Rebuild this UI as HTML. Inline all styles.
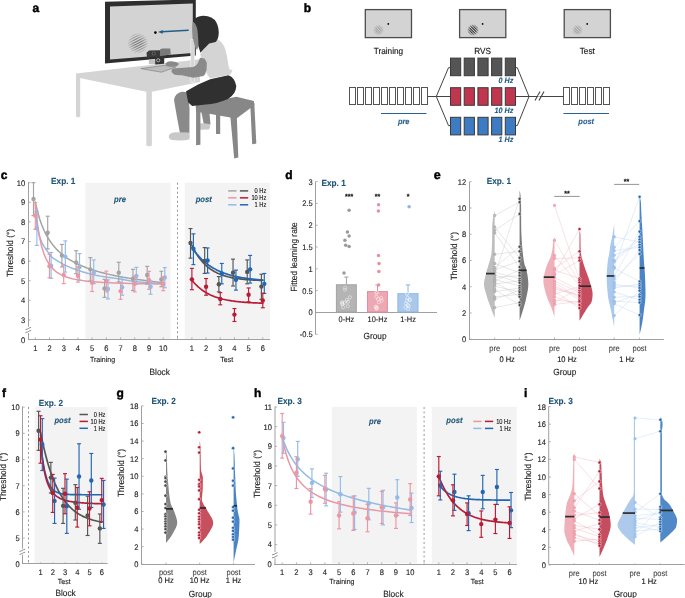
<!DOCTYPE html>
<html><head><meta charset="utf-8"><style>
html,body{margin:0;padding:0;background:#fff;}
body{width:685px;height:598px;overflow:hidden;position:relative;}
.gr{position:absolute;border-radius:50%;-webkit-mask-image:radial-gradient(circle closest-side, #000 45%, rgba(0,0,0,0.35) 85%, transparent 100%);mask-image:radial-gradient(circle closest-side, #000 45%, rgba(0,0,0,0.35) 85%, transparent 100%);}
svg{display:block;font-family:"Liberation Sans", sans-serif;will-change:transform;text-rendering:geometricPrecision;}
</style></head><body>
<svg width="685" height="598" viewBox="0 0 685 598">
<rect width="685" height="598" fill="#fff"/>
<text x="0" y="0" font-size="12" text-anchor="start" fill="#000" stroke="#000" stroke-width="0.45" font-weight="bold" transform="translate(32.5,12)">a</text>
<polygon points="76,73.5 200,59.2 200,82 151.9,91.8 146.3,91.8 76,77.3" fill="#d4d4d4" stroke="none" stroke-width="0" />
<path d="M76,75 L80.2,75 L80.2,116.6 Q78.1,118.2 76,116.6 Z" fill="#d4d4d4" stroke="none" stroke-width="0" />
<path d="M146.3,90 L151.9,90 L151.9,145.6 Q149.1,147.2 146.3,145.6 Z" fill="#d4d4d4" stroke="none" stroke-width="0" />
<polygon points="105,1.8 195.8,-0.6 195.8,55.6 105,63.6" fill="#2e2e2e" stroke="none" stroke-width="0" />
<polygon points="110,6.4 192.8,3.4 192.8,53.1 110,59.4" fill="#d3d3d3" stroke="none" stroke-width="0" />
<defs><clipPath id="clip_a1"><circle cx="137.8" cy="43.3" r="10.2"/></clipPath><radialGradient id="rg_a1"><stop offset="0.4" stop-color="white"/><stop offset="1" stop-color="#222"/></radialGradient><mask id="mask_a1"><circle cx="137.8" cy="43.3" r="10.2" fill="url(#rg_a1)"/></mask></defs>
<g opacity="0.6" clip-path="url(#clip_a1)" mask="url(#mask_a1)">
<line x1="117.02" y1="36.21" x2="144.28" y2="22.32" stroke="#444" stroke-width="1.08" />
<line x1="118.04" y1="38.22" x2="145.3" y2="24.33" stroke="#444" stroke-width="1.08" />
<line x1="119.06" y1="40.22" x2="146.33" y2="26.33" stroke="#444" stroke-width="1.08" />
<line x1="120.08" y1="42.23" x2="147.35" y2="28.33" stroke="#444" stroke-width="1.08" />
<line x1="121.1" y1="44.23" x2="148.37" y2="30.34" stroke="#444" stroke-width="1.08" />
<line x1="122.12" y1="46.24" x2="149.39" y2="32.34" stroke="#444" stroke-width="1.08" />
<line x1="123.15" y1="48.24" x2="150.41" y2="34.35" stroke="#444" stroke-width="1.08" />
<line x1="124.17" y1="50.25" x2="151.43" y2="36.35" stroke="#444" stroke-width="1.08" />
<line x1="125.19" y1="52.25" x2="152.45" y2="38.36" stroke="#444" stroke-width="1.08" />
<line x1="126.21" y1="54.26" x2="153.48" y2="40.36" stroke="#444" stroke-width="1.08" />
<line x1="127.23" y1="56.26" x2="154.5" y2="42.37" stroke="#444" stroke-width="1.08" />
<line x1="128.25" y1="58.27" x2="155.52" y2="44.37" stroke="#444" stroke-width="1.08" />
<line x1="129.27" y1="60.27" x2="156.54" y2="46.38" stroke="#444" stroke-width="1.08" />
<line x1="130.3" y1="62.27" x2="157.56" y2="48.38" stroke="#444" stroke-width="1.08" />
<line x1="131.32" y1="64.28" x2="158.58" y2="50.39" stroke="#444" stroke-width="1.08" />
</g>
<circle cx="155.4" cy="32.6" r="1.3" fill="#000" stroke="none" stroke-width="0" />
<line x1="188.7" y1="30.3" x2="161.5" y2="31.8" stroke="#1f5f8a" stroke-width="1.4" />
<polygon points="158,32 162.8,29.9 162.8,33.7" fill="#1f5f8a" stroke="none" stroke-width="0" />
<polygon points="148.8,59.6 155.5,59.6 155.5,64.2 148.8,64.2" fill="#c4c4c4" stroke="none" stroke-width="0" />
<polygon points="155.2,56.4 164.2,55.6 164.2,63.8 155.2,64.4" fill="#333" stroke="none" stroke-width="0" />
<circle cx="158.2" cy="60.3" r="1.6" fill="none" stroke="#ddd" stroke-width="0.7" />
<polygon points="146.5,52.8 149,50.4 160,50.2 160,56.4 147,57.4" fill="#3a3a3a" stroke="none" stroke-width="0" />
<circle cx="153.7" cy="53.4" r="2" fill="#666" stroke="none" stroke-width="0" />
<circle cx="153.7" cy="53.4" r="1" fill="#222" stroke="none" stroke-width="0" />
<polygon points="160,49.6 162,48.6 170.2,48.4 170.8,54.6 160,56" fill="#7a7a7a" stroke="none" stroke-width="0" />
<polygon points="140.9,68.6 164.2,65.4 175.9,67 161.3,72.2" fill="#bdbdbd" stroke="#777" stroke-width="0.6" />
<polygon points="201,110 209,108 210.5,124.5 204,125.5" fill="#8a8a8a" stroke="none" stroke-width="0" />
<path d="M196.5,126 Q197,123 203,123.2 L209.5,124 Q211,127 209,129.6 L199,129.8 Q196,129 196.5,126 Z" fill="#c8c8c8" stroke="none" stroke-width="0" />
<polygon points="195.7,105.2 236.3,96.7 253.9,101.1 254.3,105.3 236.5,118.4 230.2,117.4 202.2,112.6 196.1,112.3" fill="#878787" stroke="none" stroke-width="0" />
<polygon points="196.1,110 200.4,110 200.4,144.8 196.1,145.2" fill="#878787" stroke="none" stroke-width="0" />
<polygon points="216,113 220.2,113.5 220.2,134 216,134" fill="#878787" stroke="none" stroke-width="0" />
<polygon points="250.2,103 254.3,103 256.3,143.6 252.2,144.2" fill="#878787" stroke="none" stroke-width="0" />
<polygon points="230.3,116 236.8,116 238.3,157.4 234.2,158.4" fill="#878787" stroke="none" stroke-width="0" />
<path d="M174,100 Q175,93 182,91.8 L188,92.2 L189.5,108 L189.4,134 L180.2,134.6 Q177,118 174,100 Z" fill="#8a8a8a" stroke="none" stroke-width="0" />
<path d="M168.8,136 Q169.5,132.6 176,132.3 L188.8,132.6 Q190.6,136 189.3,139.4 Q182,141 172,140 Q168.6,139 168.8,136 Z" fill="#c8c8c8" stroke="none" stroke-width="0" />
<path d="M186.1,91.2 L198.1,84.6 L210.2,79.2 L228.2,75.2 Q234.5,77 236.3,86 Q236,94 228,99 Q216,104 206,104.6 L192.1,106 L188.1,102.3 Z" fill="#303030" stroke="none" stroke-width="0" />
<path d="M200.2,54.5 Q205,45 211.6,41 L218.4,39.7 Q223.5,43 225.5,50 Q227.5,58 228.6,66 L229.6,69.6 L232.6,70 L230.4,74.4 L210.2,78.4 Q206,74 206.2,70 L203,62 Z" fill="#d4d4d4" stroke="none" stroke-width="0" />
<rect x="190.8" y="39.2" width="3.8" height="43" fill="#d6d6d6" stroke="#f4f4f4" stroke-width="0.6" />
<path d="M192.6,22.5 Q197,19 198.5,24 L199.5,44 L197,50 L195,46.5 L193.3,40 L192.2,30 Z" fill="#8a8a8a" stroke="none" stroke-width="0" />
<path d="M192.8,21.2 Q196,16.2 203,15.8 Q212.5,15.6 216.4,22.5 Q219.3,28 218.6,35 Q218,40 215.6,42 L209.2,43.4 Q203.5,49 200.4,52.8 L198.6,46.8 Q198.2,38 197.6,31 Q196.6,24 192.8,21.2 Z" fill="#2f2f2f" stroke="none" stroke-width="0" />
<path d="M200.1,57.7 L204.3,58.5 Q207.2,62 206.8,64.4 L206.5,70.2 Q205.5,74.5 203.5,76.1 L193.4,77.8 L181.7,75.3 L175.9,74.9 Q172.3,74.4 171.4,71.1 Q171.6,69 173.4,68.6 L183.4,67.7 L193.4,66.9 Q196.8,65.5 197.6,63.5 Z" fill="#8a8a8a" stroke="none" stroke-width="0" />
<path d="M165.4,63.6 Q167.5,61 171,61.2 L176,62 L179,63.8 L177,66.2 L170,66.4 L166.4,65.8 Z" fill="#8a8a8a" stroke="none" stroke-width="0" />
<text x="0" y="0" font-size="12" text-anchor="start" fill="#000" stroke="#000" stroke-width="0.45" font-weight="bold" transform="translate(303.7,12)">b</text>
<rect x="365.3" y="9.6" width="46.2" height="28" fill="#d3d3d3" stroke="#4d4d4d" stroke-width="1.3" />
<circle cx="388.3" cy="23.9" r="0.9" fill="#000" stroke="none" stroke-width="0" />
<text x="0" y="0" font-size="8.86" text-anchor="middle" fill="#111" stroke="#111" stroke-width="0.12" transform="translate(388.4,53.79) scale(0.93,1)">Training</text>
<rect x="459.6" y="9.6" width="46.2" height="28" fill="#d3d3d3" stroke="#4d4d4d" stroke-width="1.3" />
<circle cx="482.6" cy="23.9" r="0.9" fill="#000" stroke="none" stroke-width="0" />
<text x="0" y="0" font-size="8.86" text-anchor="middle" fill="#111" stroke="#111" stroke-width="0.12" transform="translate(482.7,53.79) scale(0.93,1)">RVS</text>
<rect x="564.2" y="9.6" width="46.2" height="28" fill="#d3d3d3" stroke="#4d4d4d" stroke-width="1.3" />
<circle cx="587.2" cy="23.9" r="0.9" fill="#000" stroke="none" stroke-width="0" />
<text x="0" y="0" font-size="8.86" text-anchor="middle" fill="#111" stroke="#111" stroke-width="0.12" transform="translate(587.3,53.79) scale(0.93,1)">Test</text>
<rect x="349.5" y="87.5" width="6" height="17" fill="white" stroke="#555" stroke-width="1.0" />
<rect x="357.5" y="87.5" width="6" height="17" fill="white" stroke="#555" stroke-width="1.0" />
<rect x="365.5" y="87.5" width="6" height="17" fill="white" stroke="#555" stroke-width="1.0" />
<rect x="373.5" y="87.5" width="6" height="17" fill="white" stroke="#555" stroke-width="1.0" />
<rect x="381.5" y="87.5" width="6" height="17" fill="white" stroke="#555" stroke-width="1.0" />
<rect x="389.5" y="87.5" width="6" height="17" fill="white" stroke="#555" stroke-width="1.0" />
<rect x="397.5" y="87.5" width="6" height="17" fill="white" stroke="#555" stroke-width="1.0" />
<rect x="405.5" y="87.5" width="6" height="17" fill="white" stroke="#555" stroke-width="1.0" />
<rect x="413.5" y="87.5" width="6" height="17" fill="white" stroke="#555" stroke-width="1.0" />
<rect x="421.5" y="87.5" width="6" height="17" fill="white" stroke="#555" stroke-width="1.0" />
<line x1="381" y1="113.5" x2="426.5" y2="113.5" stroke="#2a6290" stroke-width="1.0" />
<text x="0" y="0" font-size="7.99" text-anchor="middle" fill="#2a6290" stroke="#2a6290" stroke-width="0.12" font-weight="bold" font-style="italic" transform="translate(403.7,124.38) scale(0.93,1)">pre</text>
<rect x="563.5" y="87.5" width="6" height="17" fill="white" stroke="#555" stroke-width="1.0" />
<rect x="571.5" y="87.5" width="6" height="17" fill="white" stroke="#555" stroke-width="1.0" />
<rect x="579.5" y="87.5" width="6" height="17" fill="white" stroke="#555" stroke-width="1.0" />
<rect x="587.5" y="87.5" width="6" height="17" fill="white" stroke="#555" stroke-width="1.0" />
<rect x="595.5" y="87.5" width="6" height="17" fill="white" stroke="#555" stroke-width="1.0" />
<rect x="603.5" y="87.5" width="6" height="17" fill="white" stroke="#555" stroke-width="1.0" />
<line x1="563.4" y1="113.5" x2="609" y2="113.5" stroke="#2a6290" stroke-width="1.0" />
<text x="0" y="0" font-size="7.99" text-anchor="middle" fill="#2a6290" stroke="#2a6290" stroke-width="0.12" font-weight="bold" font-style="italic" transform="translate(586.2,124.38) scale(0.93,1)">post</text>
<polyline points="428,96.5 436.3,96.5" fill="none" stroke="#444" stroke-width="1.0" />
<polyline points="450,67.7 448.5,67.7 436.3,96.5 448.5,125.6 450,125.6" fill="none" stroke="#444" stroke-width="1.0" stroke-linejoin="round"/>
<polyline points="436.3,96.5 450,96.5" fill="none" stroke="#444" stroke-width="1.0" />
<polyline points="515.6,67.7 517.3,67.7 529,96.5 517.3,125.6 515.6,125.6" fill="none" stroke="#444" stroke-width="1.0" stroke-linejoin="round"/>
<polyline points="515.6,96.5 563.5,96.5" fill="none" stroke="#444" stroke-width="1.0" />
<line x1="535" y1="100.5" x2="540" y2="91.5" stroke="#444" stroke-width="1.1" />
<line x1="539" y1="100.5" x2="544" y2="91.5" stroke="#444" stroke-width="1.1" />
<rect x="538.4" y="94.9" width="1.2" height="2.4" fill="white" stroke="none" stroke-width="0" />
<rect x="450.5" y="58.1" width="10.2" height="17.6" fill="#555555" stroke="#3a3a3a" stroke-width="1.0" />
<rect x="464.2" y="58.1" width="10.2" height="17.6" fill="#555555" stroke="#3a3a3a" stroke-width="1.0" />
<rect x="477.9" y="58.1" width="10.2" height="17.6" fill="#555555" stroke="#3a3a3a" stroke-width="1.0" />
<rect x="491.6" y="58.1" width="10.2" height="17.6" fill="#555555" stroke="#3a3a3a" stroke-width="1.0" />
<rect x="505.3" y="58.1" width="10.2" height="17.6" fill="#555555" stroke="#3a3a3a" stroke-width="1.0" />
<text x="0" y="0" font-size="7.78" text-anchor="end" fill="#1f5a86" stroke="#1f5a86" stroke-width="0.12" font-weight="bold" font-style="italic" transform="translate(513.4,83.2) scale(0.93,1)">0 Hz</text>
<rect x="450.5" y="87.7" width="10.2" height="17.6" fill="#c0364e" stroke="#3a3a3a" stroke-width="1.0" />
<rect x="464.2" y="87.7" width="10.2" height="17.6" fill="#c0364e" stroke="#3a3a3a" stroke-width="1.0" />
<rect x="477.9" y="87.7" width="10.2" height="17.6" fill="#c0364e" stroke="#3a3a3a" stroke-width="1.0" />
<rect x="491.6" y="87.7" width="10.2" height="17.6" fill="#c0364e" stroke="#3a3a3a" stroke-width="1.0" />
<rect x="505.3" y="87.7" width="10.2" height="17.6" fill="#c0364e" stroke="#3a3a3a" stroke-width="1.0" />
<text x="0" y="0" font-size="7.78" text-anchor="end" fill="#1f5a86" stroke="#1f5a86" stroke-width="0.12" font-weight="bold" font-style="italic" transform="translate(513.4,112.8) scale(0.93,1)">10 Hz</text>
<rect x="450.5" y="117.3" width="10.2" height="17.6" fill="#3d7cc2" stroke="#3a3a3a" stroke-width="1.0" />
<rect x="464.2" y="117.3" width="10.2" height="17.6" fill="#3d7cc2" stroke="#3a3a3a" stroke-width="1.0" />
<rect x="477.9" y="117.3" width="10.2" height="17.6" fill="#3d7cc2" stroke="#3a3a3a" stroke-width="1.0" />
<rect x="491.6" y="117.3" width="10.2" height="17.6" fill="#3d7cc2" stroke="#3a3a3a" stroke-width="1.0" />
<rect x="505.3" y="117.3" width="10.2" height="17.6" fill="#3d7cc2" stroke="#3a3a3a" stroke-width="1.0" />
<text x="0" y="0" font-size="7.78" text-anchor="end" fill="#1f5a86" stroke="#1f5a86" stroke-width="0.12" font-weight="bold" font-style="italic" transform="translate(513.4,142.4) scale(0.93,1)">1 Hz</text>
<rect x="85.3" y="182.7" width="85.3" height="156.2" fill="#f3f3f3" stroke="none" stroke-width="0" />
<rect x="184.7" y="182.7" width="85.3" height="156.2" fill="#f3f3f3" stroke="none" stroke-width="0" />
<line x1="177.5" y1="182.7" x2="177.5" y2="339" stroke="#8a8a8a" stroke-width="0.9" stroke-dasharray="2,2.5"/>
<line x1="28.5" y1="182.2" x2="28.5" y2="339.5" stroke="#a0a0a0" stroke-width="1" />
<line x1="28" y1="339.5" x2="270" y2="339.5" stroke="#a0a0a0" stroke-width="1" />
<line x1="28.5" y1="182.7" x2="30.7" y2="182.7" stroke="#a0a0a0" stroke-width="0.8" />
<text x="0" y="0" font-size="8.1" text-anchor="end" fill="#222222" stroke="#222222" stroke-width="0.12" transform="translate(25.2,185.62) scale(0.93,1)">10</text>
<line x1="28.5" y1="202.3" x2="30.7" y2="202.3" stroke="#a0a0a0" stroke-width="0.8" />
<text x="0" y="0" font-size="8.1" text-anchor="end" fill="#222222" stroke="#222222" stroke-width="0.12" transform="translate(25.2,205.22) scale(0.93,1)">9</text>
<line x1="28.5" y1="221.9" x2="30.7" y2="221.9" stroke="#a0a0a0" stroke-width="0.8" />
<text x="0" y="0" font-size="8.1" text-anchor="end" fill="#222222" stroke="#222222" stroke-width="0.12" transform="translate(25.2,224.82) scale(0.93,1)">8</text>
<line x1="28.5" y1="241.5" x2="30.7" y2="241.5" stroke="#a0a0a0" stroke-width="0.8" />
<text x="0" y="0" font-size="8.1" text-anchor="end" fill="#222222" stroke="#222222" stroke-width="0.12" transform="translate(25.2,244.42) scale(0.93,1)">7</text>
<line x1="28.5" y1="261.1" x2="30.7" y2="261.1" stroke="#a0a0a0" stroke-width="0.8" />
<text x="0" y="0" font-size="8.1" text-anchor="end" fill="#222222" stroke="#222222" stroke-width="0.12" transform="translate(25.2,264.02) scale(0.93,1)">6</text>
<line x1="28.5" y1="280.7" x2="30.7" y2="280.7" stroke="#a0a0a0" stroke-width="0.8" />
<text x="0" y="0" font-size="8.1" text-anchor="end" fill="#222222" stroke="#222222" stroke-width="0.12" transform="translate(25.2,283.62) scale(0.93,1)">5</text>
<line x1="28.5" y1="300.3" x2="30.7" y2="300.3" stroke="#a0a0a0" stroke-width="0.8" />
<text x="0" y="0" font-size="8.1" text-anchor="end" fill="#222222" stroke="#222222" stroke-width="0.12" transform="translate(25.2,303.22) scale(0.93,1)">4</text>
<line x1="28.5" y1="319.9" x2="30.7" y2="319.9" stroke="#a0a0a0" stroke-width="0.8" />
<text x="0" y="0" font-size="8.1" text-anchor="end" fill="#222222" stroke="#222222" stroke-width="0.12" transform="translate(25.2,322.82) scale(0.93,1)">3</text>
<text x="0" y="0" font-size="8.1" text-anchor="end" fill="#222222" stroke="#222222" stroke-width="0.12" transform="translate(25.2,343.12) scale(0.93,1)">0</text>
<rect x="27.5" y="326.8" width="2" height="6.2" fill="white" stroke="none" stroke-width="0" />
<path d="M25.5,329.6 Q28,329 28.7,328.4 T31.1,327.4" fill="none" stroke="#666" stroke-width="0.75" />
<path d="M25.5,332.6 Q28,332 28.7,331.4 T31.1,330.4" fill="none" stroke="#666" stroke-width="0.75" />
<line x1="35.3" y1="339.5" x2="35.3" y2="337.4" stroke="#a0a0a0" stroke-width="0.8" />
<text x="0" y="0" font-size="8.1" text-anchor="middle" fill="#222222" stroke="#222222" stroke-width="0.12" transform="translate(35.3,350.52) scale(0.93,1)">1</text>
<line x1="49.51" y1="339.5" x2="49.51" y2="337.4" stroke="#a0a0a0" stroke-width="0.8" />
<text x="0" y="0" font-size="8.1" text-anchor="middle" fill="#222222" stroke="#222222" stroke-width="0.12" transform="translate(49.51,350.52) scale(0.93,1)">2</text>
<line x1="63.72" y1="339.5" x2="63.72" y2="337.4" stroke="#a0a0a0" stroke-width="0.8" />
<text x="0" y="0" font-size="8.1" text-anchor="middle" fill="#222222" stroke="#222222" stroke-width="0.12" transform="translate(63.72,350.52) scale(0.93,1)">3</text>
<line x1="77.93" y1="339.5" x2="77.93" y2="337.4" stroke="#a0a0a0" stroke-width="0.8" />
<text x="0" y="0" font-size="8.1" text-anchor="middle" fill="#222222" stroke="#222222" stroke-width="0.12" transform="translate(77.93,350.52) scale(0.93,1)">4</text>
<line x1="92.14" y1="339.5" x2="92.14" y2="337.4" stroke="#a0a0a0" stroke-width="0.8" />
<text x="0" y="0" font-size="8.1" text-anchor="middle" fill="#222222" stroke="#222222" stroke-width="0.12" transform="translate(92.14,350.52) scale(0.93,1)">5</text>
<line x1="106.35" y1="339.5" x2="106.35" y2="337.4" stroke="#a0a0a0" stroke-width="0.8" />
<text x="0" y="0" font-size="8.1" text-anchor="middle" fill="#222222" stroke="#222222" stroke-width="0.12" transform="translate(106.35,350.52) scale(0.93,1)">6</text>
<line x1="120.56" y1="339.5" x2="120.56" y2="337.4" stroke="#a0a0a0" stroke-width="0.8" />
<text x="0" y="0" font-size="8.1" text-anchor="middle" fill="#222222" stroke="#222222" stroke-width="0.12" transform="translate(120.56,350.52) scale(0.93,1)">7</text>
<line x1="134.77" y1="339.5" x2="134.77" y2="337.4" stroke="#a0a0a0" stroke-width="0.8" />
<text x="0" y="0" font-size="8.1" text-anchor="middle" fill="#222222" stroke="#222222" stroke-width="0.12" transform="translate(134.77,350.52) scale(0.93,1)">8</text>
<line x1="148.98" y1="339.5" x2="148.98" y2="337.4" stroke="#a0a0a0" stroke-width="0.8" />
<text x="0" y="0" font-size="8.1" text-anchor="middle" fill="#222222" stroke="#222222" stroke-width="0.12" transform="translate(148.98,350.52) scale(0.93,1)">9</text>
<line x1="163.19" y1="339.5" x2="163.19" y2="337.4" stroke="#a0a0a0" stroke-width="0.8" />
<text x="0" y="0" font-size="8.1" text-anchor="middle" fill="#222222" stroke="#222222" stroke-width="0.12" transform="translate(163.19,350.52) scale(0.93,1)">10</text>
<line x1="177.5" y1="339.5" x2="177.5" y2="337.4" stroke="#a0a0a0" stroke-width="0.8" />
<line x1="191.9" y1="339.5" x2="191.9" y2="337.4" stroke="#a0a0a0" stroke-width="0.8" />
<text x="0" y="0" font-size="8.1" text-anchor="middle" fill="#222222" stroke="#222222" stroke-width="0.12" transform="translate(191.9,350.52) scale(0.93,1)">1</text>
<line x1="206.08" y1="339.5" x2="206.08" y2="337.4" stroke="#a0a0a0" stroke-width="0.8" />
<text x="0" y="0" font-size="8.1" text-anchor="middle" fill="#222222" stroke="#222222" stroke-width="0.12" transform="translate(206.08,350.52) scale(0.93,1)">2</text>
<line x1="220.26" y1="339.5" x2="220.26" y2="337.4" stroke="#a0a0a0" stroke-width="0.8" />
<text x="0" y="0" font-size="8.1" text-anchor="middle" fill="#222222" stroke="#222222" stroke-width="0.12" transform="translate(220.26,350.52) scale(0.93,1)">3</text>
<line x1="234.44" y1="339.5" x2="234.44" y2="337.4" stroke="#a0a0a0" stroke-width="0.8" />
<text x="0" y="0" font-size="8.1" text-anchor="middle" fill="#222222" stroke="#222222" stroke-width="0.12" transform="translate(234.44,350.52) scale(0.93,1)">4</text>
<line x1="248.62" y1="339.5" x2="248.62" y2="337.4" stroke="#a0a0a0" stroke-width="0.8" />
<text x="0" y="0" font-size="8.1" text-anchor="middle" fill="#222222" stroke="#222222" stroke-width="0.12" transform="translate(248.62,350.52) scale(0.93,1)">5</text>
<line x1="262.8" y1="339.5" x2="262.8" y2="337.4" stroke="#a0a0a0" stroke-width="0.8" />
<text x="0" y="0" font-size="8.1" text-anchor="middle" fill="#222222" stroke="#222222" stroke-width="0.12" transform="translate(262.8,350.52) scale(0.93,1)">6</text>
<text x="0" y="0" font-size="7.56" text-anchor="middle" fill="#222" stroke="#222" stroke-width="0.12" transform="translate(102.5,362.42) scale(0.93,1)">Training</text>
<text x="0" y="0" font-size="7.56" text-anchor="middle" fill="#222" stroke="#222" stroke-width="0.12" transform="translate(226.7,362.42) scale(0.93,1)">Test</text>
<text x="0" y="0" font-size="8.96" text-anchor="middle" fill="#222" stroke="#222" stroke-width="0.12" transform="translate(159.7,375.13) scale(0.93,1)">Block</text>
<text x="0" y="0" font-size="8.96" text-anchor="middle" fill="#222" stroke="#222" stroke-width="0.12" transform="translate(9.3,253) rotate(-90) translate(0,3.23) scale(0.93,1)">Threshold (°)</text>
<text x="0" y="0" font-size="12" text-anchor="start" fill="#000" stroke="#000" stroke-width="0.45" font-weight="bold" transform="translate(0.8,179.4)">c</text>
<text x="0" y="0" font-size="8.86" text-anchor="middle" fill="#1d5577" stroke="#1d5577" stroke-width="0.12" font-weight="bold" transform="translate(63.2,184.19) scale(0.93,1)">Exp. 1</text>
<text x="0" y="0" font-size="8.21" text-anchor="middle" fill="#1d5577" stroke="#1d5577" stroke-width="0.12" font-weight="bold" font-style="italic" transform="translate(120,201.95) scale(0.93,1)">pre</text>
<text x="0" y="0" font-size="8.21" text-anchor="middle" fill="#1d5577" stroke="#1d5577" stroke-width="0.12" font-weight="bold" font-style="italic" transform="translate(203.7,201.65) scale(0.93,1)">post</text>
<line x1="228.2" y1="190.9" x2="236.5" y2="190.9" stroke="#a3a3a3" stroke-width="1.5" />
<line x1="239.9" y1="190.9" x2="248.2" y2="190.9" stroke="#555555" stroke-width="1.5" />
<text x="0" y="0" font-size="7.13" text-anchor="end" fill="#111" stroke="#111" stroke-width="0.12" transform="translate(266.3,193.47) scale(0.8,1)">0 Hz</text>
<line x1="228.2" y1="197.85" x2="236.5" y2="197.85" stroke="#ec96a4" stroke-width="1.5" />
<line x1="239.9" y1="197.85" x2="248.2" y2="197.85" stroke="#b71c35" stroke-width="1.5" />
<text x="0" y="0" font-size="7.13" text-anchor="end" fill="#111" stroke="#111" stroke-width="0.12" transform="translate(266.3,200.42) scale(0.8,1)">10 Hz</text>
<line x1="228.2" y1="204.8" x2="236.5" y2="204.8" stroke="#92bbe7" stroke-width="1.5" />
<line x1="239.9" y1="204.8" x2="248.2" y2="204.8" stroke="#2366b2" stroke-width="1.5" />
<text x="0" y="0" font-size="7.13" text-anchor="end" fill="#111" stroke="#111" stroke-width="0.12" transform="translate(266.3,207.37) scale(0.8,1)">1 Hz</text>
<polyline points="35.3,202.07 37.47,211.43 39.64,218.92 41.8,225.07 43.97,230.22 46.14,234.62 48.31,238.42 50.47,241.74 52.64,244.67 54.81,247.29 56.98,249.64 59.14,251.76 61.31,253.68 63.48,255.44 65.65,257.06 67.81,258.54 69.98,259.92 72.15,261.2 74.32,262.39 76.48,263.5 78.65,264.54 80.82,265.51 82.99,266.43 85.16,267.3 87.32,268.12 89.49,268.89 91.66,269.62 93.83,270.32 95.99,270.98 98.16,271.62 100.33,272.22 102.5,272.79 104.66,273.34 106.83,273.87 109,274.38 111.17,274.86 113.33,275.33 115.5,275.77 117.67,276.2 119.84,276.62 122.01,277.02 124.17,277.4 126.34,277.77 128.51,278.13 130.68,278.48 132.84,278.82 135.01,279.14 137.18,279.46 139.35,279.76 141.51,280.06 143.68,280.35 145.85,280.62 148.02,280.89 150.18,281.16 152.35,281.41 154.52,281.66 156.69,281.9 158.85,282.14 161.02,282.37 163.19,282.59" fill="none" stroke="#a3a3a3" stroke-width="1.5" stroke-linecap="round" stroke-linejoin="round"/>
<polyline points="35.3,212.1 37.47,228.66 39.64,236.89 41.8,242.36 43.97,246.33 46.14,249.49 48.31,252.61 50.47,255.89 52.64,257.78 54.81,259.17 56.98,260.58 59.14,261.93 61.31,263.19 63.48,264.34 65.65,265.42 67.81,266.42 69.98,267.36 72.15,268.23 74.32,269.04 76.48,269.81 78.65,270.55 80.82,271.26 82.99,271.92 85.16,272.55 87.32,273.17 89.49,273.76 91.66,274.33 93.83,274.85 95.99,275.33 98.16,275.74 100.33,276.13 102.5,276.49 104.66,276.82 106.83,277.14 109,277.45 111.17,277.76 113.33,278.07 115.5,278.38 117.67,278.7 119.84,279.05 122.01,279.42 124.17,279.81 126.34,280.2 128.51,280.57 130.68,280.92 132.84,281.22 135.01,281.49 137.18,281.73 139.35,281.96 141.51,282.17 143.68,282.37 145.85,282.54 148.02,282.69 150.18,282.83 152.35,282.96 154.52,283.09 156.69,283.2 158.85,283.3 161.02,283.38 163.19,283.44" fill="none" stroke="#92bbe7" stroke-width="1.5" stroke-linecap="round" stroke-linejoin="round"/>
<polyline points="35.3,203.96 37.47,224.08 39.64,237.54 41.8,246.98 43.97,253.85 46.14,259.01 48.31,262.98 50.47,266.1 52.64,268.6 54.81,270.63 56.98,272.3 59.14,273.69 61.31,274.86 63.48,275.86 65.65,276.71 67.81,277.45 69.98,278.09 72.15,278.65 74.32,279.14 76.48,279.57 78.65,279.96 80.82,280.31 82.99,280.62 85.16,280.9 87.32,281.15 89.49,281.37 91.66,281.58 93.83,281.77 95.99,281.94 98.16,282.1 100.33,282.25 102.5,282.38 104.66,282.5 106.83,282.62 109,282.72 111.17,282.82 113.33,282.91 115.5,283 117.67,283.08 119.84,283.15 122.01,283.22 124.17,283.29 126.34,283.35 128.51,283.4 130.68,283.46 132.84,283.51 135.01,283.56 137.18,283.6 139.35,283.64 141.51,283.68 143.68,283.72 145.85,283.76 148.02,283.79 150.18,283.83 152.35,283.86 154.52,283.89 156.69,283.92 158.85,283.94 161.02,283.97 163.19,283.99" fill="none" stroke="#ec96a4" stroke-width="1.5" stroke-linecap="round" stroke-linejoin="round"/>
<line x1="33.5" y1="182.7" x2="33.5" y2="215.63" stroke="#a3a3a3" stroke-width="1.15" />
<line x1="31.5" y1="182.7" x2="35.5" y2="182.7" stroke="#a3a3a3" stroke-width="1.15" />
<line x1="31.5" y1="215.63" x2="35.5" y2="215.63" stroke="#a3a3a3" stroke-width="1.15" />
<circle cx="33.5" cy="198.97" r="2.2" fill="#a3a3a3" stroke="none" stroke-width="0" />
<line x1="47.71" y1="216.22" x2="47.71" y2="248.95" stroke="#a3a3a3" stroke-width="1.15" />
<line x1="45.71" y1="216.22" x2="49.71" y2="216.22" stroke="#a3a3a3" stroke-width="1.15" />
<line x1="45.71" y1="248.95" x2="49.71" y2="248.95" stroke="#a3a3a3" stroke-width="1.15" />
<circle cx="47.71" cy="232.68" r="2.2" fill="#a3a3a3" stroke="none" stroke-width="0" />
<line x1="61.92" y1="244.44" x2="61.92" y2="266.98" stroke="#a3a3a3" stroke-width="1.15" />
<line x1="59.92" y1="244.44" x2="63.92" y2="244.44" stroke="#a3a3a3" stroke-width="1.15" />
<line x1="59.92" y1="266.98" x2="63.92" y2="266.98" stroke="#a3a3a3" stroke-width="1.15" />
<circle cx="61.92" cy="255.61" r="2.2" fill="#a3a3a3" stroke="none" stroke-width="0" />
<line x1="76.13" y1="250.71" x2="76.13" y2="273.64" stroke="#a3a3a3" stroke-width="1.15" />
<line x1="74.13" y1="250.71" x2="78.13" y2="250.71" stroke="#a3a3a3" stroke-width="1.15" />
<line x1="74.13" y1="273.64" x2="78.13" y2="273.64" stroke="#a3a3a3" stroke-width="1.15" />
<circle cx="76.13" cy="262.47" r="2.2" fill="#a3a3a3" stroke="none" stroke-width="0" />
<line x1="90.34" y1="257.57" x2="90.34" y2="281.29" stroke="#a3a3a3" stroke-width="1.15" />
<line x1="88.34" y1="257.57" x2="92.34" y2="257.57" stroke="#a3a3a3" stroke-width="1.15" />
<line x1="88.34" y1="281.29" x2="92.34" y2="281.29" stroke="#a3a3a3" stroke-width="1.15" />
<circle cx="90.34" cy="269.33" r="2.2" fill="#a3a3a3" stroke="none" stroke-width="0" />
<line x1="104.55" y1="279.33" x2="104.55" y2="297.36" stroke="#a3a3a3" stroke-width="1.15" />
<line x1="102.55" y1="279.33" x2="106.55" y2="279.33" stroke="#a3a3a3" stroke-width="1.15" />
<line x1="102.55" y1="297.36" x2="106.55" y2="297.36" stroke="#a3a3a3" stroke-width="1.15" />
<circle cx="104.55" cy="288.54" r="2.2" fill="#a3a3a3" stroke="none" stroke-width="0" />
<line x1="118.76" y1="262.28" x2="118.76" y2="281.88" stroke="#a3a3a3" stroke-width="1.15" />
<line x1="116.76" y1="262.28" x2="120.76" y2="262.28" stroke="#a3a3a3" stroke-width="1.15" />
<line x1="116.76" y1="281.88" x2="120.76" y2="281.88" stroke="#a3a3a3" stroke-width="1.15" />
<circle cx="118.76" cy="272.66" r="2.2" fill="#a3a3a3" stroke="none" stroke-width="0" />
<line x1="132.97" y1="269.33" x2="132.97" y2="290.5" stroke="#a3a3a3" stroke-width="1.15" />
<line x1="130.97" y1="269.33" x2="134.97" y2="269.33" stroke="#a3a3a3" stroke-width="1.15" />
<line x1="130.97" y1="290.5" x2="134.97" y2="290.5" stroke="#a3a3a3" stroke-width="1.15" />
<circle cx="132.97" cy="278.74" r="2.2" fill="#a3a3a3" stroke="none" stroke-width="0" />
<line x1="147.18" y1="266.39" x2="147.18" y2="284.03" stroke="#a3a3a3" stroke-width="1.15" />
<line x1="145.18" y1="266.39" x2="149.18" y2="266.39" stroke="#a3a3a3" stroke-width="1.15" />
<line x1="145.18" y1="284.03" x2="149.18" y2="284.03" stroke="#a3a3a3" stroke-width="1.15" />
<circle cx="147.18" cy="275.02" r="2.2" fill="#a3a3a3" stroke="none" stroke-width="0" />
<line x1="161.39" y1="271.29" x2="161.39" y2="286.78" stroke="#a3a3a3" stroke-width="1.15" />
<line x1="159.39" y1="271.29" x2="163.39" y2="271.29" stroke="#a3a3a3" stroke-width="1.15" />
<line x1="159.39" y1="286.78" x2="163.39" y2="286.78" stroke="#a3a3a3" stroke-width="1.15" />
<circle cx="161.39" cy="279.33" r="2.2" fill="#a3a3a3" stroke="none" stroke-width="0" />
<line x1="36.9" y1="211.32" x2="36.9" y2="245.42" stroke="#92bbe7" stroke-width="1.15" />
<line x1="34.9" y1="211.32" x2="38.9" y2="211.32" stroke="#92bbe7" stroke-width="1.15" />
<line x1="34.9" y1="245.42" x2="38.9" y2="245.42" stroke="#92bbe7" stroke-width="1.15" />
<circle cx="36.9" cy="228.17" r="2.2" fill="#92bbe7" stroke="none" stroke-width="0" />
<line x1="51.11" y1="252.48" x2="51.11" y2="278.35" stroke="#92bbe7" stroke-width="1.15" />
<line x1="49.11" y1="252.48" x2="53.11" y2="252.48" stroke="#92bbe7" stroke-width="1.15" />
<line x1="49.11" y1="278.35" x2="53.11" y2="278.35" stroke="#92bbe7" stroke-width="1.15" />
<circle cx="51.11" cy="265.8" r="2.2" fill="#92bbe7" stroke="none" stroke-width="0" />
<line x1="65.32" y1="240.91" x2="65.32" y2="272.08" stroke="#92bbe7" stroke-width="1.15" />
<line x1="63.32" y1="240.91" x2="67.32" y2="240.91" stroke="#92bbe7" stroke-width="1.15" />
<line x1="63.32" y1="272.08" x2="67.32" y2="272.08" stroke="#92bbe7" stroke-width="1.15" />
<circle cx="65.32" cy="256.59" r="2.2" fill="#92bbe7" stroke="none" stroke-width="0" />
<line x1="79.53" y1="253.65" x2="79.53" y2="280.31" stroke="#92bbe7" stroke-width="1.15" />
<line x1="77.53" y1="253.65" x2="81.53" y2="253.65" stroke="#92bbe7" stroke-width="1.15" />
<line x1="77.53" y1="280.31" x2="81.53" y2="280.31" stroke="#92bbe7" stroke-width="1.15" />
<circle cx="79.53" cy="266.98" r="2.2" fill="#92bbe7" stroke="none" stroke-width="0" />
<line x1="93.74" y1="259.92" x2="93.74" y2="283.64" stroke="#92bbe7" stroke-width="1.15" />
<line x1="91.74" y1="259.92" x2="95.74" y2="259.92" stroke="#92bbe7" stroke-width="1.15" />
<line x1="91.74" y1="283.64" x2="95.74" y2="283.64" stroke="#92bbe7" stroke-width="1.15" />
<circle cx="93.74" cy="272.66" r="2.2" fill="#92bbe7" stroke="none" stroke-width="0" />
<line x1="107.95" y1="279.92" x2="107.95" y2="298.93" stroke="#92bbe7" stroke-width="1.15" />
<line x1="105.95" y1="279.92" x2="109.95" y2="279.92" stroke="#92bbe7" stroke-width="1.15" />
<line x1="105.95" y1="298.93" x2="109.95" y2="298.93" stroke="#92bbe7" stroke-width="1.15" />
<circle cx="107.95" cy="288.93" r="2.2" fill="#92bbe7" stroke="none" stroke-width="0" />
<line x1="122.16" y1="277.56" x2="122.16" y2="295.2" stroke="#92bbe7" stroke-width="1.15" />
<line x1="120.16" y1="277.56" x2="124.16" y2="277.56" stroke="#92bbe7" stroke-width="1.15" />
<line x1="120.16" y1="295.2" x2="124.16" y2="295.2" stroke="#92bbe7" stroke-width="1.15" />
<circle cx="122.16" cy="287.17" r="2.2" fill="#92bbe7" stroke="none" stroke-width="0" />
<line x1="136.37" y1="267.37" x2="136.37" y2="284.23" stroke="#92bbe7" stroke-width="1.15" />
<line x1="134.37" y1="267.37" x2="138.37" y2="267.37" stroke="#92bbe7" stroke-width="1.15" />
<line x1="134.37" y1="284.23" x2="138.37" y2="284.23" stroke="#92bbe7" stroke-width="1.15" />
<circle cx="136.37" cy="276" r="2.2" fill="#92bbe7" stroke="none" stroke-width="0" />
<line x1="150.58" y1="281.09" x2="150.58" y2="294.22" stroke="#92bbe7" stroke-width="1.15" />
<line x1="148.58" y1="281.09" x2="152.58" y2="281.09" stroke="#92bbe7" stroke-width="1.15" />
<line x1="148.58" y1="294.22" x2="152.58" y2="294.22" stroke="#92bbe7" stroke-width="1.15" />
<circle cx="150.58" cy="286.78" r="2.2" fill="#92bbe7" stroke="none" stroke-width="0" />
<line x1="164.79" y1="267.57" x2="164.79" y2="287.76" stroke="#92bbe7" stroke-width="1.15" />
<line x1="162.79" y1="267.57" x2="166.79" y2="267.57" stroke="#92bbe7" stroke-width="1.15" />
<line x1="162.79" y1="287.76" x2="166.79" y2="287.76" stroke="#92bbe7" stroke-width="1.15" />
<circle cx="164.79" cy="277.56" r="2.2" fill="#92bbe7" stroke="none" stroke-width="0" />
<line x1="35.3" y1="202.69" x2="35.3" y2="229.35" stroke="#ec96a4" stroke-width="1.15" />
<line x1="33.3" y1="202.69" x2="37.3" y2="202.69" stroke="#ec96a4" stroke-width="1.15" />
<line x1="33.3" y1="229.35" x2="37.3" y2="229.35" stroke="#ec96a4" stroke-width="1.15" />
<circle cx="35.3" cy="215.82" r="2.2" fill="#ec96a4" stroke="none" stroke-width="0" />
<line x1="49.51" y1="254.44" x2="49.51" y2="277.76" stroke="#ec96a4" stroke-width="1.15" />
<line x1="47.51" y1="254.44" x2="51.51" y2="254.44" stroke="#ec96a4" stroke-width="1.15" />
<line x1="47.51" y1="277.76" x2="51.51" y2="277.76" stroke="#ec96a4" stroke-width="1.15" />
<circle cx="49.51" cy="266.2" r="2.2" fill="#ec96a4" stroke="none" stroke-width="0" />
<line x1="63.72" y1="265.22" x2="63.72" y2="283.64" stroke="#ec96a4" stroke-width="1.15" />
<line x1="61.72" y1="265.22" x2="65.72" y2="265.22" stroke="#ec96a4" stroke-width="1.15" />
<line x1="61.72" y1="283.64" x2="65.72" y2="283.64" stroke="#ec96a4" stroke-width="1.15" />
<circle cx="63.72" cy="275.02" r="2.2" fill="#ec96a4" stroke="none" stroke-width="0" />
<line x1="77.93" y1="266.98" x2="77.93" y2="282.07" stroke="#ec96a4" stroke-width="1.15" />
<line x1="75.93" y1="266.98" x2="79.93" y2="266.98" stroke="#ec96a4" stroke-width="1.15" />
<line x1="75.93" y1="282.07" x2="79.93" y2="282.07" stroke="#ec96a4" stroke-width="1.15" />
<circle cx="77.93" cy="275.8" r="2.2" fill="#ec96a4" stroke="none" stroke-width="0" />
<line x1="92.14" y1="274.23" x2="92.14" y2="291.48" stroke="#ec96a4" stroke-width="1.15" />
<line x1="90.14" y1="274.23" x2="94.14" y2="274.23" stroke="#ec96a4" stroke-width="1.15" />
<line x1="90.14" y1="291.48" x2="94.14" y2="291.48" stroke="#ec96a4" stroke-width="1.15" />
<circle cx="92.14" cy="282.66" r="2.2" fill="#ec96a4" stroke="none" stroke-width="0" />
<line x1="106.35" y1="271.1" x2="106.35" y2="291.87" stroke="#ec96a4" stroke-width="1.15" />
<line x1="104.35" y1="271.1" x2="108.35" y2="271.1" stroke="#ec96a4" stroke-width="1.15" />
<line x1="104.35" y1="291.87" x2="108.35" y2="291.87" stroke="#ec96a4" stroke-width="1.15" />
<circle cx="106.35" cy="281.09" r="2.2" fill="#ec96a4" stroke="none" stroke-width="0" />
<line x1="120.56" y1="282.66" x2="120.56" y2="299.32" stroke="#ec96a4" stroke-width="1.15" />
<line x1="118.56" y1="282.66" x2="122.56" y2="282.66" stroke="#ec96a4" stroke-width="1.15" />
<line x1="118.56" y1="299.32" x2="122.56" y2="299.32" stroke="#ec96a4" stroke-width="1.15" />
<circle cx="120.56" cy="291.09" r="2.2" fill="#ec96a4" stroke="none" stroke-width="0" />
<line x1="134.77" y1="276" x2="134.77" y2="291.87" stroke="#ec96a4" stroke-width="1.15" />
<line x1="132.77" y1="276" x2="136.77" y2="276" stroke="#ec96a4" stroke-width="1.15" />
<line x1="132.77" y1="291.87" x2="136.77" y2="291.87" stroke="#ec96a4" stroke-width="1.15" />
<circle cx="134.77" cy="283.84" r="2.2" fill="#ec96a4" stroke="none" stroke-width="0" />
<line x1="148.98" y1="271.29" x2="148.98" y2="289.32" stroke="#ec96a4" stroke-width="1.15" />
<line x1="146.98" y1="271.29" x2="150.98" y2="271.29" stroke="#ec96a4" stroke-width="1.15" />
<line x1="146.98" y1="289.32" x2="150.98" y2="289.32" stroke="#ec96a4" stroke-width="1.15" />
<circle cx="148.98" cy="280.11" r="2.2" fill="#ec96a4" stroke="none" stroke-width="0" />
<line x1="163.19" y1="276.58" x2="163.19" y2="290.7" stroke="#ec96a4" stroke-width="1.15" />
<line x1="161.19" y1="276.58" x2="165.19" y2="276.58" stroke="#ec96a4" stroke-width="1.15" />
<line x1="161.19" y1="290.7" x2="165.19" y2="290.7" stroke="#ec96a4" stroke-width="1.15" />
<circle cx="163.19" cy="283.84" r="2.2" fill="#ec96a4" stroke="none" stroke-width="0" />
<polyline points="191.9,245.31 193.1,247.75 194.3,250.03 195.51,252.15 196.71,254.12 197.91,255.96 199.11,257.68 200.31,259.27 201.51,260.76 202.72,262.15 203.92,263.44 205.12,264.64 206.32,265.76 207.52,266.8 208.72,267.77 209.93,268.68 211.13,269.52 212.33,270.31 213.53,271.04 214.73,271.72 215.93,272.36 217.14,272.95 218.34,273.5 219.54,274.01 220.74,274.49 221.94,274.94 223.14,275.35 224.35,275.74 225.55,276.1 226.75,276.43 227.95,276.75 229.15,277.04 230.35,277.31 231.56,277.56 232.76,277.8 233.96,278.01 235.16,278.22 236.36,278.41 237.56,278.59 238.77,278.75 239.97,278.9 241.17,279.05 242.37,279.18 243.57,279.3 244.77,279.42 245.98,279.53 247.18,279.63 248.38,279.72 249.58,279.81 250.78,279.89 251.98,279.97 253.19,280.04 254.39,280.1 255.59,280.16 256.79,280.22 257.99,280.27 259.19,280.32 260.4,280.37 261.6,280.41 262.8,280.45" fill="none" stroke="#555555" stroke-width="1.7" stroke-linecap="round" stroke-linejoin="round"/>
<polyline points="191.9,247.57 193.1,249.29 194.3,250.92 195.51,252.47 196.71,253.94 197.91,255.33 199.11,256.66 200.31,257.92 201.51,259.11 202.72,260.25 203.92,261.33 205.12,262.35 206.32,263.32 207.52,264.24 208.72,265.12 209.93,265.95 211.13,266.74 212.33,267.49 213.53,268.21 214.73,268.88 215.93,269.53 217.14,270.14 218.34,270.72 219.54,271.27 220.74,271.79 221.94,272.29 223.14,272.76 224.35,273.21 225.55,273.63 226.75,274.03 227.95,274.42 229.15,274.78 230.35,275.13 231.56,275.46 232.76,275.77 233.96,276.06 235.16,276.34 236.36,276.61 237.56,276.87 238.77,277.11 239.97,277.33 241.17,277.55 242.37,277.76 243.57,277.95 244.77,278.14 245.98,278.32 247.18,278.48 248.38,278.64 249.58,278.79 250.78,278.94 251.98,279.07 253.19,279.2 254.39,279.33 255.59,279.44 256.79,279.55 257.99,279.66 259.19,279.76 260.4,279.85 261.6,279.94 262.8,280.03" fill="none" stroke="#2366b2" stroke-width="1.7" stroke-linecap="round" stroke-linejoin="round"/>
<polyline points="191.9,280.13 193.1,281.59 194.3,282.96 195.51,284.24 196.71,285.45 197.91,286.58 199.11,287.64 200.31,288.63 201.51,289.57 202.72,290.44 203.92,291.26 205.12,292.03 206.32,292.76 207.52,293.44 208.72,294.07 209.93,294.67 211.13,295.23 212.33,295.75 213.53,296.24 214.73,296.71 215.93,297.14 217.14,297.54 218.34,297.93 219.54,298.28 220.74,298.62 221.94,298.93 223.14,299.23 224.35,299.5 225.55,299.76 226.75,300.01 227.95,300.24 229.15,300.45 230.35,300.65 231.56,300.84 232.76,301.02 233.96,301.18 235.16,301.34 236.36,301.48 237.56,301.62 238.77,301.75 239.97,301.87 241.17,301.98 242.37,302.09 243.57,302.19 244.77,302.28 245.98,302.37 247.18,302.45 248.38,302.53 249.58,302.6 250.78,302.67 251.98,302.73 253.19,302.79 254.39,302.85 255.59,302.9 256.79,302.95 257.99,302.99 259.19,303.04 260.4,303.08 261.6,303.12 262.8,303.15" fill="none" stroke="#b71c35" stroke-width="1.7" stroke-linecap="round" stroke-linejoin="round"/>
<line x1="190.5" y1="228.56" x2="190.5" y2="258.16" stroke="#555555" stroke-width="1.15" />
<line x1="188.5" y1="228.56" x2="192.5" y2="228.56" stroke="#555555" stroke-width="1.15" />
<line x1="188.5" y1="258.16" x2="192.5" y2="258.16" stroke="#555555" stroke-width="1.15" />
<circle cx="190.5" cy="243.07" r="2.2" fill="#555555" stroke="none" stroke-width="0" />
<line x1="204.68" y1="247.58" x2="204.68" y2="273.45" stroke="#555555" stroke-width="1.15" />
<line x1="202.68" y1="247.58" x2="206.68" y2="247.58" stroke="#555555" stroke-width="1.15" />
<line x1="202.68" y1="273.45" x2="206.68" y2="273.45" stroke="#555555" stroke-width="1.15" />
<circle cx="204.68" cy="260.9" r="2.2" fill="#555555" stroke="none" stroke-width="0" />
<line x1="218.86" y1="276.58" x2="218.86" y2="291.87" stroke="#555555" stroke-width="1.15" />
<line x1="216.86" y1="276.58" x2="220.86" y2="276.58" stroke="#555555" stroke-width="1.15" />
<line x1="216.86" y1="291.87" x2="220.86" y2="291.87" stroke="#555555" stroke-width="1.15" />
<circle cx="218.86" cy="284.23" r="2.2" fill="#555555" stroke="none" stroke-width="0" />
<line x1="233.04" y1="259.14" x2="233.04" y2="285.99" stroke="#555555" stroke-width="1.15" />
<line x1="231.04" y1="259.14" x2="235.04" y2="259.14" stroke="#555555" stroke-width="1.15" />
<line x1="231.04" y1="285.99" x2="235.04" y2="285.99" stroke="#555555" stroke-width="1.15" />
<circle cx="233.04" cy="272.66" r="2.2" fill="#555555" stroke="none" stroke-width="0" />
<line x1="247.22" y1="259.92" x2="247.22" y2="283.84" stroke="#555555" stroke-width="1.15" />
<line x1="245.22" y1="259.92" x2="249.22" y2="259.92" stroke="#555555" stroke-width="1.15" />
<line x1="245.22" y1="283.84" x2="249.22" y2="283.84" stroke="#555555" stroke-width="1.15" />
<circle cx="247.22" cy="271.88" r="2.2" fill="#555555" stroke="none" stroke-width="0" />
<line x1="261.4" y1="274.23" x2="261.4" y2="299.32" stroke="#555555" stroke-width="1.15" />
<line x1="259.4" y1="274.23" x2="263.4" y2="274.23" stroke="#555555" stroke-width="1.15" />
<line x1="259.4" y1="299.32" x2="263.4" y2="299.32" stroke="#555555" stroke-width="1.15" />
<circle cx="261.4" cy="286.58" r="2.2" fill="#555555" stroke="none" stroke-width="0" />
<line x1="193.4" y1="233.86" x2="193.4" y2="264.63" stroke="#2366b2" stroke-width="1.15" />
<line x1="191.4" y1="233.86" x2="195.4" y2="233.86" stroke="#2366b2" stroke-width="1.15" />
<line x1="191.4" y1="264.63" x2="195.4" y2="264.63" stroke="#2366b2" stroke-width="1.15" />
<circle cx="193.4" cy="248.75" r="2.2" fill="#2366b2" stroke="none" stroke-width="0" />
<line x1="207.58" y1="247.97" x2="207.58" y2="273.06" stroke="#2366b2" stroke-width="1.15" />
<line x1="205.58" y1="247.97" x2="209.58" y2="247.97" stroke="#2366b2" stroke-width="1.15" />
<line x1="205.58" y1="273.06" x2="209.58" y2="273.06" stroke="#2366b2" stroke-width="1.15" />
<circle cx="207.58" cy="260.51" r="2.2" fill="#2366b2" stroke="none" stroke-width="0" />
<line x1="221.76" y1="263.45" x2="221.76" y2="283.84" stroke="#2366b2" stroke-width="1.15" />
<line x1="219.76" y1="263.45" x2="223.76" y2="263.45" stroke="#2366b2" stroke-width="1.15" />
<line x1="219.76" y1="283.84" x2="223.76" y2="283.84" stroke="#2366b2" stroke-width="1.15" />
<circle cx="221.76" cy="273.45" r="2.2" fill="#2366b2" stroke="none" stroke-width="0" />
<line x1="235.94" y1="270.12" x2="235.94" y2="290.11" stroke="#2366b2" stroke-width="1.15" />
<line x1="233.94" y1="270.12" x2="237.94" y2="270.12" stroke="#2366b2" stroke-width="1.15" />
<line x1="233.94" y1="290.11" x2="237.94" y2="290.11" stroke="#2366b2" stroke-width="1.15" />
<circle cx="235.94" cy="279.72" r="2.2" fill="#2366b2" stroke="none" stroke-width="0" />
<line x1="250.12" y1="255.42" x2="250.12" y2="283.05" stroke="#2366b2" stroke-width="1.15" />
<line x1="248.12" y1="255.42" x2="252.12" y2="255.42" stroke="#2366b2" stroke-width="1.15" />
<line x1="248.12" y1="283.05" x2="252.12" y2="283.05" stroke="#2366b2" stroke-width="1.15" />
<circle cx="250.12" cy="269.33" r="2.2" fill="#2366b2" stroke="none" stroke-width="0" />
<line x1="264.3" y1="273.45" x2="264.3" y2="293.44" stroke="#2366b2" stroke-width="1.15" />
<line x1="262.3" y1="273.45" x2="266.3" y2="273.45" stroke="#2366b2" stroke-width="1.15" />
<line x1="262.3" y1="293.44" x2="266.3" y2="293.44" stroke="#2366b2" stroke-width="1.15" />
<circle cx="264.3" cy="283.84" r="2.2" fill="#2366b2" stroke="none" stroke-width="0" />
<line x1="191.9" y1="268.35" x2="191.9" y2="289.72" stroke="#b71c35" stroke-width="1.15" />
<line x1="189.9" y1="268.35" x2="193.9" y2="268.35" stroke="#b71c35" stroke-width="1.15" />
<line x1="189.9" y1="289.72" x2="193.9" y2="289.72" stroke="#b71c35" stroke-width="1.15" />
<circle cx="191.9" cy="279.33" r="2.2" fill="#b71c35" stroke="none" stroke-width="0" />
<line x1="206.08" y1="278.54" x2="206.08" y2="295.2" stroke="#b71c35" stroke-width="1.15" />
<line x1="204.08" y1="278.54" x2="208.08" y2="278.54" stroke="#b71c35" stroke-width="1.15" />
<line x1="204.08" y1="295.2" x2="208.08" y2="295.2" stroke="#b71c35" stroke-width="1.15" />
<circle cx="206.08" cy="286.78" r="2.2" fill="#b71c35" stroke="none" stroke-width="0" />
<line x1="220.26" y1="292.66" x2="220.26" y2="304.81" stroke="#b71c35" stroke-width="1.15" />
<line x1="218.26" y1="292.66" x2="222.26" y2="292.66" stroke="#b71c35" stroke-width="1.15" />
<line x1="218.26" y1="304.81" x2="222.26" y2="304.81" stroke="#b71c35" stroke-width="1.15" />
<circle cx="220.26" cy="298.93" r="2.2" fill="#b71c35" stroke="none" stroke-width="0" />
<line x1="234.44" y1="308.53" x2="234.44" y2="321.47" stroke="#b71c35" stroke-width="1.15" />
<line x1="232.44" y1="308.53" x2="236.44" y2="308.53" stroke="#b71c35" stroke-width="1.15" />
<line x1="232.44" y1="321.47" x2="236.44" y2="321.47" stroke="#b71c35" stroke-width="1.15" />
<circle cx="234.44" cy="314.61" r="2.2" fill="#b71c35" stroke="none" stroke-width="0" />
<line x1="248.62" y1="287.95" x2="248.62" y2="301.87" stroke="#b71c35" stroke-width="1.15" />
<line x1="246.62" y1="287.95" x2="250.62" y2="287.95" stroke="#b71c35" stroke-width="1.15" />
<line x1="246.62" y1="301.87" x2="250.62" y2="301.87" stroke="#b71c35" stroke-width="1.15" />
<circle cx="248.62" cy="294.81" r="2.2" fill="#b71c35" stroke="none" stroke-width="0" />
<line x1="262.8" y1="293.24" x2="262.8" y2="307.75" stroke="#b71c35" stroke-width="1.15" />
<line x1="260.8" y1="293.24" x2="264.8" y2="293.24" stroke="#b71c35" stroke-width="1.15" />
<line x1="260.8" y1="307.75" x2="264.8" y2="307.75" stroke="#b71c35" stroke-width="1.15" />
<circle cx="262.8" cy="300.5" r="2.2" fill="#b71c35" stroke="none" stroke-width="0" />
<text x="0" y="0" font-size="12" text-anchor="start" fill="#000" stroke="#000" stroke-width="0.45" font-weight="bold" transform="translate(285.3,179.3)">d</text>
<line x1="315.5" y1="181.6" x2="315.5" y2="334.4" stroke="#a0a0a0" stroke-width="1" />
<line x1="315.5" y1="181.6" x2="317.7" y2="181.6" stroke="#a0a0a0" stroke-width="0.8" />
<text x="0" y="0" font-size="8.1" text-anchor="end" fill="#222222" stroke="#222222" stroke-width="0.12" transform="translate(312.8,184.52) scale(0.93,1)">3</text>
<line x1="315.5" y1="203.4" x2="317.7" y2="203.4" stroke="#a0a0a0" stroke-width="0.8" />
<text x="0" y="0" font-size="8.1" text-anchor="end" fill="#222222" stroke="#222222" stroke-width="0.12" transform="translate(312.8,206.32) scale(0.93,1)">2.5</text>
<line x1="315.5" y1="225.2" x2="317.7" y2="225.2" stroke="#a0a0a0" stroke-width="0.8" />
<text x="0" y="0" font-size="8.1" text-anchor="end" fill="#222222" stroke="#222222" stroke-width="0.12" transform="translate(312.8,228.12) scale(0.93,1)">2</text>
<line x1="315.5" y1="247" x2="317.7" y2="247" stroke="#a0a0a0" stroke-width="0.8" />
<text x="0" y="0" font-size="8.1" text-anchor="end" fill="#222222" stroke="#222222" stroke-width="0.12" transform="translate(312.8,249.92) scale(0.93,1)">1.5</text>
<line x1="315.5" y1="268.8" x2="317.7" y2="268.8" stroke="#a0a0a0" stroke-width="0.8" />
<text x="0" y="0" font-size="8.1" text-anchor="end" fill="#222222" stroke="#222222" stroke-width="0.12" transform="translate(312.8,271.72) scale(0.93,1)">1</text>
<line x1="315.5" y1="290.6" x2="317.7" y2="290.6" stroke="#a0a0a0" stroke-width="0.8" />
<text x="0" y="0" font-size="8.1" text-anchor="end" fill="#222222" stroke="#222222" stroke-width="0.12" transform="translate(312.8,293.52) scale(0.93,1)">0.5</text>
<line x1="315.5" y1="312.4" x2="317.7" y2="312.4" stroke="#a0a0a0" stroke-width="0.8" />
<text x="0" y="0" font-size="8.1" text-anchor="end" fill="#222222" stroke="#222222" stroke-width="0.12" transform="translate(312.8,315.32) scale(0.93,1)">0</text>
<line x1="315.5" y1="334.2" x2="317.7" y2="334.2" stroke="#a0a0a0" stroke-width="0.8" />
<text x="0" y="0" font-size="8.1" text-anchor="end" fill="#222222" stroke="#222222" stroke-width="0.12" transform="translate(312.8,337.12) scale(0.93,1)">-0.5</text>
<line x1="315.5" y1="312.5" x2="437" y2="312.5" stroke="#a0a0a0" stroke-width="1" />
<text x="0" y="0" font-size="8.86" text-anchor="middle" fill="#1d5577" stroke="#1d5577" stroke-width="0.12" font-weight="bold" transform="translate(333.6,185.79) scale(0.93,1)">Exp. 1</text>
<text x="0" y="0" font-size="8.96" text-anchor="middle" fill="#222" stroke="#222" stroke-width="0.12" transform="translate(294.2,257) rotate(-90) translate(0,3.23) scale(0.93,1)">Fitted learning rate</text>
<line x1="346.4" y1="277.08" x2="346.4" y2="284.28" stroke="#a2a2a2" stroke-width="1.0" />
<line x1="344.2" y1="277.08" x2="348.6" y2="277.08" stroke="#a2a2a2" stroke-width="1.0" />
<rect x="336.4" y="284.78" width="19.9" height="27.12" fill="#b4b4b4" stroke="#a2a2a2" stroke-width="1.0" />
<text x="0" y="0" font-size="7.99" text-anchor="middle" fill="#222222" stroke="#222222" stroke-width="0.12" transform="translate(346.4,321.78) scale(0.93,1)">0-Hz</text>
<line x1="377.5" y1="284.93" x2="377.5" y2="291.04" stroke="#e58d9c" stroke-width="1.0" />
<line x1="375.3" y1="284.93" x2="379.7" y2="284.93" stroke="#e58d9c" stroke-width="1.0" />
<rect x="367.5" y="291.54" width="19.9" height="20.36" fill="#eca8b3" stroke="#e58d9c" stroke-width="1.0" />
<text x="0" y="0" font-size="7.99" text-anchor="middle" fill="#222222" stroke="#222222" stroke-width="0.12" transform="translate(377.5,321.78) scale(0.93,1)">10-Hz</text>
<line x1="408" y1="284.93" x2="408" y2="293.22" stroke="#8cb6e3" stroke-width="1.0" />
<line x1="405.8" y1="284.93" x2="410.2" y2="284.93" stroke="#8cb6e3" stroke-width="1.0" />
<rect x="397.9" y="293.72" width="20.1" height="18.18" fill="#aac9ea" stroke="#8cb6e3" stroke-width="1.0" />
<text x="0" y="0" font-size="7.99" text-anchor="middle" fill="#222222" stroke="#222222" stroke-width="0.12" transform="translate(408,321.78) scale(0.93,1)">1-Hz</text>
<text x="0" y="0" font-size="8.96" text-anchor="middle" fill="#222" stroke="#222" stroke-width="0.12" transform="translate(375,339.23) scale(0.93,1)">Group</text>
<circle cx="346.86" cy="300.03" r="1.6" fill="none" stroke="white" stroke-width="0.6" opacity="0.75"/>
<circle cx="344.52" cy="302.87" r="1.6" fill="none" stroke="white" stroke-width="0.6" opacity="0.75"/>
<circle cx="349.94" cy="297.32" r="1.6" fill="none" stroke="white" stroke-width="0.6" opacity="0.75"/>
<circle cx="343.03" cy="307.24" r="1.6" fill="none" stroke="white" stroke-width="0.6" opacity="0.75"/>
<circle cx="342.36" cy="303.88" r="1.6" fill="none" stroke="white" stroke-width="0.6" opacity="0.75"/>
<circle cx="342.17" cy="303.65" r="1.6" fill="none" stroke="white" stroke-width="0.6" opacity="0.75"/>
<circle cx="347.74" cy="306.21" r="1.6" fill="none" stroke="white" stroke-width="0.6" opacity="0.75"/>
<circle cx="347.99" cy="301.72" r="1.6" fill="none" stroke="white" stroke-width="0.6" opacity="0.75"/>
<circle cx="342.12" cy="302.18" r="1.6" fill="none" stroke="white" stroke-width="0.6" opacity="0.75"/>
<circle cx="344.96" cy="289.79" r="1.6" fill="none" stroke="white" stroke-width="0.6" opacity="0.6"/>
<circle cx="345.1" cy="287.79" r="1.6" fill="none" stroke="white" stroke-width="0.6" opacity="0.6"/>
<circle cx="376.96" cy="307.96" r="1.6" fill="none" stroke="white" stroke-width="0.6" opacity="0.75"/>
<circle cx="377.9" cy="298.99" r="1.6" fill="none" stroke="white" stroke-width="0.6" opacity="0.75"/>
<circle cx="375.76" cy="307.03" r="1.6" fill="none" stroke="white" stroke-width="0.6" opacity="0.75"/>
<circle cx="376.49" cy="296.75" r="1.6" fill="none" stroke="white" stroke-width="0.6" opacity="0.75"/>
<circle cx="381.78" cy="300.55" r="1.6" fill="none" stroke="white" stroke-width="0.6" opacity="0.75"/>
<circle cx="381.13" cy="298.05" r="1.6" fill="none" stroke="white" stroke-width="0.6" opacity="0.75"/>
<circle cx="376.4" cy="308.89" r="1.6" fill="none" stroke="white" stroke-width="0.6" opacity="0.75"/>
<circle cx="378.88" cy="302.19" r="1.6" fill="none" stroke="white" stroke-width="0.6" opacity="0.75"/>
<circle cx="376.25" cy="306.98" r="1.6" fill="none" stroke="white" stroke-width="0.6" opacity="0.75"/>
<circle cx="376.94" cy="292.58" r="1.6" fill="none" stroke="white" stroke-width="0.6" opacity="0.6"/>
<circle cx="376.12" cy="292.65" r="1.6" fill="none" stroke="white" stroke-width="0.6" opacity="0.6"/>
<circle cx="407.62" cy="297.84" r="1.6" fill="none" stroke="white" stroke-width="0.6" opacity="0.75"/>
<circle cx="408.78" cy="306.14" r="1.6" fill="none" stroke="white" stroke-width="0.6" opacity="0.75"/>
<circle cx="406" cy="303.68" r="1.6" fill="none" stroke="white" stroke-width="0.6" opacity="0.75"/>
<circle cx="405.35" cy="307.32" r="1.6" fill="none" stroke="white" stroke-width="0.6" opacity="0.75"/>
<circle cx="408.13" cy="308.96" r="1.6" fill="none" stroke="white" stroke-width="0.6" opacity="0.75"/>
<circle cx="407.85" cy="305.01" r="1.6" fill="none" stroke="white" stroke-width="0.6" opacity="0.75"/>
<circle cx="409.87" cy="299.48" r="1.6" fill="none" stroke="white" stroke-width="0.6" opacity="0.75"/>
<circle cx="409.72" cy="300.3" r="1.6" fill="none" stroke="white" stroke-width="0.6" opacity="0.75"/>
<circle cx="406.86" cy="300.61" r="1.6" fill="none" stroke="white" stroke-width="0.6" opacity="0.75"/>
<circle cx="407.04" cy="293.78" r="1.6" fill="none" stroke="white" stroke-width="0.6" opacity="0.6"/>
<circle cx="406.95" cy="293.56" r="1.6" fill="none" stroke="white" stroke-width="0.6" opacity="0.6"/>
<circle cx="344" cy="272.9" r="1.75" fill="#9a9a9a" stroke="none" stroke-width="0" />
<circle cx="349.1" cy="210.2" r="1.75" fill="#9a9a9a" stroke="none" stroke-width="0" />
<circle cx="347.4" cy="231.9" r="1.75" fill="#9a9a9a" stroke="none" stroke-width="0" />
<circle cx="349.1" cy="236.1" r="1.75" fill="#9a9a9a" stroke="none" stroke-width="0" />
<circle cx="344.9" cy="240.3" r="1.75" fill="#9a9a9a" stroke="none" stroke-width="0" />
<circle cx="345.7" cy="245.3" r="1.75" fill="#9a9a9a" stroke="none" stroke-width="0" />
<circle cx="349.1" cy="246.4" r="1.75" fill="#9a9a9a" stroke="none" stroke-width="0" />
<circle cx="378.6" cy="204.7" r="1.75" fill="#e8909e" stroke="none" stroke-width="0" />
<circle cx="378.4" cy="211" r="1.75" fill="#e8909e" stroke="none" stroke-width="0" />
<circle cx="378.5" cy="255.5" r="1.75" fill="#e8909e" stroke="none" stroke-width="0" />
<circle cx="379" cy="263.4" r="1.75" fill="#e8909e" stroke="none" stroke-width="0" />
<circle cx="378.9" cy="271.4" r="1.75" fill="#e8909e" stroke="none" stroke-width="0" />
<circle cx="378.6" cy="285.1" r="1.75" fill="#e8909e" stroke="none" stroke-width="0" />
<circle cx="409.1" cy="206.8" r="1.75" fill="#8ab6e6" stroke="none" stroke-width="0" />
<text x="0" y="0" font-size="7.56" text-anchor="middle" fill="#111" stroke="#111" stroke-width="0.12" font-weight="bold" transform="translate(349.2,199.32) scale(0.93,1)">***</text>
<text x="0" y="0" font-size="7.56" text-anchor="middle" fill="#111" stroke="#111" stroke-width="0.12" font-weight="bold" transform="translate(377.6,199.32) scale(0.93,1)">**</text>
<text x="0" y="0" font-size="7.56" text-anchor="middle" fill="#111" stroke="#111" stroke-width="0.12" font-weight="bold" transform="translate(408.2,199.32) scale(0.93,1)">*</text>
<text x="0" y="0" font-size="12.5" text-anchor="start" fill="#000" stroke="#000" stroke-width="0.45" font-weight="bold" transform="translate(433.8,178.9)">e</text>
<line x1="469.5" y1="181.7" x2="469.5" y2="339.5" stroke="#a0a0a0" stroke-width="1" />
<line x1="469" y1="339.5" x2="663.8" y2="339.5" stroke="#a0a0a0" stroke-width="1" />
<line x1="469.5" y1="181.76" x2="471.7" y2="181.76" stroke="#a0a0a0" stroke-width="0.8" />
<text x="0" y="0" font-size="8.1" text-anchor="end" fill="#222222" stroke="#222222" stroke-width="0.12" transform="translate(466.2,184.68) scale(0.93,1)">12</text>
<line x1="469.5" y1="208" x2="471.7" y2="208" stroke="#a0a0a0" stroke-width="0.8" />
<text x="0" y="0" font-size="8.1" text-anchor="end" fill="#222222" stroke="#222222" stroke-width="0.12" transform="translate(466.2,210.92) scale(0.93,1)">10</text>
<line x1="469.5" y1="234.24" x2="471.7" y2="234.24" stroke="#a0a0a0" stroke-width="0.8" />
<text x="0" y="0" font-size="8.1" text-anchor="end" fill="#222222" stroke="#222222" stroke-width="0.12" transform="translate(466.2,237.16) scale(0.93,1)">8</text>
<line x1="469.5" y1="260.48" x2="471.7" y2="260.48" stroke="#a0a0a0" stroke-width="0.8" />
<text x="0" y="0" font-size="8.1" text-anchor="end" fill="#222222" stroke="#222222" stroke-width="0.12" transform="translate(466.2,263.4) scale(0.93,1)">6</text>
<line x1="469.5" y1="286.72" x2="471.7" y2="286.72" stroke="#a0a0a0" stroke-width="0.8" />
<text x="0" y="0" font-size="8.1" text-anchor="end" fill="#222222" stroke="#222222" stroke-width="0.12" transform="translate(466.2,289.64) scale(0.93,1)">4</text>
<line x1="469.5" y1="312.96" x2="471.7" y2="312.96" stroke="#a0a0a0" stroke-width="0.8" />
<text x="0" y="0" font-size="8.1" text-anchor="end" fill="#222222" stroke="#222222" stroke-width="0.12" transform="translate(466.2,315.88) scale(0.93,1)">2</text>
<line x1="469.5" y1="339.2" x2="471.7" y2="339.2" stroke="#a0a0a0" stroke-width="0.8" />
<text x="0" y="0" font-size="8.1" text-anchor="end" fill="#222222" stroke="#222222" stroke-width="0.12" transform="translate(466.2,342.12) scale(0.93,1)">0</text>
<text x="0" y="0" font-size="8.86" text-anchor="middle" fill="#1d5577" stroke="#1d5577" stroke-width="0.12" font-weight="bold" transform="translate(498.9,184.39) scale(0.93,1)">Exp. 1</text>
<text x="0" y="0" font-size="8.96" text-anchor="middle" fill="#222" stroke="#222" stroke-width="0.12" transform="translate(453.3,256.2) rotate(-90) translate(0,3.23) scale(0.93,1)">Threshold (°)</text>
<polygon points="494.7,318.21 494.7,318.21 494.18,316.85 493.66,315.5 493.15,314.14 492.64,312.79 492.14,311.43 491.64,310.08 491.15,308.72 490.65,307.37 490.14,306.01 489.64,304.66 489.14,303.3 488.64,301.95 488.17,300.59 487.71,299.24 487.28,297.88 486.87,296.53 486.49,295.17 486.09,293.81 485.67,292.46 485.26,291.1 484.88,289.75 484.54,288.39 484.27,287.04 484.08,285.68 484,284.33 484.04,282.97 484.18,281.62 484.4,280.26 484.69,278.91 485.01,277.55 485.36,276.2 485.7,274.84 486.03,273.49 486.36,272.13 486.72,270.78 487.12,269.42 487.53,268.07 487.95,266.71 488.38,265.36 488.81,264 489.23,262.65 489.63,261.29 490,259.94 490.35,258.58 490.72,257.22 491.07,255.87 491.33,254.51 491.47,253.16 491.58,251.8 491.69,250.45 491.77,249.09 491.85,247.74 491.92,246.38 491.98,245.03 492.02,243.67 492.06,242.32 492.1,240.96 492.12,239.61 492.14,238.25 492.16,236.9 492.17,235.54 492.18,234.19 492.19,232.83 492.2,231.48 492.22,230.12 492.23,228.77 492.25,227.41 492.28,226.06 492.31,224.7 492.39,223.35 492.52,221.99 492.68,220.64 492.87,219.28 493.08,217.92 493.31,216.57 493.58,215.21 493.92,213.86 494.29,212.5 494.7,211.15 494.7,211.15" fill="#bebebe" stroke="none" stroke-width="0" />
<polygon points="519.6,320.44 519.6,320.44 520.17,318.79 520.73,317.14 521.28,315.5 521.81,313.85 522.33,312.2 522.83,310.55 523.33,308.91 523.83,307.26 524.33,305.61 524.8,303.96 525.24,302.32 525.65,300.67 526.01,299.02 526.35,297.37 526.71,295.73 527.06,294.08 527.39,292.43 527.7,290.78 527.95,289.14 528.15,287.49 528.27,285.84 528.3,284.19 528.26,282.55 528.17,280.9 528.02,279.25 527.83,277.6 527.6,275.96 527.33,274.31 527.03,272.66 526.69,271.01 526.33,269.37 525.89,267.72 525.08,266.07 524.54,264.42 524.18,262.78 523.88,261.13 523.61,259.48 523.37,257.83 523.16,256.19 522.98,254.54 522.8,252.89 522.63,251.24 522.46,249.6 522.31,247.95 522.16,246.3 522.02,244.65 521.9,243.01 521.79,241.36 521.68,239.71 521.59,238.06 521.51,236.42 521.43,234.77 521.35,233.12 521.29,231.47 521.24,229.83 521.21,228.18 521.19,226.53 521.18,224.88 521.17,223.24 521.16,221.59 521.16,219.94 521.15,218.3 521.15,216.65 521.14,215 521.14,213.35 521.13,211.71 521.12,210.06 521.1,208.41 521.08,206.76 521.05,205.12 521,203.47 520.93,201.82 520.85,200.17 520.76,198.53 520.65,196.88 520.51,195.23 520.26,193.58 519.95,191.94 519.6,190.29 519.6,190.29" fill="#7a7a7a" stroke="none" stroke-width="0" />
<line x1="494.7" y1="215.48" x2="519.6" y2="202.1" stroke="#c4c4c4" stroke-width="0.45" opacity="0.9"/>
<line x1="494.7" y1="227.02" x2="519.6" y2="257.86" stroke="#c4c4c4" stroke-width="0.45" opacity="0.9"/>
<line x1="494.7" y1="230.3" x2="519.6" y2="213.9" stroke="#c4c4c4" stroke-width="0.45" opacity="0.9"/>
<line x1="494.7" y1="232.93" x2="519.6" y2="267.04" stroke="#c4c4c4" stroke-width="0.45" opacity="0.9"/>
<line x1="494.7" y1="254.31" x2="519.6" y2="251.3" stroke="#c4c4c4" stroke-width="0.45" opacity="0.9"/>
<line x1="494.7" y1="263.5" x2="519.6" y2="272.94" stroke="#c4c4c4" stroke-width="0.45" opacity="0.9"/>
<line x1="494.7" y1="267.7" x2="519.6" y2="246.7" stroke="#c4c4c4" stroke-width="0.45" opacity="0.9"/>
<line x1="494.7" y1="269.66" x2="519.6" y2="261.14" stroke="#c4c4c4" stroke-width="0.45" opacity="0.9"/>
<line x1="494.7" y1="272.29" x2="519.6" y2="278.85" stroke="#c4c4c4" stroke-width="0.45" opacity="0.9"/>
<line x1="494.7" y1="274.91" x2="519.6" y2="282.78" stroke="#c4c4c4" stroke-width="0.45" opacity="0.9"/>
<line x1="494.7" y1="275.31" x2="519.6" y2="198.82" stroke="#c4c4c4" stroke-width="0.45" opacity="0.9"/>
<line x1="494.7" y1="277.54" x2="519.6" y2="275.57" stroke="#c4c4c4" stroke-width="0.45" opacity="0.9"/>
<line x1="494.7" y1="279.5" x2="519.6" y2="285.93" stroke="#c4c4c4" stroke-width="0.45" opacity="0.9"/>
<line x1="494.7" y1="280.82" x2="519.6" y2="270.19" stroke="#c4c4c4" stroke-width="0.45" opacity="0.9"/>
<line x1="494.7" y1="282.13" x2="519.6" y2="296.69" stroke="#c4c4c4" stroke-width="0.45" opacity="0.9"/>
<line x1="494.7" y1="284.1" x2="519.6" y2="280.82" stroke="#c4c4c4" stroke-width="0.45" opacity="0.9"/>
<line x1="494.7" y1="286.2" x2="519.6" y2="291.97" stroke="#c4c4c4" stroke-width="0.45" opacity="0.9"/>
<line x1="494.7" y1="289.34" x2="519.6" y2="305.09" stroke="#c4c4c4" stroke-width="0.45" opacity="0.9"/>
<line x1="494.7" y1="291.57" x2="519.6" y2="288.03" stroke="#c4c4c4" stroke-width="0.45" opacity="0.9"/>
<line x1="494.7" y1="296.95" x2="519.6" y2="294.2" stroke="#c4c4c4" stroke-width="0.45" opacity="0.9"/>
<line x1="494.7" y1="299.18" x2="519.6" y2="290.26" stroke="#c4c4c4" stroke-width="0.45" opacity="0.9"/>
<line x1="494.7" y1="307.58" x2="519.6" y2="302.6" stroke="#c4c4c4" stroke-width="0.45" opacity="0.9"/>
<circle cx="494.7" cy="215.48" r="1.25" fill="#bebebe" stroke="#a0a0a0" stroke-width="0.55" />
<circle cx="494.7" cy="227.02" r="1.25" fill="#bebebe" stroke="#a0a0a0" stroke-width="0.55" />
<circle cx="494.7" cy="230.3" r="1.25" fill="#bebebe" stroke="#a0a0a0" stroke-width="0.55" />
<circle cx="494.7" cy="232.93" r="1.25" fill="#bebebe" stroke="#a0a0a0" stroke-width="0.55" />
<circle cx="494.7" cy="254.31" r="1.25" fill="#bebebe" stroke="#a0a0a0" stroke-width="0.55" />
<circle cx="494.7" cy="263.5" r="1.25" fill="#bebebe" stroke="#a0a0a0" stroke-width="0.55" />
<circle cx="494.7" cy="267.7" r="1.25" fill="#bebebe" stroke="#a0a0a0" stroke-width="0.55" />
<circle cx="494.7" cy="269.66" r="1.25" fill="#bebebe" stroke="#a0a0a0" stroke-width="0.55" />
<circle cx="494.7" cy="275.31" r="1.25" fill="#bebebe" stroke="#a0a0a0" stroke-width="0.55" />
<circle cx="494.7" cy="277.54" r="1.25" fill="#bebebe" stroke="#a0a0a0" stroke-width="0.55" />
<circle cx="494.7" cy="279.5" r="1.25" fill="#bebebe" stroke="#a0a0a0" stroke-width="0.55" />
<circle cx="494.7" cy="280.82" r="1.25" fill="#bebebe" stroke="#a0a0a0" stroke-width="0.55" />
<circle cx="494.7" cy="282.13" r="1.25" fill="#bebebe" stroke="#a0a0a0" stroke-width="0.55" />
<circle cx="494.7" cy="284.1" r="1.25" fill="#bebebe" stroke="#a0a0a0" stroke-width="0.55" />
<circle cx="494.7" cy="286.2" r="1.25" fill="#bebebe" stroke="#a0a0a0" stroke-width="0.55" />
<circle cx="494.7" cy="289.34" r="1.25" fill="#bebebe" stroke="#a0a0a0" stroke-width="0.55" />
<circle cx="494.7" cy="291.57" r="1.25" fill="#bebebe" stroke="#a0a0a0" stroke-width="0.55" />
<circle cx="494.7" cy="296.95" r="1.25" fill="#bebebe" stroke="#a0a0a0" stroke-width="0.55" />
<circle cx="494.7" cy="299.18" r="1.25" fill="#bebebe" stroke="#a0a0a0" stroke-width="0.55" />
<circle cx="494.7" cy="307.58" r="1.25" fill="#bebebe" stroke="#a0a0a0" stroke-width="0.55" />
<circle cx="494.7" cy="274.91" r="1.25" fill="#bebebe" stroke="#a0a0a0" stroke-width="0.55" />
<circle cx="494.7" cy="272.29" r="1.25" fill="#bebebe" stroke="#a0a0a0" stroke-width="0.55" />
<circle cx="519.6" cy="198.82" r="1.55" fill="#4a4a4a" stroke="#ffffff" stroke-width="0.45" />
<circle cx="519.6" cy="202.1" r="1.55" fill="#4a4a4a" stroke="#ffffff" stroke-width="0.45" />
<circle cx="519.6" cy="213.9" r="1.55" fill="#4a4a4a" stroke="#ffffff" stroke-width="0.45" />
<circle cx="519.6" cy="246.7" r="1.55" fill="#4a4a4a" stroke="#ffffff" stroke-width="0.45" />
<circle cx="519.6" cy="251.3" r="1.55" fill="#4a4a4a" stroke="#ffffff" stroke-width="0.45" />
<circle cx="519.6" cy="261.14" r="1.55" fill="#4a4a4a" stroke="#ffffff" stroke-width="0.45" />
<circle cx="519.6" cy="270.19" r="1.55" fill="#4a4a4a" stroke="#ffffff" stroke-width="0.45" />
<circle cx="519.6" cy="272.94" r="1.55" fill="#4a4a4a" stroke="#ffffff" stroke-width="0.45" />
<circle cx="519.6" cy="275.57" r="1.55" fill="#4a4a4a" stroke="#ffffff" stroke-width="0.45" />
<circle cx="519.6" cy="278.85" r="1.55" fill="#4a4a4a" stroke="#ffffff" stroke-width="0.45" />
<circle cx="519.6" cy="280.82" r="1.55" fill="#4a4a4a" stroke="#ffffff" stroke-width="0.45" />
<circle cx="519.6" cy="285.93" r="1.55" fill="#4a4a4a" stroke="#ffffff" stroke-width="0.45" />
<circle cx="519.6" cy="288.03" r="1.55" fill="#4a4a4a" stroke="#ffffff" stroke-width="0.45" />
<circle cx="519.6" cy="290.26" r="1.55" fill="#4a4a4a" stroke="#ffffff" stroke-width="0.45" />
<circle cx="519.6" cy="294.2" r="1.55" fill="#4a4a4a" stroke="#ffffff" stroke-width="0.45" />
<circle cx="519.6" cy="296.69" r="1.55" fill="#4a4a4a" stroke="#ffffff" stroke-width="0.45" />
<circle cx="519.6" cy="302.6" r="1.55" fill="#4a4a4a" stroke="#ffffff" stroke-width="0.45" />
<circle cx="519.6" cy="305.09" r="1.55" fill="#4a4a4a" stroke="#ffffff" stroke-width="0.45" />
<circle cx="519.6" cy="267.04" r="1.55" fill="#4a4a4a" stroke="#ffffff" stroke-width="0.45" />
<circle cx="519.6" cy="282.78" r="1.55" fill="#4a4a4a" stroke="#ffffff" stroke-width="0.45" />
<circle cx="519.6" cy="291.97" r="1.55" fill="#4a4a4a" stroke="#ffffff" stroke-width="0.45" />
<circle cx="519.6" cy="257.86" r="1.55" fill="#4a4a4a" stroke="#ffffff" stroke-width="0.45" />
<line x1="486" y1="273.6" x2="494.7" y2="273.6" stroke="#2b2b2b" stroke-width="1.7" />
<line x1="519.6" y1="270.32" x2="526.54" y2="270.32" stroke="#2b2b2b" stroke-width="1.7" />
<line x1="494.7" y1="339.2" x2="494.7" y2="337.6" stroke="#a0a0a0" stroke-width="0.8" />
<line x1="519.6" y1="339.2" x2="519.6" y2="337.6" stroke="#a0a0a0" stroke-width="0.8" />
<text x="0" y="0" font-size="8.1" text-anchor="middle" fill="#444" stroke="#444" stroke-width="0.12" transform="translate(494.7,351.12) scale(0.93,1)">pre</text>
<text x="0" y="0" font-size="8.1" text-anchor="middle" fill="#444" stroke="#444" stroke-width="0.12" transform="translate(519.6,351.12) scale(0.93,1)">post</text>
<text x="0" y="0" font-size="8.1" text-anchor="middle" fill="#111" stroke="#111" stroke-width="0.12" transform="translate(507.15,362.22) scale(0.93,1)">0 Hz</text>
<polygon points="554.5,316.9 554.5,316.9 554.18,315.88 553.85,314.87 553.52,313.86 553.19,312.84 552.85,311.83 552.5,310.82 552.15,309.8 551.79,308.79 551.42,307.78 551.04,306.77 550.64,305.75 550.22,304.74 549.78,303.73 549.34,302.71 548.89,301.7 548.45,300.69 548.01,299.67 547.59,298.66 547.19,297.65 546.82,296.63 546.48,295.62 546.18,294.61 545.9,293.6 545.62,292.58 545.34,291.57 545.06,290.56 544.78,289.54 544.52,288.53 544.27,287.52 544.05,286.5 543.85,285.49 543.68,284.48 543.55,283.46 543.45,282.45 543.41,281.44 543.41,280.43 543.46,279.41 543.55,278.4 543.69,277.39 543.86,276.37 544.07,275.36 544.3,274.35 544.55,273.33 544.82,272.32 545.09,271.31 545.38,270.3 545.66,269.28 545.94,268.27 546.22,267.26 546.55,266.24 546.92,265.23 547.33,264.22 547.77,263.2 548.23,262.19 548.7,261.18 549.17,260.16 549.63,259.15 550.07,258.14 550.48,257.13 550.86,256.11 551.19,255.1 551.46,254.09 551.7,253.07 551.92,252.06 552.12,251.05 552.29,250.03 552.45,249.02 552.58,248.01 552.69,246.99 552.78,245.98 552.86,244.97 552.94,243.96 553.03,242.94 553.14,241.93 553.28,240.92 553.49,239.9 553.78,238.89 554.13,237.88 554.5,236.86 554.5,236.86" fill="#efb0b9" stroke="none" stroke-width="0" />
<polygon points="579.5,320.83 579.5,320.83 580.17,319.69 580.84,318.54 581.52,317.39 582.21,316.25 582.9,315.1 583.6,313.96 584.31,312.81 585.02,311.66 585.73,310.52 586.45,309.37 587.17,308.23 587.93,307.08 588.8,305.93 589.73,304.79 590.59,303.64 591.3,302.5 591.75,301.35 591.98,300.21 592.18,299.06 592.35,297.91 592.48,296.77 592.56,295.62 592.6,294.48 592.57,293.33 592.47,292.18 592.3,291.04 592.08,289.89 591.81,288.75 591.51,287.6 591.18,286.45 590.83,285.31 590.47,284.16 590.11,283.02 589.77,281.87 589.44,280.72 589.09,279.58 588.72,278.43 588.32,277.29 587.91,276.14 587.48,275 587.05,273.85 586.61,272.7 586.17,271.56 585.75,270.41 585.33,269.27 584.94,268.12 584.56,266.97 584.19,265.83 583.82,264.68 583.46,263.54 583.11,262.39 582.77,261.24 582.45,260.1 582.14,258.95 581.84,257.81 581.54,256.66 581.29,255.51 581.11,254.37 580.98,253.22 580.88,252.08 580.78,250.93 580.71,249.78 580.65,248.64 580.6,247.49 580.58,246.35 580.55,245.2 580.54,244.06 580.53,242.91 580.52,241.76 580.51,240.62 580.5,239.47 580.49,238.33 580.47,237.18 580.45,236.03 580.42,234.89 580.36,233.74 580.15,232.6 579.84,231.45 579.5,230.3 579.5,230.3" fill="#c64d5f" stroke="none" stroke-width="0" />
<line x1="554.5" y1="205.38" x2="579.5" y2="280.16" stroke="#f0b8c1" stroke-width="0.45" opacity="0.9"/>
<line x1="554.5" y1="240.14" x2="579.5" y2="282.52" stroke="#f0b8c1" stroke-width="0.45" opacity="0.9"/>
<line x1="554.5" y1="255.49" x2="579.5" y2="285.41" stroke="#f0b8c1" stroke-width="0.45" opacity="0.9"/>
<line x1="554.5" y1="258.51" x2="579.5" y2="257.86" stroke="#f0b8c1" stroke-width="0.45" opacity="0.9"/>
<line x1="554.5" y1="268.35" x2="579.5" y2="251.3" stroke="#f0b8c1" stroke-width="0.45" opacity="0.9"/>
<line x1="554.5" y1="270.19" x2="579.5" y2="278.59" stroke="#f0b8c1" stroke-width="0.45" opacity="0.9"/>
<line x1="554.5" y1="273.6" x2="579.5" y2="228.99" stroke="#f0b8c1" stroke-width="0.45" opacity="0.9"/>
<line x1="554.5" y1="274.91" x2="579.5" y2="260.48" stroke="#f0b8c1" stroke-width="0.45" opacity="0.9"/>
<line x1="554.5" y1="277.54" x2="579.5" y2="290.52" stroke="#f0b8c1" stroke-width="0.45" opacity="0.9"/>
<line x1="554.5" y1="280.95" x2="579.5" y2="292.62" stroke="#f0b8c1" stroke-width="0.45" opacity="0.9"/>
<line x1="554.5" y1="282.78" x2="579.5" y2="297.87" stroke="#f0b8c1" stroke-width="0.45" opacity="0.9"/>
<line x1="554.5" y1="285.01" x2="579.5" y2="299.84" stroke="#f0b8c1" stroke-width="0.45" opacity="0.9"/>
<line x1="554.5" y1="287.38" x2="579.5" y2="295.9" stroke="#f0b8c1" stroke-width="0.45" opacity="0.9"/>
<line x1="554.5" y1="289.34" x2="579.5" y2="294.59" stroke="#f0b8c1" stroke-width="0.45" opacity="0.9"/>
<line x1="554.5" y1="291.44" x2="579.5" y2="308.11" stroke="#f0b8c1" stroke-width="0.45" opacity="0.9"/>
<line x1="554.5" y1="293.94" x2="579.5" y2="286.72" stroke="#f0b8c1" stroke-width="0.45" opacity="0.9"/>
<line x1="554.5" y1="296.82" x2="579.5" y2="305.09" stroke="#f0b8c1" stroke-width="0.45" opacity="0.9"/>
<line x1="554.5" y1="300.1" x2="579.5" y2="302.2" stroke="#f0b8c1" stroke-width="0.45" opacity="0.9"/>
<line x1="554.5" y1="302.46" x2="579.5" y2="288.03" stroke="#f0b8c1" stroke-width="0.45" opacity="0.9"/>
<line x1="554.5" y1="304.56" x2="579.5" y2="301.15" stroke="#f0b8c1" stroke-width="0.45" opacity="0.9"/>
<circle cx="554.5" cy="205.38" r="1.25" fill="#efb0b9" stroke="#e8909e" stroke-width="0.55" />
<circle cx="554.5" cy="240.14" r="1.25" fill="#efb0b9" stroke="#e8909e" stroke-width="0.55" />
<circle cx="554.5" cy="255.49" r="1.25" fill="#efb0b9" stroke="#e8909e" stroke-width="0.55" />
<circle cx="554.5" cy="258.51" r="1.25" fill="#efb0b9" stroke="#e8909e" stroke-width="0.55" />
<circle cx="554.5" cy="268.35" r="1.25" fill="#efb0b9" stroke="#e8909e" stroke-width="0.55" />
<circle cx="554.5" cy="270.19" r="1.25" fill="#efb0b9" stroke="#e8909e" stroke-width="0.55" />
<circle cx="554.5" cy="274.91" r="1.25" fill="#efb0b9" stroke="#e8909e" stroke-width="0.55" />
<circle cx="554.5" cy="277.54" r="1.25" fill="#efb0b9" stroke="#e8909e" stroke-width="0.55" />
<circle cx="554.5" cy="280.95" r="1.25" fill="#efb0b9" stroke="#e8909e" stroke-width="0.55" />
<circle cx="554.5" cy="282.78" r="1.25" fill="#efb0b9" stroke="#e8909e" stroke-width="0.55" />
<circle cx="554.5" cy="285.01" r="1.25" fill="#efb0b9" stroke="#e8909e" stroke-width="0.55" />
<circle cx="554.5" cy="287.38" r="1.25" fill="#efb0b9" stroke="#e8909e" stroke-width="0.55" />
<circle cx="554.5" cy="291.44" r="1.25" fill="#efb0b9" stroke="#e8909e" stroke-width="0.55" />
<circle cx="554.5" cy="293.94" r="1.25" fill="#efb0b9" stroke="#e8909e" stroke-width="0.55" />
<circle cx="554.5" cy="296.82" r="1.25" fill="#efb0b9" stroke="#e8909e" stroke-width="0.55" />
<circle cx="554.5" cy="300.1" r="1.25" fill="#efb0b9" stroke="#e8909e" stroke-width="0.55" />
<circle cx="554.5" cy="302.46" r="1.25" fill="#efb0b9" stroke="#e8909e" stroke-width="0.55" />
<circle cx="554.5" cy="304.56" r="1.25" fill="#efb0b9" stroke="#e8909e" stroke-width="0.55" />
<circle cx="554.5" cy="273.6" r="1.25" fill="#efb0b9" stroke="#e8909e" stroke-width="0.55" />
<circle cx="554.5" cy="289.34" r="1.25" fill="#efb0b9" stroke="#e8909e" stroke-width="0.55" />
<circle cx="579.5" cy="228.99" r="1.55" fill="#b71c35" stroke="#ffffff" stroke-width="0.45" />
<circle cx="579.5" cy="251.3" r="1.55" fill="#b71c35" stroke="#ffffff" stroke-width="0.45" />
<circle cx="579.5" cy="257.86" r="1.55" fill="#b71c35" stroke="#ffffff" stroke-width="0.45" />
<circle cx="579.5" cy="260.48" r="1.55" fill="#b71c35" stroke="#ffffff" stroke-width="0.45" />
<circle cx="579.5" cy="278.59" r="1.55" fill="#b71c35" stroke="#ffffff" stroke-width="0.45" />
<circle cx="579.5" cy="280.16" r="1.55" fill="#b71c35" stroke="#ffffff" stroke-width="0.45" />
<circle cx="579.5" cy="282.52" r="1.55" fill="#b71c35" stroke="#ffffff" stroke-width="0.45" />
<circle cx="579.5" cy="286.72" r="1.55" fill="#b71c35" stroke="#ffffff" stroke-width="0.45" />
<circle cx="579.5" cy="290.52" r="1.55" fill="#b71c35" stroke="#ffffff" stroke-width="0.45" />
<circle cx="579.5" cy="292.62" r="1.55" fill="#b71c35" stroke="#ffffff" stroke-width="0.45" />
<circle cx="579.5" cy="294.59" r="1.55" fill="#b71c35" stroke="#ffffff" stroke-width="0.45" />
<circle cx="579.5" cy="297.87" r="1.55" fill="#b71c35" stroke="#ffffff" stroke-width="0.45" />
<circle cx="579.5" cy="299.84" r="1.55" fill="#b71c35" stroke="#ffffff" stroke-width="0.45" />
<circle cx="579.5" cy="302.2" r="1.55" fill="#b71c35" stroke="#ffffff" stroke-width="0.45" />
<circle cx="579.5" cy="305.09" r="1.55" fill="#b71c35" stroke="#ffffff" stroke-width="0.45" />
<circle cx="579.5" cy="308.11" r="1.55" fill="#b71c35" stroke="#ffffff" stroke-width="0.45" />
<circle cx="579.5" cy="295.9" r="1.55" fill="#b71c35" stroke="#ffffff" stroke-width="0.45" />
<circle cx="579.5" cy="288.03" r="1.55" fill="#b71c35" stroke="#ffffff" stroke-width="0.45" />
<circle cx="579.5" cy="285.41" r="1.55" fill="#b71c35" stroke="#ffffff" stroke-width="0.45" />
<circle cx="579.5" cy="301.15" r="1.55" fill="#b71c35" stroke="#ffffff" stroke-width="0.45" />
<line x1="543.73" y1="277.14" x2="554.5" y2="277.14" stroke="#2b2b2b" stroke-width="1.7" />
<line x1="579.5" y1="286.2" x2="591.1" y2="286.2" stroke="#2b2b2b" stroke-width="1.7" />
<line x1="554.5" y1="339.2" x2="554.5" y2="337.6" stroke="#a0a0a0" stroke-width="0.8" />
<line x1="579.5" y1="339.2" x2="579.5" y2="337.6" stroke="#a0a0a0" stroke-width="0.8" />
<text x="0" y="0" font-size="8.1" text-anchor="middle" fill="#444" stroke="#444" stroke-width="0.12" transform="translate(554.5,351.12) scale(0.93,1)">pre</text>
<text x="0" y="0" font-size="8.1" text-anchor="middle" fill="#444" stroke="#444" stroke-width="0.12" transform="translate(579.5,351.12) scale(0.93,1)">post</text>
<text x="0" y="0" font-size="8.1" text-anchor="middle" fill="#111" stroke="#111" stroke-width="0.12" transform="translate(567,362.22) scale(0.93,1)">10 Hz</text>
<polygon points="614.2,327.39 614.2,327.39 613.96,326.08 613.72,324.77 613.48,323.46 613.23,322.14 612.99,320.83 612.74,319.52 612.49,318.21 612.24,316.9 611.99,315.58 611.74,314.27 611.48,312.96 611.23,311.65 610.96,310.34 610.68,309.02 610.38,307.71 610.07,306.4 609.76,305.09 609.45,303.78 609.15,302.46 608.86,301.15 608.59,299.84 608.34,298.53 608.12,297.22 607.93,295.9 607.79,294.59 607.66,293.28 607.53,291.97 607.41,290.66 607.29,289.34 607.18,288.03 607.07,286.72 606.98,285.41 606.89,284.1 606.82,282.78 606.77,281.47 606.73,280.16 606.7,278.85 606.7,277.54 606.72,276.22 606.75,274.91 606.79,273.6 606.86,272.29 606.93,270.98 607.02,269.66 607.12,268.35 607.23,267.04 607.34,265.73 607.47,264.42 607.6,263.1 607.73,261.79 607.88,260.48 608.1,259.17 608.38,257.86 608.68,256.54 608.96,255.23 609.2,253.92 609.39,252.61 609.56,251.3 609.71,249.98 609.86,248.67 610.02,247.36 610.2,246.05 610.4,244.74 610.65,243.42 610.96,242.11 611.29,240.8 611.62,239.49 611.93,238.18 612.2,236.86 612.42,235.55 612.63,234.24 612.82,232.93 613.01,231.62 613.2,230.3 613.4,228.99 613.6,227.68 613.8,226.37 614,225.06 614.2,223.74 614.2,223.74" fill="#abc9ec" stroke="none" stroke-width="0" />
<polygon points="639.6,334.48 639.6,334.48 640.06,332.73 640.5,330.99 640.91,329.25 641.3,327.51 641.67,325.77 642,324.02 642.3,322.28 642.58,320.54 642.85,318.8 643.09,317.06 643.33,315.31 643.55,313.57 643.76,311.83 643.98,310.09 644.21,308.34 644.45,306.6 644.68,304.86 644.9,303.12 645.1,301.38 645.27,299.63 645.4,297.89 645.48,296.15 645.5,294.41 645.49,292.67 645.47,290.92 645.44,289.18 645.4,287.44 645.36,285.7 645.3,283.95 645.25,282.21 645.19,280.47 645.13,278.73 645.06,276.99 644.98,275.24 644.87,273.5 644.75,271.76 644.62,270.02 644.48,268.28 644.34,266.53 644.2,264.79 644.07,263.05 643.95,261.31 643.85,259.56 643.75,257.82 643.65,256.08 643.55,254.34 643.46,252.6 643.37,250.85 643.29,249.11 643.2,247.37 643.12,245.63 643.04,243.89 642.96,242.14 642.89,240.4 642.81,238.66 642.73,236.92 642.65,235.18 642.56,233.43 642.46,231.69 642.36,229.95 642.25,228.21 642.14,226.46 642.03,224.72 641.92,222.98 641.81,221.24 641.7,219.5 641.59,217.75 641.48,216.01 641.38,214.27 641.31,212.53 641.25,210.79 641.19,209.04 641.13,207.3 641.06,205.56 640.97,203.82 640.85,202.07 640.63,200.33 640.16,198.59 639.6,196.85 639.6,196.85" fill="#4a84c6" stroke="none" stroke-width="0" />
<line x1="614.2" y1="236.86" x2="639.6" y2="242.11" stroke="#bcd4f0" stroke-width="0.45" opacity="0.9"/>
<line x1="614.2" y1="247.36" x2="639.6" y2="221.12" stroke="#bcd4f0" stroke-width="0.45" opacity="0.9"/>
<line x1="614.2" y1="250.64" x2="639.6" y2="247.36" stroke="#bcd4f0" stroke-width="0.45" opacity="0.9"/>
<line x1="614.2" y1="255.23" x2="639.6" y2="244.74" stroke="#bcd4f0" stroke-width="0.45" opacity="0.9"/>
<line x1="614.2" y1="260.48" x2="639.6" y2="236.86" stroke="#bcd4f0" stroke-width="0.45" opacity="0.9"/>
<line x1="614.2" y1="261.79" x2="639.6" y2="239.49" stroke="#bcd4f0" stroke-width="0.45" opacity="0.9"/>
<line x1="614.2" y1="267.04" x2="639.6" y2="196.85" stroke="#bcd4f0" stroke-width="0.45" opacity="0.9"/>
<line x1="614.2" y1="268.35" x2="639.6" y2="281.47" stroke="#bcd4f0" stroke-width="0.45" opacity="0.9"/>
<line x1="614.2" y1="276.22" x2="639.6" y2="231.62" stroke="#bcd4f0" stroke-width="0.45" opacity="0.9"/>
<line x1="614.2" y1="278.85" x2="639.6" y2="253.92" stroke="#bcd4f0" stroke-width="0.45" opacity="0.9"/>
<line x1="614.2" y1="282.13" x2="639.6" y2="249.98" stroke="#bcd4f0" stroke-width="0.45" opacity="0.9"/>
<line x1="614.2" y1="284.1" x2="639.6" y2="288.03" stroke="#bcd4f0" stroke-width="0.45" opacity="0.9"/>
<line x1="614.2" y1="286.06" x2="639.6" y2="286.06" stroke="#bcd4f0" stroke-width="0.45" opacity="0.9"/>
<line x1="614.2" y1="288.03" x2="639.6" y2="284.1" stroke="#bcd4f0" stroke-width="0.45" opacity="0.9"/>
<line x1="614.2" y1="291.97" x2="639.6" y2="299.84" stroke="#bcd4f0" stroke-width="0.45" opacity="0.9"/>
<line x1="614.2" y1="297.22" x2="639.6" y2="296.56" stroke="#bcd4f0" stroke-width="0.45" opacity="0.9"/>
<line x1="614.2" y1="301.15" x2="639.6" y2="302.46" stroke="#bcd4f0" stroke-width="0.45" opacity="0.9"/>
<line x1="614.2" y1="302.46" x2="639.6" y2="294.59" stroke="#bcd4f0" stroke-width="0.45" opacity="0.9"/>
<line x1="614.2" y1="303.78" x2="639.6" y2="314.93" stroke="#bcd4f0" stroke-width="0.45" opacity="0.9"/>
<line x1="614.2" y1="315.58" x2="639.6" y2="290.66" stroke="#bcd4f0" stroke-width="0.45" opacity="0.9"/>
<circle cx="614.2" cy="236.86" r="1.25" fill="#abc9ec" stroke="#8ab6e6" stroke-width="0.55" />
<circle cx="614.2" cy="247.36" r="1.25" fill="#abc9ec" stroke="#8ab6e6" stroke-width="0.55" />
<circle cx="614.2" cy="250.64" r="1.25" fill="#abc9ec" stroke="#8ab6e6" stroke-width="0.55" />
<circle cx="614.2" cy="255.23" r="1.25" fill="#abc9ec" stroke="#8ab6e6" stroke-width="0.55" />
<circle cx="614.2" cy="260.48" r="1.25" fill="#abc9ec" stroke="#8ab6e6" stroke-width="0.55" />
<circle cx="614.2" cy="261.79" r="1.25" fill="#abc9ec" stroke="#8ab6e6" stroke-width="0.55" />
<circle cx="614.2" cy="267.04" r="1.25" fill="#abc9ec" stroke="#8ab6e6" stroke-width="0.55" />
<circle cx="614.2" cy="268.35" r="1.25" fill="#abc9ec" stroke="#8ab6e6" stroke-width="0.55" />
<circle cx="614.2" cy="276.22" r="1.25" fill="#abc9ec" stroke="#8ab6e6" stroke-width="0.55" />
<circle cx="614.2" cy="278.85" r="1.25" fill="#abc9ec" stroke="#8ab6e6" stroke-width="0.55" />
<circle cx="614.2" cy="282.13" r="1.25" fill="#abc9ec" stroke="#8ab6e6" stroke-width="0.55" />
<circle cx="614.2" cy="284.1" r="1.25" fill="#abc9ec" stroke="#8ab6e6" stroke-width="0.55" />
<circle cx="614.2" cy="286.06" r="1.25" fill="#abc9ec" stroke="#8ab6e6" stroke-width="0.55" />
<circle cx="614.2" cy="288.03" r="1.25" fill="#abc9ec" stroke="#8ab6e6" stroke-width="0.55" />
<circle cx="614.2" cy="291.97" r="1.25" fill="#abc9ec" stroke="#8ab6e6" stroke-width="0.55" />
<circle cx="614.2" cy="297.22" r="1.25" fill="#abc9ec" stroke="#8ab6e6" stroke-width="0.55" />
<circle cx="614.2" cy="301.15" r="1.25" fill="#abc9ec" stroke="#8ab6e6" stroke-width="0.55" />
<circle cx="614.2" cy="302.46" r="1.25" fill="#abc9ec" stroke="#8ab6e6" stroke-width="0.55" />
<circle cx="614.2" cy="303.78" r="1.25" fill="#abc9ec" stroke="#8ab6e6" stroke-width="0.55" />
<circle cx="614.2" cy="315.58" r="1.25" fill="#abc9ec" stroke="#8ab6e6" stroke-width="0.55" />
<circle cx="639.6" cy="196.85" r="1.55" fill="#2366b2" stroke="#ffffff" stroke-width="0.45" />
<circle cx="639.6" cy="221.12" r="1.55" fill="#2366b2" stroke="#ffffff" stroke-width="0.45" />
<circle cx="639.6" cy="231.62" r="1.55" fill="#2366b2" stroke="#ffffff" stroke-width="0.45" />
<circle cx="639.6" cy="236.86" r="1.55" fill="#2366b2" stroke="#ffffff" stroke-width="0.45" />
<circle cx="639.6" cy="239.49" r="1.55" fill="#2366b2" stroke="#ffffff" stroke-width="0.45" />
<circle cx="639.6" cy="242.11" r="1.55" fill="#2366b2" stroke="#ffffff" stroke-width="0.45" />
<circle cx="639.6" cy="244.74" r="1.55" fill="#2366b2" stroke="#ffffff" stroke-width="0.45" />
<circle cx="639.6" cy="247.36" r="1.55" fill="#2366b2" stroke="#ffffff" stroke-width="0.45" />
<circle cx="639.6" cy="249.98" r="1.55" fill="#2366b2" stroke="#ffffff" stroke-width="0.45" />
<circle cx="639.6" cy="253.92" r="1.55" fill="#2366b2" stroke="#ffffff" stroke-width="0.45" />
<circle cx="639.6" cy="281.47" r="1.55" fill="#2366b2" stroke="#ffffff" stroke-width="0.45" />
<circle cx="639.6" cy="284.1" r="1.55" fill="#2366b2" stroke="#ffffff" stroke-width="0.45" />
<circle cx="639.6" cy="286.06" r="1.55" fill="#2366b2" stroke="#ffffff" stroke-width="0.45" />
<circle cx="639.6" cy="288.03" r="1.55" fill="#2366b2" stroke="#ffffff" stroke-width="0.45" />
<circle cx="639.6" cy="290.66" r="1.55" fill="#2366b2" stroke="#ffffff" stroke-width="0.45" />
<circle cx="639.6" cy="294.59" r="1.55" fill="#2366b2" stroke="#ffffff" stroke-width="0.45" />
<circle cx="639.6" cy="296.56" r="1.55" fill="#2366b2" stroke="#ffffff" stroke-width="0.45" />
<circle cx="639.6" cy="299.84" r="1.55" fill="#2366b2" stroke="#ffffff" stroke-width="0.45" />
<circle cx="639.6" cy="302.46" r="1.55" fill="#2366b2" stroke="#ffffff" stroke-width="0.45" />
<circle cx="639.6" cy="314.93" r="1.55" fill="#2366b2" stroke="#ffffff" stroke-width="0.45" />
<line x1="606.72" y1="275.96" x2="614.2" y2="275.96" stroke="#2b2b2b" stroke-width="1.7" />
<line x1="639.6" y1="267.96" x2="644.45" y2="267.96" stroke="#2b2b2b" stroke-width="1.7" />
<line x1="614.2" y1="339.2" x2="614.2" y2="337.6" stroke="#a0a0a0" stroke-width="0.8" />
<line x1="639.6" y1="339.2" x2="639.6" y2="337.6" stroke="#a0a0a0" stroke-width="0.8" />
<text x="0" y="0" font-size="8.1" text-anchor="middle" fill="#444" stroke="#444" stroke-width="0.12" transform="translate(614.2,351.12) scale(0.93,1)">pre</text>
<text x="0" y="0" font-size="8.1" text-anchor="middle" fill="#444" stroke="#444" stroke-width="0.12" transform="translate(639.6,351.12) scale(0.93,1)">post</text>
<text x="0" y="0" font-size="8.1" text-anchor="middle" fill="#111" stroke="#111" stroke-width="0.12" transform="translate(626.9,362.22) scale(0.93,1)">1 Hz</text>
<text x="0" y="0" font-size="8.96" text-anchor="middle" fill="#222" stroke="#222" stroke-width="0.12" transform="translate(564.8,374.83) scale(0.93,1)">Group</text>
<line x1="554.3" y1="196.4" x2="579.7" y2="196.4" stroke="#888" stroke-width="0.9" />
<text x="0" y="0" font-size="7.56" text-anchor="middle" fill="#111" stroke="#111" stroke-width="0.12" font-weight="bold" transform="translate(567,195.52) scale(0.93,1)">**</text>
<line x1="614.1" y1="184.4" x2="639.2" y2="184.4" stroke="#888" stroke-width="0.9" />
<text x="0" y="0" font-size="7.56" text-anchor="middle" fill="#111" stroke="#111" stroke-width="0.12" font-weight="bold" transform="translate(626.6,183.82) scale(0.93,1)">**</text>
<text x="0" y="0" font-size="12" text-anchor="start" fill="#000" stroke="#000" stroke-width="0.45" font-weight="bold" transform="translate(2,396.8)">f</text>
<rect x="34.6" y="406.9" width="73" height="156.6" fill="#f3f3f3" stroke="none" stroke-width="0" />
<line x1="28.5" y1="407" x2="28.5" y2="564" stroke="#8a8a8a" stroke-width="0.9" stroke-dasharray="2,2.5"/>
<line x1="22.5" y1="406.6" x2="22.5" y2="563.5" stroke="#a0a0a0" stroke-width="1" />
<line x1="22" y1="563.5" x2="107.6" y2="563.5" stroke="#a0a0a0" stroke-width="1" />
<line x1="22.5" y1="407.1" x2="24.7" y2="407.1" stroke="#a0a0a0" stroke-width="0.8" />
<text x="0" y="0" font-size="8.1" text-anchor="end" fill="#222222" stroke="#222222" stroke-width="0.12" transform="translate(19.6,410.02) scale(0.93,1)">10</text>
<line x1="22.5" y1="433.3" x2="24.7" y2="433.3" stroke="#a0a0a0" stroke-width="0.8" />
<text x="0" y="0" font-size="8.1" text-anchor="end" fill="#222222" stroke="#222222" stroke-width="0.12" transform="translate(19.6,436.22) scale(0.93,1)">9</text>
<line x1="22.5" y1="459.5" x2="24.7" y2="459.5" stroke="#a0a0a0" stroke-width="0.8" />
<text x="0" y="0" font-size="8.1" text-anchor="end" fill="#222222" stroke="#222222" stroke-width="0.12" transform="translate(19.6,462.42) scale(0.93,1)">8</text>
<line x1="22.5" y1="485.7" x2="24.7" y2="485.7" stroke="#a0a0a0" stroke-width="0.8" />
<text x="0" y="0" font-size="8.1" text-anchor="end" fill="#222222" stroke="#222222" stroke-width="0.12" transform="translate(19.6,488.62) scale(0.93,1)">7</text>
<line x1="22.5" y1="511.9" x2="24.7" y2="511.9" stroke="#a0a0a0" stroke-width="0.8" />
<text x="0" y="0" font-size="8.1" text-anchor="end" fill="#222222" stroke="#222222" stroke-width="0.12" transform="translate(19.6,514.82) scale(0.93,1)">6</text>
<line x1="22.5" y1="538.1" x2="24.7" y2="538.1" stroke="#a0a0a0" stroke-width="0.8" />
<text x="0" y="0" font-size="8.1" text-anchor="end" fill="#222222" stroke="#222222" stroke-width="0.12" transform="translate(19.6,541.02) scale(0.93,1)">5</text>
<text x="0" y="0" font-size="8.1" text-anchor="end" fill="#222222" stroke="#222222" stroke-width="0.12" transform="translate(19.6,566.92) scale(0.93,1)">0</text>
<rect x="21.5" y="548.6" width="2" height="6.2" fill="white" stroke="none" stroke-width="0" />
<path d="M19.5,551.4 Q22,550.8 22.7,550.2 T25.1,549.2" fill="none" stroke="#666" stroke-width="0.75" />
<path d="M19.5,554.4 Q22,553.8 22.7,553.2 T25.1,552.2" fill="none" stroke="#666" stroke-width="0.75" />
<line x1="40.5" y1="564" x2="40.5" y2="562.4" stroke="#a0a0a0" stroke-width="0.8" />
<text x="0" y="0" font-size="8.1" text-anchor="middle" fill="#222222" stroke="#222222" stroke-width="0.12" transform="translate(40.5,575.12) scale(0.93,1)">1</text>
<line x1="52.75" y1="564" x2="52.75" y2="562.4" stroke="#a0a0a0" stroke-width="0.8" />
<text x="0" y="0" font-size="8.1" text-anchor="middle" fill="#222222" stroke="#222222" stroke-width="0.12" transform="translate(52.75,575.12) scale(0.93,1)">2</text>
<line x1="65" y1="564" x2="65" y2="562.4" stroke="#a0a0a0" stroke-width="0.8" />
<text x="0" y="0" font-size="8.1" text-anchor="middle" fill="#222222" stroke="#222222" stroke-width="0.12" transform="translate(65,575.12) scale(0.93,1)">3</text>
<line x1="77.25" y1="564" x2="77.25" y2="562.4" stroke="#a0a0a0" stroke-width="0.8" />
<text x="0" y="0" font-size="8.1" text-anchor="middle" fill="#222222" stroke="#222222" stroke-width="0.12" transform="translate(77.25,575.12) scale(0.93,1)">4</text>
<line x1="89.5" y1="564" x2="89.5" y2="562.4" stroke="#a0a0a0" stroke-width="0.8" />
<text x="0" y="0" font-size="8.1" text-anchor="middle" fill="#222222" stroke="#222222" stroke-width="0.12" transform="translate(89.5,575.12) scale(0.93,1)">5</text>
<line x1="101.75" y1="564" x2="101.75" y2="562.4" stroke="#a0a0a0" stroke-width="0.8" />
<text x="0" y="0" font-size="8.1" text-anchor="middle" fill="#222222" stroke="#222222" stroke-width="0.12" transform="translate(101.75,575.12) scale(0.93,1)">6</text>
<line x1="28.5" y1="564" x2="28.5" y2="562.4" stroke="#a0a0a0" stroke-width="0.8" />
<text x="0" y="0" font-size="7.56" text-anchor="middle" fill="#222" stroke="#222" stroke-width="0.12" transform="translate(64.2,583.92) scale(0.93,1)">Test</text>
<text x="0" y="0" font-size="8.96" text-anchor="middle" fill="#222" stroke="#222" stroke-width="0.12" transform="translate(65.6,595.83) scale(0.93,1)">Block</text>
<text x="0" y="0" font-size="8.96" text-anchor="middle" fill="#222" stroke="#222" stroke-width="0.12" transform="translate(3,476.8) rotate(-90) translate(0,3.23) scale(0.93,1)">Threshold (°)</text>
<text x="0" y="0" font-size="8.86" text-anchor="middle" fill="#1d5577" stroke="#1d5577" stroke-width="0.12" font-weight="bold" transform="translate(50.9,405.69) scale(0.93,1)">Exp. 2</text>
<text x="0" y="0" font-size="8.21" text-anchor="middle" fill="#1d5577" stroke="#1d5577" stroke-width="0.12" font-weight="bold" font-style="italic" transform="translate(62.5,422.95) scale(0.93,1)">post</text>
<line x1="79.5" y1="414.5" x2="87.9" y2="414.5" stroke="#555555" stroke-width="1.5" />
<text x="0" y="0" font-size="7.13" text-anchor="end" fill="#111" stroke="#111" stroke-width="0.12" transform="translate(105.4,417.07) scale(0.8,1)">0 Hz</text>
<line x1="79.5" y1="421.4" x2="87.9" y2="421.4" stroke="#b71c35" stroke-width="1.5" />
<text x="0" y="0" font-size="7.13" text-anchor="end" fill="#111" stroke="#111" stroke-width="0.12" transform="translate(105.4,423.97) scale(0.8,1)">10 Hz</text>
<line x1="79.5" y1="428.3" x2="87.9" y2="428.3" stroke="#2366b2" stroke-width="1.5" />
<text x="0" y="0" font-size="7.13" text-anchor="end" fill="#111" stroke="#111" stroke-width="0.12" transform="translate(105.4,430.87) scale(0.8,1)">1 Hz</text>
<polyline points="40.5,431.97 41.54,437.19 42.58,442.12 43.61,446.77 44.65,451.16 45.69,455.3 46.73,459.22 47.77,462.91 48.81,466.4 49.84,469.69 50.88,472.79 51.92,475.73 52.96,478.49 54,481.11 55.03,483.58 56.07,485.9 57.11,488.1 58.15,490.18 59.19,492.14 60.22,493.99 61.26,495.73 62.3,497.38 63.34,498.94 64.38,500.4 65.42,501.79 66.45,503.1 67.49,504.34 68.53,505.5 69.57,506.6 70.61,507.64 71.64,508.62 72.68,509.55 73.72,510.42 74.76,511.25 75.8,512.03 76.83,512.76 77.87,513.46 78.91,514.11 79.95,514.73 80.99,515.32 82.03,515.87 83.06,516.39 84.1,516.88 85.14,517.34 86.18,517.78 87.22,518.19 88.25,518.58 89.29,518.95 90.33,519.3 91.37,519.63 92.41,519.94 93.44,520.23 94.48,520.51 95.52,520.77 96.56,521.01 97.6,521.24 98.64,521.46 99.67,521.67 100.71,521.87 101.75,522.05" fill="none" stroke="#555555" stroke-width="1.7" stroke-linecap="round" stroke-linejoin="round"/>
<polyline points="40.5,443.71 41.54,452.58 42.58,459.9 43.61,465.96 44.65,470.96 45.69,475.09 46.73,478.51 47.77,481.33 48.81,483.66 49.84,485.59 50.88,487.18 51.92,488.5 52.96,489.58 54,490.48 55.03,491.22 56.07,491.84 57.11,492.34 58.15,492.76 59.19,493.11 60.22,493.39 61.26,493.63 62.3,493.82 63.34,493.99 64.38,494.12 65.42,494.23 66.45,494.32 67.49,494.4 68.53,494.46 69.57,494.51 70.61,494.55 71.64,494.59 72.68,494.62 73.72,494.64 74.76,494.66 75.8,494.68 76.83,494.69 77.87,494.7 78.91,494.71 79.95,494.72 80.99,494.72 82.03,494.73 83.06,494.73 84.1,494.74 85.14,494.74 86.18,494.74 87.22,494.74 88.25,494.75 89.29,494.75 90.33,494.75 91.37,494.75 92.41,494.75 93.44,494.75 94.48,494.75 95.52,494.75 96.56,494.75 97.6,494.75 98.64,494.75 99.67,494.75 100.71,494.75 101.75,494.75" fill="none" stroke="#2366b2" stroke-width="1.7" stroke-linecap="round" stroke-linejoin="round"/>
<polyline points="40.5,438.56 41.54,450.59 42.58,459.75 43.61,466.87 44.65,472.5 45.69,477.01 46.73,480.69 47.77,483.7 48.81,486.21 49.84,488.32 50.88,490.1 51.92,491.62 52.96,492.92 54,494.05 55.03,495.03 56.07,495.88 57.11,496.63 58.15,497.3 59.19,497.88 60.22,498.41 61.26,498.87 62.3,499.29 63.34,499.67 64.38,500.01 65.42,500.32 66.45,500.6 67.49,500.85 68.53,501.08 69.57,501.3 70.61,501.49 71.64,501.67 72.68,501.83 73.72,501.98 74.76,502.12 75.8,502.25 76.83,502.37 77.87,502.48 78.91,502.59 79.95,502.68 80.99,502.77 82.03,502.86 83.06,502.94 84.1,503.01 85.14,503.08 86.18,503.14 87.22,503.2 88.25,503.26 89.29,503.31 90.33,503.37 91.37,503.41 92.41,503.46 93.44,503.5 94.48,503.54 95.52,503.58 96.56,503.62 97.6,503.65 98.64,503.68 99.67,503.71 100.71,503.74 101.75,503.77" fill="none" stroke="#b71c35" stroke-width="1.7" stroke-linecap="round" stroke-linejoin="round"/>
<line x1="38.6" y1="411.29" x2="38.6" y2="450.33" stroke="#555555" stroke-width="1.15" />
<line x1="36.6" y1="411.29" x2="40.6" y2="411.29" stroke="#555555" stroke-width="1.15" />
<line x1="36.6" y1="450.33" x2="40.6" y2="450.33" stroke="#555555" stroke-width="1.15" />
<circle cx="38.6" cy="430.68" r="2.2" fill="#555555" stroke="none" stroke-width="0" />
<line x1="50.85" y1="462.38" x2="50.85" y2="493.04" stroke="#555555" stroke-width="1.15" />
<line x1="48.85" y1="462.38" x2="52.85" y2="462.38" stroke="#555555" stroke-width="1.15" />
<line x1="48.85" y1="493.04" x2="52.85" y2="493.04" stroke="#555555" stroke-width="1.15" />
<circle cx="50.85" cy="477.58" r="2.2" fill="#555555" stroke="none" stroke-width="0" />
<line x1="63.1" y1="488.32" x2="63.1" y2="523.43" stroke="#555555" stroke-width="1.15" />
<line x1="61.1" y1="488.32" x2="65.1" y2="488.32" stroke="#555555" stroke-width="1.15" />
<line x1="61.1" y1="523.43" x2="65.1" y2="523.43" stroke="#555555" stroke-width="1.15" />
<circle cx="63.1" cy="505.87" r="2.2" fill="#555555" stroke="none" stroke-width="0" />
<line x1="75.35" y1="484.65" x2="75.35" y2="520.02" stroke="#555555" stroke-width="1.15" />
<line x1="73.35" y1="484.65" x2="77.35" y2="484.65" stroke="#555555" stroke-width="1.15" />
<line x1="73.35" y1="520.02" x2="77.35" y2="520.02" stroke="#555555" stroke-width="1.15" />
<circle cx="75.35" cy="502.73" r="2.2" fill="#555555" stroke="none" stroke-width="0" />
<line x1="87.6" y1="496.18" x2="87.6" y2="535.48" stroke="#555555" stroke-width="1.15" />
<line x1="85.6" y1="496.18" x2="89.6" y2="496.18" stroke="#555555" stroke-width="1.15" />
<line x1="85.6" y1="535.48" x2="89.6" y2="535.48" stroke="#555555" stroke-width="1.15" />
<circle cx="87.6" cy="515.57" r="2.2" fill="#555555" stroke="none" stroke-width="0" />
<line x1="99.85" y1="514" x2="99.85" y2="543.34" stroke="#555555" stroke-width="1.15" />
<line x1="97.85" y1="514" x2="101.85" y2="514" stroke="#555555" stroke-width="1.15" />
<line x1="97.85" y1="543.34" x2="101.85" y2="543.34" stroke="#555555" stroke-width="1.15" />
<circle cx="99.85" cy="528.41" r="2.2" fill="#555555" stroke="none" stroke-width="0" />
<line x1="42.3" y1="418.63" x2="42.3" y2="470.5" stroke="#2366b2" stroke-width="1.15" />
<line x1="40.3" y1="418.63" x2="44.3" y2="418.63" stroke="#2366b2" stroke-width="1.15" />
<line x1="40.3" y1="470.5" x2="44.3" y2="470.5" stroke="#2366b2" stroke-width="1.15" />
<circle cx="42.3" cy="444.57" r="2.2" fill="#2366b2" stroke="none" stroke-width="0" />
<line x1="54.55" y1="478.1" x2="54.55" y2="523.43" stroke="#2366b2" stroke-width="1.15" />
<line x1="52.55" y1="478.1" x2="56.55" y2="478.1" stroke="#2366b2" stroke-width="1.15" />
<line x1="52.55" y1="523.43" x2="56.55" y2="523.43" stroke="#2366b2" stroke-width="1.15" />
<circle cx="54.55" cy="500.9" r="2.2" fill="#2366b2" stroke="none" stroke-width="0" />
<line x1="66.8" y1="479.15" x2="66.8" y2="533.38" stroke="#2366b2" stroke-width="1.15" />
<line x1="64.8" y1="479.15" x2="68.8" y2="479.15" stroke="#2366b2" stroke-width="1.15" />
<line x1="64.8" y1="533.38" x2="68.8" y2="533.38" stroke="#2366b2" stroke-width="1.15" />
<circle cx="66.8" cy="506.14" r="2.2" fill="#2366b2" stroke="none" stroke-width="0" />
<line x1="79.05" y1="443.78" x2="79.05" y2="509.28" stroke="#2366b2" stroke-width="1.15" />
<line x1="77.05" y1="443.78" x2="81.05" y2="443.78" stroke="#2366b2" stroke-width="1.15" />
<line x1="77.05" y1="509.28" x2="81.05" y2="509.28" stroke="#2366b2" stroke-width="1.15" />
<circle cx="79.05" cy="476.53" r="2.2" fill="#2366b2" stroke="none" stroke-width="0" />
<line x1="91.3" y1="453.47" x2="91.3" y2="507.45" stroke="#2366b2" stroke-width="1.15" />
<line x1="89.3" y1="453.47" x2="93.3" y2="453.47" stroke="#2366b2" stroke-width="1.15" />
<line x1="89.3" y1="507.45" x2="93.3" y2="507.45" stroke="#2366b2" stroke-width="1.15" />
<circle cx="91.3" cy="480.46" r="2.2" fill="#2366b2" stroke="none" stroke-width="0" />
<line x1="103.55" y1="480.46" x2="103.55" y2="528.41" stroke="#2366b2" stroke-width="1.15" />
<line x1="101.55" y1="480.46" x2="105.55" y2="480.46" stroke="#2366b2" stroke-width="1.15" />
<line x1="101.55" y1="528.41" x2="105.55" y2="528.41" stroke="#2366b2" stroke-width="1.15" />
<circle cx="103.55" cy="504.56" r="2.2" fill="#2366b2" stroke="none" stroke-width="0" />
<line x1="40.5" y1="415.75" x2="40.5" y2="463.17" stroke="#b71c35" stroke-width="1.15" />
<line x1="38.5" y1="415.75" x2="42.5" y2="415.75" stroke="#b71c35" stroke-width="1.15" />
<line x1="38.5" y1="463.17" x2="42.5" y2="463.17" stroke="#b71c35" stroke-width="1.15" />
<circle cx="40.5" cy="439.59" r="2.2" fill="#b71c35" stroke="none" stroke-width="0" />
<line x1="52.75" y1="474.43" x2="52.75" y2="512.42" stroke="#b71c35" stroke-width="1.15" />
<line x1="50.75" y1="474.43" x2="54.75" y2="474.43" stroke="#b71c35" stroke-width="1.15" />
<line x1="50.75" y1="512.42" x2="54.75" y2="512.42" stroke="#b71c35" stroke-width="1.15" />
<circle cx="52.75" cy="493.04" r="2.2" fill="#b71c35" stroke="none" stroke-width="0" />
<line x1="65" y1="473.65" x2="65" y2="513.73" stroke="#b71c35" stroke-width="1.15" />
<line x1="63" y1="473.65" x2="67" y2="473.65" stroke="#b71c35" stroke-width="1.15" />
<line x1="63" y1="513.73" x2="67" y2="513.73" stroke="#b71c35" stroke-width="1.15" />
<circle cx="65" cy="493.82" r="2.2" fill="#b71c35" stroke="none" stroke-width="0" />
<line x1="77.25" y1="487.53" x2="77.25" y2="527.1" stroke="#b71c35" stroke-width="1.15" />
<line x1="75.25" y1="487.53" x2="79.25" y2="487.53" stroke="#b71c35" stroke-width="1.15" />
<line x1="75.25" y1="527.1" x2="79.25" y2="527.1" stroke="#b71c35" stroke-width="1.15" />
<circle cx="77.25" cy="507.71" r="2.2" fill="#b71c35" stroke="none" stroke-width="0" />
<line x1="89.5" y1="491.73" x2="89.5" y2="525.79" stroke="#b71c35" stroke-width="1.15" />
<line x1="87.5" y1="491.73" x2="91.5" y2="491.73" stroke="#b71c35" stroke-width="1.15" />
<line x1="87.5" y1="525.79" x2="91.5" y2="525.79" stroke="#b71c35" stroke-width="1.15" />
<circle cx="89.5" cy="508.49" r="2.2" fill="#b71c35" stroke="none" stroke-width="0" />
<line x1="101.75" y1="478.36" x2="101.75" y2="521.86" stroke="#b71c35" stroke-width="1.15" />
<line x1="99.75" y1="478.36" x2="103.75" y2="478.36" stroke="#b71c35" stroke-width="1.15" />
<line x1="99.75" y1="521.86" x2="103.75" y2="521.86" stroke="#b71c35" stroke-width="1.15" />
<circle cx="101.75" cy="500.11" r="2.2" fill="#b71c35" stroke="none" stroke-width="0" />
<text x="0" y="0" font-size="12" text-anchor="start" fill="#000" stroke="#000" stroke-width="0.45" font-weight="bold" transform="translate(116.5,397.3)">g</text>
<line x1="141.5" y1="405.9" x2="141.5" y2="564.5" stroke="#a0a0a0" stroke-width="1" />
<line x1="141" y1="564.5" x2="255" y2="564.5" stroke="#a0a0a0" stroke-width="1" />
<line x1="141.5" y1="564.3" x2="143.7" y2="564.3" stroke="#a0a0a0" stroke-width="0.8" />
<text x="0" y="0" font-size="8.1" text-anchor="end" fill="#222222" stroke="#222222" stroke-width="0.12" transform="translate(138.5,567.22) scale(0.93,1)">0</text>
<line x1="141.5" y1="546.7" x2="143.7" y2="546.7" stroke="#a0a0a0" stroke-width="0.8" />
<text x="0" y="0" font-size="8.1" text-anchor="end" fill="#222222" stroke="#222222" stroke-width="0.12" transform="translate(138.5,549.62) scale(0.93,1)">2</text>
<line x1="141.5" y1="529.1" x2="143.7" y2="529.1" stroke="#a0a0a0" stroke-width="0.8" />
<text x="0" y="0" font-size="8.1" text-anchor="end" fill="#222222" stroke="#222222" stroke-width="0.12" transform="translate(138.5,532.02) scale(0.93,1)">4</text>
<line x1="141.5" y1="511.5" x2="143.7" y2="511.5" stroke="#a0a0a0" stroke-width="0.8" />
<text x="0" y="0" font-size="8.1" text-anchor="end" fill="#222222" stroke="#222222" stroke-width="0.12" transform="translate(138.5,514.42) scale(0.93,1)">6</text>
<line x1="141.5" y1="493.9" x2="143.7" y2="493.9" stroke="#a0a0a0" stroke-width="0.8" />
<text x="0" y="0" font-size="8.1" text-anchor="end" fill="#222222" stroke="#222222" stroke-width="0.12" transform="translate(138.5,496.82) scale(0.93,1)">8</text>
<line x1="141.5" y1="476.3" x2="143.7" y2="476.3" stroke="#a0a0a0" stroke-width="0.8" />
<text x="0" y="0" font-size="8.1" text-anchor="end" fill="#222222" stroke="#222222" stroke-width="0.12" transform="translate(138.5,479.22) scale(0.93,1)">10</text>
<line x1="141.5" y1="458.7" x2="143.7" y2="458.7" stroke="#a0a0a0" stroke-width="0.8" />
<text x="0" y="0" font-size="8.1" text-anchor="end" fill="#222222" stroke="#222222" stroke-width="0.12" transform="translate(138.5,461.62) scale(0.93,1)">12</text>
<line x1="141.5" y1="441.1" x2="143.7" y2="441.1" stroke="#a0a0a0" stroke-width="0.8" />
<text x="0" y="0" font-size="8.1" text-anchor="end" fill="#222222" stroke="#222222" stroke-width="0.12" transform="translate(138.5,444.02) scale(0.93,1)">14</text>
<line x1="141.5" y1="423.5" x2="143.7" y2="423.5" stroke="#a0a0a0" stroke-width="0.8" />
<text x="0" y="0" font-size="8.1" text-anchor="end" fill="#222222" stroke="#222222" stroke-width="0.12" transform="translate(138.5,426.42) scale(0.93,1)">16</text>
<line x1="141.5" y1="405.9" x2="143.7" y2="405.9" stroke="#a0a0a0" stroke-width="0.8" />
<text x="0" y="0" font-size="8.1" text-anchor="end" fill="#222222" stroke="#222222" stroke-width="0.12" transform="translate(138.5,408.82) scale(0.93,1)">18</text>
<text x="0" y="0" font-size="8.86" text-anchor="middle" fill="#1d5577" stroke="#1d5577" stroke-width="0.12" font-weight="bold" transform="translate(163.6,403.99) scale(0.93,1)">Exp. 2</text>
<text x="0" y="0" font-size="8.96" text-anchor="middle" fill="#222" stroke="#222" stroke-width="0.12" transform="translate(121.2,473) rotate(-90) translate(0,3.23) scale(0.93,1)">Threshold (°)</text>
<polygon points="166,542.92 166,542.92 166.99,541.76 167.94,540.61 168.86,539.45 169.73,538.3 170.56,537.14 171.34,535.99 172.06,534.83 172.73,533.67 173.34,532.52 173.96,531.36 174.59,530.21 175.21,529.05 175.78,527.9 176.3,526.74 176.72,525.59 177.02,524.43 177.18,523.28 177.18,522.12 177.07,520.97 176.86,519.81 176.58,518.66 176.25,517.5 175.88,516.35 175.49,515.19 175.1,514.04 174.72,512.88 174.31,511.73 173.82,510.57 173.28,509.42 172.71,508.26 172.14,507.11 171.6,505.95 171.12,504.8 170.73,503.64 170.46,502.49 170.24,501.33 170.03,500.18 169.85,499.02 169.67,497.87 169.51,496.71 169.36,495.56 169.23,494.4 169.1,493.25 168.98,492.09 168.86,490.93 168.75,489.78 168.64,488.62 168.54,487.47 168.43,486.31 168.33,485.16 168.22,484 168.12,482.85 168.02,481.69 167.93,480.54 167.83,479.38 167.74,478.23 167.66,477.07 167.57,475.92 167.5,474.76 167.42,473.61 167.36,472.45 167.3,471.3 167.24,470.14 167.19,468.99 167.15,467.83 167.11,466.68 167.09,465.52 167.06,464.37 167.04,463.21 167.02,462.06 166.99,460.9 166.96,459.75 166.92,458.59 166.87,457.44 166.81,456.28 166.71,455.13 166.51,453.97 166.26,452.82 166,451.66 166,451.66" fill="#858585" stroke="none" stroke-width="0" />
<circle cx="165.5" cy="451.66" r="1.6" fill="#4a4a4a" stroke="#ffffff" stroke-width="0.45" />
<circle cx="165.5" cy="460.46" r="1.6" fill="#4a4a4a" stroke="#ffffff" stroke-width="0.45" />
<circle cx="165.5" cy="476.74" r="1.6" fill="#4a4a4a" stroke="#ffffff" stroke-width="0.45" />
<circle cx="165.5" cy="478.06" r="1.6" fill="#4a4a4a" stroke="#ffffff" stroke-width="0.45" />
<circle cx="165.5" cy="481.58" r="1.6" fill="#4a4a4a" stroke="#ffffff" stroke-width="0.45" />
<circle cx="165.5" cy="485.54" r="1.6" fill="#4a4a4a" stroke="#ffffff" stroke-width="0.45" />
<circle cx="165.5" cy="495.66" r="1.6" fill="#4a4a4a" stroke="#ffffff" stroke-width="0.45" />
<circle cx="165.5" cy="504.02" r="1.6" fill="#4a4a4a" stroke="#ffffff" stroke-width="0.45" />
<circle cx="165.5" cy="507.98" r="1.6" fill="#4a4a4a" stroke="#ffffff" stroke-width="0.45" />
<circle cx="165.5" cy="514.14" r="1.6" fill="#4a4a4a" stroke="#ffffff" stroke-width="0.45" />
<circle cx="165.5" cy="516.34" r="1.6" fill="#4a4a4a" stroke="#ffffff" stroke-width="0.45" />
<circle cx="165.5" cy="518.98" r="1.6" fill="#4a4a4a" stroke="#ffffff" stroke-width="0.45" />
<circle cx="165.5" cy="521.62" r="1.6" fill="#4a4a4a" stroke="#ffffff" stroke-width="0.45" />
<circle cx="165.5" cy="523.82" r="1.6" fill="#4a4a4a" stroke="#ffffff" stroke-width="0.45" />
<circle cx="165.5" cy="526.46" r="1.6" fill="#4a4a4a" stroke="#ffffff" stroke-width="0.45" />
<circle cx="165.5" cy="529.1" r="1.6" fill="#4a4a4a" stroke="#ffffff" stroke-width="0.45" />
<circle cx="165.5" cy="532.62" r="1.6" fill="#4a4a4a" stroke="#ffffff" stroke-width="0.45" />
<line x1="166" y1="508.86" x2="173.01" y2="508.86" stroke="#2b2b2b" stroke-width="1.7" />
<line x1="166" y1="564.3" x2="166" y2="562.7" stroke="#a0a0a0" stroke-width="0.8" />
<text x="0" y="0" font-size="8.1" text-anchor="middle" fill="#444" stroke="#444" stroke-width="0.12" transform="translate(166,575.42) scale(0.93,1)">post</text>
<text x="0" y="0" font-size="8.1" text-anchor="middle" fill="#111" stroke="#111" stroke-width="0.12" transform="translate(166,583.42) scale(0.93,1)">0 Hz</text>
<polygon points="199.7,544.06 199.7,544.06 201.03,542.75 202.3,541.43 203.52,540.12 204.67,538.8 205.75,537.49 206.75,536.17 207.66,534.86 208.47,533.54 209.26,532.23 210.06,530.92 210.85,529.6 211.58,528.29 212.22,526.97 212.73,525.66 213.07,524.34 213.2,523.03 213.1,521.71 212.78,520.4 212.29,519.09 211.66,517.77 210.92,516.46 210.12,515.14 209.29,513.83 208.46,512.51 207.67,511.2 206.97,509.88 206.27,508.57 205.46,507.26 204.6,505.94 203.75,504.63 203,503.31 202.39,502 202.01,500.68 201.9,499.37 201.95,498.05 202.04,496.74 202.17,495.43 202.31,494.11 202.46,492.8 202.58,491.48 202.67,490.17 202.72,488.85 202.75,487.54 202.79,486.23 202.82,484.91 202.84,483.6 202.87,482.28 202.88,480.97 202.89,479.65 202.9,478.34 202.82,477.02 202.56,475.71 202.17,474.4 201.74,473.08 201.35,471.77 201.07,470.45 200.97,469.14 200.92,467.82 200.88,466.51 200.84,465.19 200.82,463.88 200.79,462.57 200.77,461.25 200.76,459.94 200.74,458.62 200.73,457.31 200.71,455.99 200.69,454.68 200.67,453.36 200.65,452.05 200.62,450.74 200.58,449.42 200.53,448.11 200.48,446.79 200.38,445.48 200.23,444.16 200.07,442.85 199.88,441.53 199.7,440.22 199.7,440.22" fill="#c7505f" stroke="none" stroke-width="0" />
<circle cx="199.2" cy="432.3" r="1.6" fill="#b71c35" stroke="#ffffff" stroke-width="0.45" />
<circle cx="199.2" cy="447.26" r="1.6" fill="#b71c35" stroke="#ffffff" stroke-width="0.45" />
<circle cx="199.2" cy="452.54" r="1.6" fill="#b71c35" stroke="#ffffff" stroke-width="0.45" />
<circle cx="199.2" cy="479.82" r="1.6" fill="#b71c35" stroke="#ffffff" stroke-width="0.45" />
<circle cx="199.2" cy="484.22" r="1.6" fill="#b71c35" stroke="#ffffff" stroke-width="0.45" />
<circle cx="199.2" cy="486.42" r="1.6" fill="#b71c35" stroke="#ffffff" stroke-width="0.45" />
<circle cx="199.2" cy="490.38" r="1.6" fill="#b71c35" stroke="#ffffff" stroke-width="0.45" />
<circle cx="199.2" cy="499.18" r="1.6" fill="#b71c35" stroke="#ffffff" stroke-width="0.45" />
<circle cx="199.2" cy="509.74" r="1.6" fill="#b71c35" stroke="#ffffff" stroke-width="0.45" />
<circle cx="199.2" cy="513.26" r="1.6" fill="#b71c35" stroke="#ffffff" stroke-width="0.45" />
<circle cx="199.2" cy="516.78" r="1.6" fill="#b71c35" stroke="#ffffff" stroke-width="0.45" />
<circle cx="199.2" cy="519.42" r="1.6" fill="#b71c35" stroke="#ffffff" stroke-width="0.45" />
<circle cx="199.2" cy="522.06" r="1.6" fill="#b71c35" stroke="#ffffff" stroke-width="0.45" />
<circle cx="199.2" cy="524.26" r="1.6" fill="#b71c35" stroke="#ffffff" stroke-width="0.45" />
<circle cx="199.2" cy="527.78" r="1.6" fill="#b71c35" stroke="#ffffff" stroke-width="0.45" />
<circle cx="199.2" cy="532.62" r="1.6" fill="#b71c35" stroke="#ffffff" stroke-width="0.45" />
<circle cx="199.2" cy="535.26" r="1.6" fill="#b71c35" stroke="#ffffff" stroke-width="0.45" />
<circle cx="199.2" cy="537.9" r="1.6" fill="#b71c35" stroke="#ffffff" stroke-width="0.45" />
<line x1="199.7" y1="507.98" x2="205.92" y2="507.98" stroke="#2b2b2b" stroke-width="1.7" />
<line x1="199.7" y1="564.3" x2="199.7" y2="562.7" stroke="#a0a0a0" stroke-width="0.8" />
<text x="0" y="0" font-size="8.1" text-anchor="middle" fill="#444" stroke="#444" stroke-width="0.12" transform="translate(199.7,575.42) scale(0.93,1)">post</text>
<text x="0" y="0" font-size="8.1" text-anchor="middle" fill="#111" stroke="#111" stroke-width="0.12" transform="translate(199.7,583.42) scale(0.93,1)">10 Hz</text>
<polygon points="233.6,562.54 233.6,562.54 233.9,561.06 234.2,559.58 234.5,558.1 234.8,556.61 235.1,555.13 235.4,553.65 235.7,552.17 236.01,550.69 236.31,549.21 236.65,547.72 237,546.24 237.35,544.76 237.69,543.28 238,541.8 238.27,540.32 238.49,538.84 238.65,537.35 238.78,535.87 238.9,534.39 239,532.91 239.08,531.43 239.16,529.95 239.23,528.47 239.3,526.98 239.37,525.5 239.43,524.02 239.47,522.54 239.5,521.06 239.48,519.58 239.29,518.09 238.98,516.61 238.61,515.13 238.23,513.65 237.91,512.17 237.69,510.69 237.49,509.21 237.31,507.72 237.14,506.24 236.98,504.76 236.83,503.28 236.68,501.8 236.54,500.32 236.4,498.83 236.26,497.35 236.13,495.87 236.01,494.39 235.9,492.91 235.81,491.43 235.74,489.95 235.67,488.46 235.62,486.98 235.57,485.5 235.52,484.02 235.47,482.54 235.41,481.06 235.35,479.57 235.28,478.09 235.21,476.61 235.14,475.13 235.07,473.65 235.01,472.17 234.96,470.69 234.91,469.2 234.87,467.72 234.83,466.24 234.8,464.76 234.76,463.28 234.71,461.8 234.66,460.32 234.61,458.83 234.54,457.35 234.45,455.87 234.36,454.39 234.25,452.91 234.14,451.43 234.01,449.94 233.88,448.46 233.74,446.98 233.6,445.5 233.6,445.5" fill="#4a84c6" stroke="none" stroke-width="0" />
<circle cx="233.1" cy="417.34" r="1.6" fill="#2366b2" stroke="#ffffff" stroke-width="0.45" />
<circle cx="233.1" cy="448.14" r="1.6" fill="#2366b2" stroke="#ffffff" stroke-width="0.45" />
<circle cx="233.1" cy="468.38" r="1.6" fill="#2366b2" stroke="#ffffff" stroke-width="0.45" />
<circle cx="233.1" cy="480.7" r="1.6" fill="#2366b2" stroke="#ffffff" stroke-width="0.45" />
<circle cx="233.1" cy="485.54" r="1.6" fill="#2366b2" stroke="#ffffff" stroke-width="0.45" />
<circle cx="233.1" cy="507.1" r="1.6" fill="#2366b2" stroke="#ffffff" stroke-width="0.45" />
<circle cx="233.1" cy="510.62" r="1.6" fill="#2366b2" stroke="#ffffff" stroke-width="0.45" />
<circle cx="233.1" cy="517.66" r="1.6" fill="#2366b2" stroke="#ffffff" stroke-width="0.45" />
<circle cx="233.1" cy="521.62" r="1.6" fill="#2366b2" stroke="#ffffff" stroke-width="0.45" />
<circle cx="233.1" cy="527.78" r="1.6" fill="#2366b2" stroke="#ffffff" stroke-width="0.45" />
<circle cx="233.1" cy="530.86" r="1.6" fill="#2366b2" stroke="#ffffff" stroke-width="0.45" />
<circle cx="233.1" cy="534.38" r="1.6" fill="#2366b2" stroke="#ffffff" stroke-width="0.45" />
<circle cx="233.1" cy="537.02" r="1.6" fill="#2366b2" stroke="#ffffff" stroke-width="0.45" />
<circle cx="233.1" cy="539.66" r="1.6" fill="#2366b2" stroke="#ffffff" stroke-width="0.45" />
<line x1="233.6" y1="505.78" x2="237.09" y2="505.78" stroke="#2b2b2b" stroke-width="1.7" />
<line x1="233.6" y1="564.3" x2="233.6" y2="562.7" stroke="#a0a0a0" stroke-width="0.8" />
<text x="0" y="0" font-size="8.1" text-anchor="middle" fill="#444" stroke="#444" stroke-width="0.12" transform="translate(233.6,575.42) scale(0.93,1)">post</text>
<text x="0" y="0" font-size="8.1" text-anchor="middle" fill="#111" stroke="#111" stroke-width="0.12" transform="translate(233.6,583.42) scale(0.93,1)">1 Hz</text>
<text x="0" y="0" font-size="8.96" text-anchor="middle" fill="#222" stroke="#222" stroke-width="0.12" transform="translate(200.4,596.53) scale(0.93,1)">Group</text>
<text x="0" y="0" font-size="12" text-anchor="start" fill="#000" stroke="#000" stroke-width="0.45" font-weight="bold" transform="translate(254,397)">h</text>
<rect x="331.8" y="406.8" width="85.1" height="156.7" fill="#f3f3f3" stroke="none" stroke-width="0" />
<rect x="431.8" y="406.8" width="85" height="156.7" fill="#f3f3f3" stroke="none" stroke-width="0" />
<line x1="424.1" y1="407" x2="424.1" y2="564" stroke="#8a8a8a" stroke-width="0.9" stroke-dasharray="2,2.5"/>
<line x1="275" y1="406.5" x2="275" y2="564.5" stroke="#a0a0a0" stroke-width="1" />
<line x1="274" y1="564.5" x2="516.9" y2="564.5" stroke="#a0a0a0" stroke-width="1" />
<line x1="275" y1="407" x2="277.2" y2="407" stroke="#a0a0a0" stroke-width="0.8" />
<text x="0" y="0" font-size="8.1" text-anchor="end" fill="#222222" stroke="#222222" stroke-width="0.12" transform="translate(272,409.92) scale(0.93,1)">11</text>
<line x1="275" y1="426.65" x2="277.2" y2="426.65" stroke="#a0a0a0" stroke-width="0.8" />
<text x="0" y="0" font-size="8.1" text-anchor="end" fill="#222222" stroke="#222222" stroke-width="0.12" transform="translate(272,429.57) scale(0.93,1)">10</text>
<line x1="275" y1="446.3" x2="277.2" y2="446.3" stroke="#a0a0a0" stroke-width="0.8" />
<text x="0" y="0" font-size="8.1" text-anchor="end" fill="#222222" stroke="#222222" stroke-width="0.12" transform="translate(272,449.22) scale(0.93,1)">9</text>
<line x1="275" y1="465.95" x2="277.2" y2="465.95" stroke="#a0a0a0" stroke-width="0.8" />
<text x="0" y="0" font-size="8.1" text-anchor="end" fill="#222222" stroke="#222222" stroke-width="0.12" transform="translate(272,468.87) scale(0.93,1)">8</text>
<line x1="275" y1="485.6" x2="277.2" y2="485.6" stroke="#a0a0a0" stroke-width="0.8" />
<text x="0" y="0" font-size="8.1" text-anchor="end" fill="#222222" stroke="#222222" stroke-width="0.12" transform="translate(272,488.52) scale(0.93,1)">7</text>
<line x1="275" y1="505.25" x2="277.2" y2="505.25" stroke="#a0a0a0" stroke-width="0.8" />
<text x="0" y="0" font-size="8.1" text-anchor="end" fill="#222222" stroke="#222222" stroke-width="0.12" transform="translate(272,508.17) scale(0.93,1)">6</text>
<line x1="275" y1="524.9" x2="277.2" y2="524.9" stroke="#a0a0a0" stroke-width="0.8" />
<text x="0" y="0" font-size="8.1" text-anchor="end" fill="#222222" stroke="#222222" stroke-width="0.12" transform="translate(272,527.82) scale(0.93,1)">5</text>
<line x1="275" y1="544.55" x2="277.2" y2="544.55" stroke="#a0a0a0" stroke-width="0.8" />
<text x="0" y="0" font-size="8.1" text-anchor="end" fill="#222222" stroke="#222222" stroke-width="0.12" transform="translate(272,547.47) scale(0.93,1)">4</text>
<text x="0" y="0" font-size="8.1" text-anchor="end" fill="#222222" stroke="#222222" stroke-width="0.12" transform="translate(271.8,566.92) scale(0.93,1)">0</text>
<rect x="274" y="552.1" width="2" height="6.2" fill="white" stroke="none" stroke-width="0" />
<path d="M272,554.9 Q274.5,554.3 275.2,553.7 T277.6,552.7" fill="none" stroke="#666" stroke-width="0.75" />
<path d="M272,557.9 Q274.5,557.3 275.2,556.7 T277.6,555.7" fill="none" stroke="#666" stroke-width="0.75" />
<line x1="282.2" y1="564" x2="282.2" y2="562.4" stroke="#a0a0a0" stroke-width="0.8" />
<text x="0" y="0" font-size="8.1" text-anchor="middle" fill="#222222" stroke="#222222" stroke-width="0.12" transform="translate(282.2,574.52) scale(0.93,1)">1</text>
<line x1="296.42" y1="564" x2="296.42" y2="562.4" stroke="#a0a0a0" stroke-width="0.8" />
<text x="0" y="0" font-size="8.1" text-anchor="middle" fill="#222222" stroke="#222222" stroke-width="0.12" transform="translate(296.42,574.52) scale(0.93,1)">2</text>
<line x1="310.64" y1="564" x2="310.64" y2="562.4" stroke="#a0a0a0" stroke-width="0.8" />
<text x="0" y="0" font-size="8.1" text-anchor="middle" fill="#222222" stroke="#222222" stroke-width="0.12" transform="translate(310.64,574.52) scale(0.93,1)">3</text>
<line x1="324.86" y1="564" x2="324.86" y2="562.4" stroke="#a0a0a0" stroke-width="0.8" />
<text x="0" y="0" font-size="8.1" text-anchor="middle" fill="#222222" stroke="#222222" stroke-width="0.12" transform="translate(324.86,574.52) scale(0.93,1)">4</text>
<line x1="339.08" y1="564" x2="339.08" y2="562.4" stroke="#a0a0a0" stroke-width="0.8" />
<text x="0" y="0" font-size="8.1" text-anchor="middle" fill="#222222" stroke="#222222" stroke-width="0.12" transform="translate(339.08,574.52) scale(0.93,1)">5</text>
<line x1="353.3" y1="564" x2="353.3" y2="562.4" stroke="#a0a0a0" stroke-width="0.8" />
<text x="0" y="0" font-size="8.1" text-anchor="middle" fill="#222222" stroke="#222222" stroke-width="0.12" transform="translate(353.3,574.52) scale(0.93,1)">6</text>
<line x1="367.52" y1="564" x2="367.52" y2="562.4" stroke="#a0a0a0" stroke-width="0.8" />
<text x="0" y="0" font-size="8.1" text-anchor="middle" fill="#222222" stroke="#222222" stroke-width="0.12" transform="translate(367.52,574.52) scale(0.93,1)">7</text>
<line x1="381.74" y1="564" x2="381.74" y2="562.4" stroke="#a0a0a0" stroke-width="0.8" />
<text x="0" y="0" font-size="8.1" text-anchor="middle" fill="#222222" stroke="#222222" stroke-width="0.12" transform="translate(381.74,574.52) scale(0.93,1)">8</text>
<line x1="395.96" y1="564" x2="395.96" y2="562.4" stroke="#a0a0a0" stroke-width="0.8" />
<text x="0" y="0" font-size="8.1" text-anchor="middle" fill="#222222" stroke="#222222" stroke-width="0.12" transform="translate(395.96,574.52) scale(0.93,1)">9</text>
<line x1="410.18" y1="564" x2="410.18" y2="562.4" stroke="#a0a0a0" stroke-width="0.8" />
<text x="0" y="0" font-size="8.1" text-anchor="middle" fill="#222222" stroke="#222222" stroke-width="0.12" transform="translate(410.18,574.52) scale(0.93,1)">10</text>
<line x1="424.1" y1="564" x2="424.1" y2="562.4" stroke="#a0a0a0" stroke-width="0.8" />
<line x1="438.8" y1="564" x2="438.8" y2="562.4" stroke="#a0a0a0" stroke-width="0.8" />
<text x="0" y="0" font-size="8.1" text-anchor="middle" fill="#222222" stroke="#222222" stroke-width="0.12" transform="translate(438.8,574.52) scale(0.93,1)">1</text>
<line x1="452.95" y1="564" x2="452.95" y2="562.4" stroke="#a0a0a0" stroke-width="0.8" />
<text x="0" y="0" font-size="8.1" text-anchor="middle" fill="#222222" stroke="#222222" stroke-width="0.12" transform="translate(452.95,574.52) scale(0.93,1)">2</text>
<line x1="467.1" y1="564" x2="467.1" y2="562.4" stroke="#a0a0a0" stroke-width="0.8" />
<text x="0" y="0" font-size="8.1" text-anchor="middle" fill="#222222" stroke="#222222" stroke-width="0.12" transform="translate(467.1,574.52) scale(0.93,1)">3</text>
<line x1="481.25" y1="564" x2="481.25" y2="562.4" stroke="#a0a0a0" stroke-width="0.8" />
<text x="0" y="0" font-size="8.1" text-anchor="middle" fill="#222222" stroke="#222222" stroke-width="0.12" transform="translate(481.25,574.52) scale(0.93,1)">4</text>
<line x1="495.4" y1="564" x2="495.4" y2="562.4" stroke="#a0a0a0" stroke-width="0.8" />
<text x="0" y="0" font-size="8.1" text-anchor="middle" fill="#222222" stroke="#222222" stroke-width="0.12" transform="translate(495.4,574.52) scale(0.93,1)">5</text>
<line x1="509.55" y1="564" x2="509.55" y2="562.4" stroke="#a0a0a0" stroke-width="0.8" />
<text x="0" y="0" font-size="8.1" text-anchor="middle" fill="#222222" stroke="#222222" stroke-width="0.12" transform="translate(509.55,574.52) scale(0.93,1)">6</text>
<text x="0" y="0" font-size="7.56" text-anchor="middle" fill="#222" stroke="#222" stroke-width="0.12" transform="translate(341.9,583.82) scale(0.93,1)">Training</text>
<text x="0" y="0" font-size="7.56" text-anchor="middle" fill="#222" stroke="#222" stroke-width="0.12" transform="translate(477.2,583.82) scale(0.93,1)">Test</text>
<text x="0" y="0" font-size="8.96" text-anchor="middle" fill="#222" stroke="#222" stroke-width="0.12" transform="translate(393.4,596.63) scale(0.93,1)">Block</text>
<text x="0" y="0" font-size="8.96" text-anchor="middle" fill="#222" stroke="#222" stroke-width="0.12" transform="translate(256.9,474) rotate(-90) translate(0,3.23) scale(0.93,1)">Threshold (°)</text>
<text x="0" y="0" font-size="8.86" text-anchor="middle" fill="#1d5577" stroke="#1d5577" stroke-width="0.12" font-weight="bold" transform="translate(289.6,404.09) scale(0.93,1)">Exp. 3</text>
<text x="0" y="0" font-size="8.21" text-anchor="middle" fill="#1d5577" stroke="#1d5577" stroke-width="0.12" font-weight="bold" font-style="italic" transform="translate(375,423.85) scale(0.93,1)">pre</text>
<text x="0" y="0" font-size="8.21" text-anchor="middle" fill="#1d5577" stroke="#1d5577" stroke-width="0.12" font-weight="bold" font-style="italic" transform="translate(454.4,423.35) scale(0.93,1)">post</text>
<line x1="473.2" y1="421.4" x2="481.5" y2="421.4" stroke="#ec96a4" stroke-width="1.5" />
<line x1="484.9" y1="421.4" x2="493.2" y2="421.4" stroke="#b71c35" stroke-width="1.5" />
<text x="0" y="0" font-size="7.13" text-anchor="end" fill="#111" stroke="#111" stroke-width="0.12" transform="translate(511.1,423.97) scale(0.8,1)">10 Hz</text>
<line x1="473.2" y1="428.4" x2="481.5" y2="428.4" stroke="#92bbe7" stroke-width="1.5" />
<line x1="484.9" y1="428.4" x2="493.2" y2="428.4" stroke="#2366b2" stroke-width="1.5" />
<text x="0" y="0" font-size="7.13" text-anchor="end" fill="#111" stroke="#111" stroke-width="0.12" transform="translate(511.1,430.97) scale(0.8,1)">1 Hz</text>
<polyline points="282.2,437.01 284.37,443.29 286.54,448.55 288.71,453.05 290.88,456.96 293.05,460.41 295.21,463.48 297.38,466.24 299.55,468.75 301.72,471.03 303.89,473.13 306.06,475.06 308.23,476.86 310.4,478.53 312.57,480.09 314.74,481.55 316.91,482.93 319.08,484.22 321.24,485.45 323.41,486.61 325.58,487.71 327.75,488.76 329.92,489.75 332.09,490.71 334.26,491.62 336.43,492.49 338.6,493.32 340.77,494.13 342.94,494.9 345.11,495.64 347.27,496.35 349.44,497.04 351.61,497.71 353.78,498.35 355.95,498.97 358.12,499.57 360.29,500.16 362.46,500.72 364.63,501.27 366.8,501.8 368.97,502.31 371.14,502.82 373.3,503.3 375.47,503.78 377.64,504.24 379.81,504.69 381.98,505.13 384.15,505.56 386.32,505.97 388.49,506.38 390.66,506.78 392.83,507.17 395,507.54 397.17,507.92 399.33,508.28 401.5,508.63 403.67,508.98 405.84,509.32 408.01,509.65 410.18,509.98" fill="none" stroke="#92bbe7" stroke-width="1.5" stroke-linecap="round" stroke-linejoin="round"/>
<polyline points="282.2,437.01 284.37,447.31 286.54,455.34 288.71,461.78 290.88,467.08 293.05,471.51 295.21,475.28 297.38,478.53 299.55,481.36 301.72,483.84 303.89,486.05 306.06,488.02 308.23,489.78 310.4,491.38 312.57,492.84 314.74,494.16 316.91,495.38 319.08,496.5 321.24,497.53 323.41,498.49 325.58,499.38 327.75,500.21 329.92,500.99 332.09,501.71 334.26,502.39 336.43,503.04 338.6,503.64 340.77,504.21 342.94,504.75 345.11,505.26 347.27,505.75 349.44,506.21 351.61,506.65 353.78,507.06 355.95,507.46 358.12,507.84 360.29,508.2 362.46,508.55 364.63,508.89 366.8,509.21 368.97,509.51 371.14,509.81 373.3,510.09 375.47,510.36 377.64,510.63 379.81,510.88 381.98,511.12 384.15,511.36 386.32,511.58 388.49,511.8 390.66,512.02 392.83,512.22 395,512.42 397.17,512.61 399.33,512.8 401.5,512.98 403.67,513.16 405.84,513.33 408.01,513.49 410.18,513.65" fill="none" stroke="#ec96a4" stroke-width="1.5" stroke-linecap="round" stroke-linejoin="round"/>
<line x1="283.5" y1="422.33" x2="283.5" y2="453.37" stroke="#92bbe7" stroke-width="1.15" />
<line x1="281.5" y1="422.33" x2="285.5" y2="422.33" stroke="#92bbe7" stroke-width="1.15" />
<line x1="281.5" y1="453.37" x2="285.5" y2="453.37" stroke="#92bbe7" stroke-width="1.15" />
<circle cx="283.5" cy="438.05" r="2.2" fill="#92bbe7" stroke="none" stroke-width="0" />
<line x1="297.72" y1="441.39" x2="297.72" y2="476.36" stroke="#92bbe7" stroke-width="1.15" />
<line x1="295.72" y1="441.39" x2="299.72" y2="441.39" stroke="#92bbe7" stroke-width="1.15" />
<line x1="295.72" y1="476.36" x2="299.72" y2="476.36" stroke="#92bbe7" stroke-width="1.15" />
<circle cx="297.72" cy="459.27" r="2.2" fill="#92bbe7" stroke="none" stroke-width="0" />
<line x1="311.94" y1="468.9" x2="311.94" y2="497.39" stroke="#92bbe7" stroke-width="1.15" />
<line x1="309.94" y1="468.9" x2="313.94" y2="468.9" stroke="#92bbe7" stroke-width="1.15" />
<line x1="309.94" y1="497.39" x2="313.94" y2="497.39" stroke="#92bbe7" stroke-width="1.15" />
<circle cx="311.94" cy="482.85" r="2.2" fill="#92bbe7" stroke="none" stroke-width="0" />
<line x1="326.16" y1="473.22" x2="326.16" y2="505.84" stroke="#92bbe7" stroke-width="1.15" />
<line x1="324.16" y1="473.22" x2="328.16" y2="473.22" stroke="#92bbe7" stroke-width="1.15" />
<line x1="324.16" y1="505.84" x2="328.16" y2="505.84" stroke="#92bbe7" stroke-width="1.15" />
<circle cx="326.16" cy="489.53" r="2.2" fill="#92bbe7" stroke="none" stroke-width="0" />
<line x1="340.38" y1="476.56" x2="340.38" y2="512.13" stroke="#92bbe7" stroke-width="1.15" />
<line x1="338.38" y1="476.56" x2="342.38" y2="476.56" stroke="#92bbe7" stroke-width="1.15" />
<line x1="338.38" y1="512.13" x2="342.38" y2="512.13" stroke="#92bbe7" stroke-width="1.15" />
<circle cx="340.38" cy="494.25" r="2.2" fill="#92bbe7" stroke="none" stroke-width="0" />
<line x1="354.6" y1="495.82" x2="354.6" y2="529.42" stroke="#92bbe7" stroke-width="1.15" />
<line x1="352.6" y1="495.82" x2="356.6" y2="495.82" stroke="#92bbe7" stroke-width="1.15" />
<line x1="352.6" y1="529.42" x2="356.6" y2="529.42" stroke="#92bbe7" stroke-width="1.15" />
<circle cx="354.6" cy="512.52" r="2.2" fill="#92bbe7" stroke="none" stroke-width="0" />
<line x1="368.82" y1="488.35" x2="368.82" y2="519.79" stroke="#92bbe7" stroke-width="1.15" />
<line x1="366.82" y1="488.35" x2="370.82" y2="488.35" stroke="#92bbe7" stroke-width="1.15" />
<line x1="366.82" y1="519.79" x2="370.82" y2="519.79" stroke="#92bbe7" stroke-width="1.15" />
<circle cx="368.82" cy="503.28" r="2.2" fill="#92bbe7" stroke="none" stroke-width="0" />
<line x1="383.04" y1="490.32" x2="383.04" y2="524.9" stroke="#92bbe7" stroke-width="1.15" />
<line x1="381.04" y1="490.32" x2="385.04" y2="490.32" stroke="#92bbe7" stroke-width="1.15" />
<line x1="381.04" y1="524.9" x2="385.04" y2="524.9" stroke="#92bbe7" stroke-width="1.15" />
<circle cx="383.04" cy="507.21" r="2.2" fill="#92bbe7" stroke="none" stroke-width="0" />
<line x1="397.26" y1="479.7" x2="397.26" y2="515.47" stroke="#92bbe7" stroke-width="1.15" />
<line x1="395.26" y1="479.7" x2="399.26" y2="479.7" stroke="#92bbe7" stroke-width="1.15" />
<line x1="395.26" y1="515.47" x2="399.26" y2="515.47" stroke="#92bbe7" stroke-width="1.15" />
<circle cx="397.26" cy="497.39" r="2.2" fill="#92bbe7" stroke="none" stroke-width="0" />
<line x1="411.48" y1="493.07" x2="411.48" y2="522.54" stroke="#92bbe7" stroke-width="1.15" />
<line x1="409.48" y1="493.07" x2="413.48" y2="493.07" stroke="#92bbe7" stroke-width="1.15" />
<line x1="409.48" y1="522.54" x2="413.48" y2="522.54" stroke="#92bbe7" stroke-width="1.15" />
<circle cx="411.48" cy="508" r="2.2" fill="#92bbe7" stroke="none" stroke-width="0" />
<line x1="282.2" y1="413.48" x2="282.2" y2="458.09" stroke="#ec96a4" stroke-width="1.15" />
<line x1="280.2" y1="413.48" x2="284.2" y2="413.48" stroke="#ec96a4" stroke-width="1.15" />
<line x1="280.2" y1="458.09" x2="284.2" y2="458.09" stroke="#ec96a4" stroke-width="1.15" />
<circle cx="282.2" cy="435.89" r="2.2" fill="#ec96a4" stroke="none" stroke-width="0" />
<line x1="296.42" y1="456.71" x2="296.42" y2="488.55" stroke="#ec96a4" stroke-width="1.15" />
<line x1="294.42" y1="456.71" x2="298.42" y2="456.71" stroke="#ec96a4" stroke-width="1.15" />
<line x1="294.42" y1="488.55" x2="298.42" y2="488.55" stroke="#ec96a4" stroke-width="1.15" />
<circle cx="296.42" cy="472.63" r="2.2" fill="#ec96a4" stroke="none" stroke-width="0" />
<line x1="310.64" y1="488.55" x2="310.64" y2="514.09" stroke="#ec96a4" stroke-width="1.15" />
<line x1="308.64" y1="488.55" x2="312.64" y2="488.55" stroke="#ec96a4" stroke-width="1.15" />
<line x1="308.64" y1="514.09" x2="312.64" y2="514.09" stroke="#ec96a4" stroke-width="1.15" />
<circle cx="310.64" cy="501.71" r="2.2" fill="#ec96a4" stroke="none" stroke-width="0" />
<line x1="324.86" y1="475.38" x2="324.86" y2="503.28" stroke="#ec96a4" stroke-width="1.15" />
<line x1="322.86" y1="475.38" x2="326.86" y2="475.38" stroke="#ec96a4" stroke-width="1.15" />
<line x1="322.86" y1="503.28" x2="326.86" y2="503.28" stroke="#ec96a4" stroke-width="1.15" />
<circle cx="324.86" cy="488.94" r="2.2" fill="#ec96a4" stroke="none" stroke-width="0" />
<line x1="339.08" y1="501.71" x2="339.08" y2="528.83" stroke="#ec96a4" stroke-width="1.15" />
<line x1="337.08" y1="501.71" x2="341.08" y2="501.71" stroke="#ec96a4" stroke-width="1.15" />
<line x1="337.08" y1="528.83" x2="341.08" y2="528.83" stroke="#ec96a4" stroke-width="1.15" />
<circle cx="339.08" cy="515.47" r="2.2" fill="#ec96a4" stroke="none" stroke-width="0" />
<line x1="353.3" y1="496.21" x2="353.3" y2="530.4" stroke="#ec96a4" stroke-width="1.15" />
<line x1="351.3" y1="496.21" x2="355.3" y2="496.21" stroke="#ec96a4" stroke-width="1.15" />
<line x1="351.3" y1="530.4" x2="355.3" y2="530.4" stroke="#ec96a4" stroke-width="1.15" />
<circle cx="353.3" cy="513.5" r="2.2" fill="#ec96a4" stroke="none" stroke-width="0" />
<line x1="367.52" y1="504.46" x2="367.52" y2="531.78" stroke="#ec96a4" stroke-width="1.15" />
<line x1="365.52" y1="504.46" x2="369.52" y2="504.46" stroke="#ec96a4" stroke-width="1.15" />
<line x1="365.52" y1="531.78" x2="369.52" y2="531.78" stroke="#ec96a4" stroke-width="1.15" />
<circle cx="367.52" cy="518.22" r="2.2" fill="#ec96a4" stroke="none" stroke-width="0" />
<line x1="381.74" y1="491.5" x2="381.74" y2="523.52" stroke="#ec96a4" stroke-width="1.15" />
<line x1="379.74" y1="491.5" x2="383.74" y2="491.5" stroke="#ec96a4" stroke-width="1.15" />
<line x1="379.74" y1="523.52" x2="383.74" y2="523.52" stroke="#ec96a4" stroke-width="1.15" />
<circle cx="381.74" cy="507.41" r="2.2" fill="#ec96a4" stroke="none" stroke-width="0" />
<line x1="395.96" y1="502.89" x2="395.96" y2="528.44" stroke="#ec96a4" stroke-width="1.15" />
<line x1="393.96" y1="502.89" x2="397.96" y2="502.89" stroke="#ec96a4" stroke-width="1.15" />
<line x1="393.96" y1="528.44" x2="397.96" y2="528.44" stroke="#ec96a4" stroke-width="1.15" />
<circle cx="395.96" cy="515.47" r="2.2" fill="#ec96a4" stroke="none" stroke-width="0" />
<line x1="410.18" y1="483.63" x2="410.18" y2="515.47" stroke="#ec96a4" stroke-width="1.15" />
<line x1="408.18" y1="483.63" x2="412.18" y2="483.63" stroke="#ec96a4" stroke-width="1.15" />
<line x1="408.18" y1="515.47" x2="412.18" y2="515.47" stroke="#ec96a4" stroke-width="1.15" />
<circle cx="410.18" cy="499.55" r="2.2" fill="#ec96a4" stroke="none" stroke-width="0" />
<polyline points="438.8,484.4 440,485.97 441.2,487.39 442.4,488.67 443.6,489.81 444.8,490.85 445.99,491.78 447.19,492.62 448.39,493.37 449.59,494.05 450.79,494.66 451.99,495.21 453.19,495.7 454.39,496.14 455.59,496.54 456.79,496.9 457.99,497.23 459.19,497.52 460.38,497.78 461.58,498.02 462.78,498.23 463.98,498.42 465.18,498.6 466.38,498.75 467.58,498.89 468.78,499.02 469.98,499.13 471.18,499.23 472.38,499.32 473.58,499.4 474.77,499.48 475.97,499.54 477.17,499.6 478.37,499.66 479.57,499.71 480.77,499.75 481.97,499.79 483.17,499.83 484.37,499.86 485.57,499.89 486.77,499.91 487.97,499.93 489.16,499.96 490.36,499.97 491.56,499.99 492.76,500.01 493.96,500.02 495.16,500.03 496.36,500.04 497.56,500.05 498.76,500.06 499.96,500.07 501.16,500.08 502.36,500.08 503.55,500.09 504.75,500.1 505.95,500.1 507.15,500.11 508.35,500.11 509.55,500.11" fill="none" stroke="#2366b2" stroke-width="1.7" stroke-linecap="round" stroke-linejoin="round"/>
<polyline points="438.8,476.47 440,479.46 441.2,482.26 442.4,484.89 443.6,487.35 444.8,489.66 445.99,491.82 447.19,493.84 448.39,495.74 449.59,497.51 450.79,499.18 451.99,500.74 453.19,502.2 454.39,503.57 455.59,504.85 456.79,506.05 457.99,507.18 459.19,508.23 460.38,509.22 461.58,510.15 462.78,511.02 463.98,511.83 465.18,512.59 466.38,513.3 467.58,513.97 468.78,514.6 469.98,515.19 471.18,515.74 472.38,516.25 473.58,516.73 474.77,517.19 475.97,517.61 477.17,518.01 478.37,518.38 479.57,518.73 480.77,519.05 481.97,519.36 483.17,519.65 484.37,519.91 485.57,520.17 486.77,520.4 487.97,520.62 489.16,520.83 490.36,521.02 491.56,521.2 492.76,521.37 493.96,521.53 495.16,521.68 496.36,521.82 497.56,521.95 498.76,522.08 499.96,522.19 501.16,522.3 502.36,522.4 503.55,522.5 504.75,522.58 505.95,522.67 507.15,522.75 508.35,522.82 509.55,522.89" fill="none" stroke="#b71c35" stroke-width="1.7" stroke-linecap="round" stroke-linejoin="round"/>
<line x1="440.3" y1="471.26" x2="440.3" y2="499.94" stroke="#2366b2" stroke-width="1.15" />
<line x1="438.3" y1="471.26" x2="442.3" y2="471.26" stroke="#2366b2" stroke-width="1.15" />
<line x1="438.3" y1="499.94" x2="442.3" y2="499.94" stroke="#2366b2" stroke-width="1.15" />
<circle cx="440.3" cy="485.6" r="2.2" fill="#2366b2" stroke="none" stroke-width="0" />
<line x1="454.45" y1="474.2" x2="454.45" y2="510.36" stroke="#2366b2" stroke-width="1.15" />
<line x1="452.45" y1="474.2" x2="456.45" y2="474.2" stroke="#2366b2" stroke-width="1.15" />
<line x1="452.45" y1="510.36" x2="456.45" y2="510.36" stroke="#2366b2" stroke-width="1.15" />
<circle cx="454.45" cy="491.89" r="2.2" fill="#2366b2" stroke="none" stroke-width="0" />
<line x1="468.6" y1="495.82" x2="468.6" y2="530.6" stroke="#2366b2" stroke-width="1.15" />
<line x1="466.6" y1="495.82" x2="470.6" y2="495.82" stroke="#2366b2" stroke-width="1.15" />
<line x1="466.6" y1="530.6" x2="470.6" y2="530.6" stroke="#2366b2" stroke-width="1.15" />
<circle cx="468.6" cy="513.31" r="2.2" fill="#2366b2" stroke="none" stroke-width="0" />
<line x1="482.75" y1="475.38" x2="482.75" y2="508.79" stroke="#2366b2" stroke-width="1.15" />
<line x1="480.75" y1="475.38" x2="484.75" y2="475.38" stroke="#2366b2" stroke-width="1.15" />
<line x1="480.75" y1="508.79" x2="484.75" y2="508.79" stroke="#2366b2" stroke-width="1.15" />
<circle cx="482.75" cy="491.89" r="2.2" fill="#2366b2" stroke="none" stroke-width="0" />
<line x1="496.9" y1="469.49" x2="496.9" y2="504.46" stroke="#2366b2" stroke-width="1.15" />
<line x1="494.9" y1="469.49" x2="498.9" y2="469.49" stroke="#2366b2" stroke-width="1.15" />
<line x1="494.9" y1="504.46" x2="498.9" y2="504.46" stroke="#2366b2" stroke-width="1.15" />
<circle cx="496.9" cy="486.98" r="2.2" fill="#2366b2" stroke="none" stroke-width="0" />
<line x1="511.05" y1="492.48" x2="511.05" y2="527.65" stroke="#2366b2" stroke-width="1.15" />
<line x1="509.05" y1="492.48" x2="513.05" y2="492.48" stroke="#2366b2" stroke-width="1.15" />
<line x1="509.05" y1="527.65" x2="513.05" y2="527.65" stroke="#2366b2" stroke-width="1.15" />
<circle cx="511.05" cy="510.36" r="2.2" fill="#2366b2" stroke="none" stroke-width="0" />
<line x1="438.8" y1="456.52" x2="438.8" y2="495.82" stroke="#b71c35" stroke-width="1.15" />
<line x1="436.8" y1="456.52" x2="440.8" y2="456.52" stroke="#b71c35" stroke-width="1.15" />
<line x1="436.8" y1="495.82" x2="440.8" y2="495.82" stroke="#b71c35" stroke-width="1.15" />
<circle cx="438.8" cy="476.36" r="2.2" fill="#b71c35" stroke="none" stroke-width="0" />
<line x1="452.95" y1="484.81" x2="452.95" y2="515.86" stroke="#b71c35" stroke-width="1.15" />
<line x1="450.95" y1="484.81" x2="454.95" y2="484.81" stroke="#b71c35" stroke-width="1.15" />
<line x1="450.95" y1="515.86" x2="454.95" y2="515.86" stroke="#b71c35" stroke-width="1.15" />
<circle cx="452.95" cy="500.34" r="2.2" fill="#b71c35" stroke="none" stroke-width="0" />
<line x1="467.1" y1="502.89" x2="467.1" y2="525.49" stroke="#b71c35" stroke-width="1.15" />
<line x1="465.1" y1="502.89" x2="469.1" y2="502.89" stroke="#b71c35" stroke-width="1.15" />
<line x1="465.1" y1="525.49" x2="469.1" y2="525.49" stroke="#b71c35" stroke-width="1.15" />
<circle cx="467.1" cy="514.09" r="2.2" fill="#b71c35" stroke="none" stroke-width="0" />
<line x1="481.25" y1="510.95" x2="481.25" y2="537.28" stroke="#b71c35" stroke-width="1.15" />
<line x1="479.25" y1="510.95" x2="483.25" y2="510.95" stroke="#b71c35" stroke-width="1.15" />
<line x1="479.25" y1="537.28" x2="483.25" y2="537.28" stroke="#b71c35" stroke-width="1.15" />
<circle cx="481.25" cy="524.11" r="2.2" fill="#b71c35" stroke="none" stroke-width="0" />
<line x1="495.4" y1="504.46" x2="495.4" y2="533.55" stroke="#b71c35" stroke-width="1.15" />
<line x1="493.4" y1="504.46" x2="497.4" y2="504.46" stroke="#b71c35" stroke-width="1.15" />
<line x1="493.4" y1="533.55" x2="497.4" y2="533.55" stroke="#b71c35" stroke-width="1.15" />
<circle cx="495.4" cy="519.59" r="2.2" fill="#b71c35" stroke="none" stroke-width="0" />
<line x1="509.55" y1="506.82" x2="509.55" y2="538.46" stroke="#b71c35" stroke-width="1.15" />
<line x1="507.55" y1="506.82" x2="511.55" y2="506.82" stroke="#b71c35" stroke-width="1.15" />
<line x1="507.55" y1="538.46" x2="511.55" y2="538.46" stroke="#b71c35" stroke-width="1.15" />
<circle cx="509.55" cy="522.93" r="2.2" fill="#b71c35" stroke="none" stroke-width="0" />
<text x="0" y="0" font-size="12" text-anchor="start" fill="#000" stroke="#000" stroke-width="0.45" font-weight="bold" transform="translate(524,396.8)">i</text>
<line x1="548.7" y1="406.3" x2="548.7" y2="564.5" stroke="#a0a0a0" stroke-width="1" />
<line x1="549" y1="564.5" x2="684.6" y2="564.5" stroke="#a0a0a0" stroke-width="1" />
<line x1="548.7" y1="565" x2="550.9" y2="565" stroke="#a0a0a0" stroke-width="0.8" />
<text x="0" y="0" font-size="8.1" text-anchor="end" fill="#222222" stroke="#222222" stroke-width="0.12" transform="translate(546,567.92) scale(0.93,1)">0</text>
<line x1="548.7" y1="547.4" x2="550.9" y2="547.4" stroke="#a0a0a0" stroke-width="0.8" />
<text x="0" y="0" font-size="8.1" text-anchor="end" fill="#222222" stroke="#222222" stroke-width="0.12" transform="translate(546,550.32) scale(0.93,1)">2</text>
<line x1="548.7" y1="529.8" x2="550.9" y2="529.8" stroke="#a0a0a0" stroke-width="0.8" />
<text x="0" y="0" font-size="8.1" text-anchor="end" fill="#222222" stroke="#222222" stroke-width="0.12" transform="translate(546,532.72) scale(0.93,1)">4</text>
<line x1="548.7" y1="512.2" x2="550.9" y2="512.2" stroke="#a0a0a0" stroke-width="0.8" />
<text x="0" y="0" font-size="8.1" text-anchor="end" fill="#222222" stroke="#222222" stroke-width="0.12" transform="translate(546,515.12) scale(0.93,1)">6</text>
<line x1="548.7" y1="494.6" x2="550.9" y2="494.6" stroke="#a0a0a0" stroke-width="0.8" />
<text x="0" y="0" font-size="8.1" text-anchor="end" fill="#222222" stroke="#222222" stroke-width="0.12" transform="translate(546,497.52) scale(0.93,1)">8</text>
<line x1="548.7" y1="477" x2="550.9" y2="477" stroke="#a0a0a0" stroke-width="0.8" />
<text x="0" y="0" font-size="8.1" text-anchor="end" fill="#222222" stroke="#222222" stroke-width="0.12" transform="translate(546,479.92) scale(0.93,1)">10</text>
<line x1="548.7" y1="459.4" x2="550.9" y2="459.4" stroke="#a0a0a0" stroke-width="0.8" />
<text x="0" y="0" font-size="8.1" text-anchor="end" fill="#222222" stroke="#222222" stroke-width="0.12" transform="translate(546,462.32) scale(0.93,1)">12</text>
<line x1="548.7" y1="441.8" x2="550.9" y2="441.8" stroke="#a0a0a0" stroke-width="0.8" />
<text x="0" y="0" font-size="8.1" text-anchor="end" fill="#222222" stroke="#222222" stroke-width="0.12" transform="translate(546,444.72) scale(0.93,1)">14</text>
<line x1="548.7" y1="424.2" x2="550.9" y2="424.2" stroke="#a0a0a0" stroke-width="0.8" />
<text x="0" y="0" font-size="8.1" text-anchor="end" fill="#222222" stroke="#222222" stroke-width="0.12" transform="translate(546,427.12) scale(0.93,1)">16</text>
<line x1="548.7" y1="406.6" x2="550.9" y2="406.6" stroke="#a0a0a0" stroke-width="0.8" />
<text x="0" y="0" font-size="8.1" text-anchor="end" fill="#222222" stroke="#222222" stroke-width="0.12" transform="translate(546,409.52) scale(0.93,1)">18</text>
<text x="0" y="0" font-size="8.86" text-anchor="middle" fill="#1d5577" stroke="#1d5577" stroke-width="0.12" font-weight="bold" transform="translate(560.6,403.99) scale(0.93,1)">Exp. 3</text>
<text x="0" y="0" font-size="8.96" text-anchor="middle" fill="#222" stroke="#222" stroke-width="0.12" transform="translate(527.8,476.7) rotate(-90) translate(0,3.23) scale(0.93,1)">Threshold (°)</text>
<polygon points="574.3,556.2 574.3,556.2 573.75,554.89 573.19,553.57 572.61,552.26 572.02,550.94 571.42,549.63 570.8,548.31 570.12,547 569.4,545.68 568.67,544.37 567.97,543.06 567.34,541.74 566.82,540.43 566.37,539.11 565.92,537.8 565.49,536.48 565.09,535.17 564.75,533.85 564.49,532.54 564.34,531.23 564.3,529.91 564.32,528.6 564.36,527.28 564.42,525.97 564.5,524.65 564.58,523.34 564.67,522.02 564.76,520.71 564.85,519.4 564.95,518.08 565.05,516.77 565.16,515.45 565.28,514.14 565.42,512.82 565.56,511.51 565.72,510.19 565.89,508.88 566.08,507.57 566.29,506.25 566.51,504.94 566.76,503.62 567.08,502.31 567.55,500.99 568.11,499.68 568.72,498.37 569.32,497.05 569.86,495.74 570.3,494.42 570.73,493.11 571.15,491.79 571.55,490.48 571.89,489.16 572.15,487.85 572.31,486.54 572.42,485.22 572.52,483.91 572.6,482.59 572.68,481.28 572.75,479.96 572.81,478.65 572.86,477.33 572.91,476.02 572.96,474.71 573,473.39 573.04,472.08 573.08,470.76 573.11,469.45 573.14,468.13 573.17,466.82 573.19,465.5 573.2,464.19 573.22,462.88 573.24,461.56 573.26,460.25 573.29,458.93 573.33,457.62 573.38,456.3 573.52,454.99 573.88,453.67 574.3,452.36 574.3,452.36" fill="#efb0b9" stroke="none" stroke-width="0" />
<polygon points="599.5,557.08 599.5,557.08 600.08,555.84 600.66,554.6 601.23,553.35 601.79,552.11 602.34,550.87 602.88,549.63 603.4,548.39 603.92,547.14 604.44,545.9 604.96,544.66 605.48,543.42 605.98,542.18 606.48,540.93 606.95,539.69 607.38,538.45 607.79,537.21 608.17,535.97 608.57,534.72 608.97,533.48 609.37,532.24 609.74,531 610.08,529.76 610.35,528.51 610.56,527.27 610.68,526.03 610.7,524.79 610.65,523.55 610.55,522.3 610.41,521.06 610.24,519.82 610.03,518.58 609.8,517.34 609.54,516.09 609.28,514.85 609.01,513.61 608.74,512.37 608.43,511.13 608.06,509.88 607.62,508.64 607.16,507.4 606.68,506.16 606.22,504.91 605.79,503.67 605.38,502.43 604.96,501.19 604.53,499.95 604.12,498.7 603.74,497.46 603.43,496.22 603.19,494.98 603.01,493.74 602.84,492.49 602.7,491.25 602.57,490.01 602.46,488.77 602.36,487.53 602.27,486.28 602.19,485.04 602.12,483.8 602.05,482.56 601.99,481.32 601.93,480.07 601.88,478.83 601.83,477.59 601.78,476.35 601.73,475.11 601.68,473.86 601.62,472.62 601.57,471.38 601.51,470.14 601.45,468.9 601.41,467.65 601.37,466.41 601.32,465.17 601.26,463.93 601.16,462.69 600.96,461.44 600.33,460.2 599.5,458.96 599.5,458.96" fill="#c64d5f" stroke="none" stroke-width="0" />
<line x1="574.3" y1="456.76" x2="599.5" y2="462.48" stroke="#f0b0bb" stroke-width="0.45" opacity="0.9"/>
<line x1="574.3" y1="459.4" x2="599.5" y2="488.44" stroke="#f0b0bb" stroke-width="0.45" opacity="0.9"/>
<line x1="574.3" y1="493.72" x2="599.5" y2="515.72" stroke="#f0b0bb" stroke-width="0.45" opacity="0.9"/>
<line x1="574.3" y1="500.76" x2="599.5" y2="481.4" stroke="#f0b0bb" stroke-width="0.45" opacity="0.9"/>
<line x1="574.3" y1="507.8" x2="599.5" y2="471.28" stroke="#f0b0bb" stroke-width="0.45" opacity="0.9"/>
<line x1="574.3" y1="511.32" x2="599.5" y2="520.12" stroke="#f0b0bb" stroke-width="0.45" opacity="0.9"/>
<line x1="574.3" y1="515.28" x2="599.5" y2="512.64" stroke="#f0b0bb" stroke-width="0.45" opacity="0.9"/>
<line x1="574.3" y1="518.8" x2="599.5" y2="504.28" stroke="#f0b0bb" stroke-width="0.45" opacity="0.9"/>
<line x1="574.3" y1="521" x2="599.5" y2="534.64" stroke="#f0b0bb" stroke-width="0.45" opacity="0.9"/>
<line x1="574.3" y1="525.4" x2="599.5" y2="529.36" stroke="#f0b0bb" stroke-width="0.45" opacity="0.9"/>
<line x1="574.3" y1="528.04" x2="599.5" y2="536.84" stroke="#f0b0bb" stroke-width="0.45" opacity="0.9"/>
<line x1="574.3" y1="531.12" x2="599.5" y2="523.64" stroke="#f0b0bb" stroke-width="0.45" opacity="0.9"/>
<line x1="574.3" y1="533.32" x2="599.5" y2="545.64" stroke="#f0b0bb" stroke-width="0.45" opacity="0.9"/>
<line x1="574.3" y1="535.08" x2="599.5" y2="541.24" stroke="#f0b0bb" stroke-width="0.45" opacity="0.9"/>
<line x1="574.3" y1="537.72" x2="599.5" y2="543.44" stroke="#f0b0bb" stroke-width="0.45" opacity="0.9"/>
<line x1="574.3" y1="541.24" x2="599.5" y2="539.04" stroke="#f0b0bb" stroke-width="0.45" opacity="0.9"/>
<circle cx="574.3" cy="456.76" r="1.25" fill="#efb0b9" stroke="#e8909e" stroke-width="0.55" />
<circle cx="574.3" cy="459.4" r="1.25" fill="#efb0b9" stroke="#e8909e" stroke-width="0.55" />
<circle cx="574.3" cy="493.72" r="1.25" fill="#efb0b9" stroke="#e8909e" stroke-width="0.55" />
<circle cx="574.3" cy="500.76" r="1.25" fill="#efb0b9" stroke="#e8909e" stroke-width="0.55" />
<circle cx="574.3" cy="507.8" r="1.25" fill="#efb0b9" stroke="#e8909e" stroke-width="0.55" />
<circle cx="574.3" cy="511.32" r="1.25" fill="#efb0b9" stroke="#e8909e" stroke-width="0.55" />
<circle cx="574.3" cy="515.28" r="1.25" fill="#efb0b9" stroke="#e8909e" stroke-width="0.55" />
<circle cx="574.3" cy="518.8" r="1.25" fill="#efb0b9" stroke="#e8909e" stroke-width="0.55" />
<circle cx="574.3" cy="521" r="1.25" fill="#efb0b9" stroke="#e8909e" stroke-width="0.55" />
<circle cx="574.3" cy="525.4" r="1.25" fill="#efb0b9" stroke="#e8909e" stroke-width="0.55" />
<circle cx="574.3" cy="528.04" r="1.25" fill="#efb0b9" stroke="#e8909e" stroke-width="0.55" />
<circle cx="574.3" cy="531.12" r="1.25" fill="#efb0b9" stroke="#e8909e" stroke-width="0.55" />
<circle cx="574.3" cy="533.32" r="1.25" fill="#efb0b9" stroke="#e8909e" stroke-width="0.55" />
<circle cx="574.3" cy="535.08" r="1.25" fill="#efb0b9" stroke="#e8909e" stroke-width="0.55" />
<circle cx="574.3" cy="537.72" r="1.25" fill="#efb0b9" stroke="#e8909e" stroke-width="0.55" />
<circle cx="574.3" cy="541.24" r="1.25" fill="#efb0b9" stroke="#e8909e" stroke-width="0.55" />
<circle cx="599.5" cy="462.48" r="1.55" fill="#b71c35" stroke="#ffffff" stroke-width="0.45" />
<circle cx="599.5" cy="471.28" r="1.55" fill="#b71c35" stroke="#ffffff" stroke-width="0.45" />
<circle cx="599.5" cy="481.4" r="1.55" fill="#b71c35" stroke="#ffffff" stroke-width="0.45" />
<circle cx="599.5" cy="488.44" r="1.55" fill="#b71c35" stroke="#ffffff" stroke-width="0.45" />
<circle cx="599.5" cy="504.28" r="1.55" fill="#b71c35" stroke="#ffffff" stroke-width="0.45" />
<circle cx="599.5" cy="512.64" r="1.55" fill="#b71c35" stroke="#ffffff" stroke-width="0.45" />
<circle cx="599.5" cy="515.72" r="1.55" fill="#b71c35" stroke="#ffffff" stroke-width="0.45" />
<circle cx="599.5" cy="520.12" r="1.55" fill="#b71c35" stroke="#ffffff" stroke-width="0.45" />
<circle cx="599.5" cy="523.64" r="1.55" fill="#b71c35" stroke="#ffffff" stroke-width="0.45" />
<circle cx="599.5" cy="529.36" r="1.55" fill="#b71c35" stroke="#ffffff" stroke-width="0.45" />
<circle cx="599.5" cy="534.64" r="1.55" fill="#b71c35" stroke="#ffffff" stroke-width="0.45" />
<circle cx="599.5" cy="539.04" r="1.55" fill="#b71c35" stroke="#ffffff" stroke-width="0.45" />
<circle cx="599.5" cy="541.24" r="1.55" fill="#b71c35" stroke="#ffffff" stroke-width="0.45" />
<circle cx="599.5" cy="543.44" r="1.55" fill="#b71c35" stroke="#ffffff" stroke-width="0.45" />
<circle cx="599.5" cy="545.64" r="1.55" fill="#b71c35" stroke="#ffffff" stroke-width="0.45" />
<circle cx="599.5" cy="536.84" r="1.55" fill="#b71c35" stroke="#ffffff" stroke-width="0.45" />
<line x1="565.06" y1="516.6" x2="574.3" y2="516.6" stroke="#2b2b2b" stroke-width="1.7" />
<line x1="599.5" y1="517.04" x2="609.74" y2="517.04" stroke="#2b2b2b" stroke-width="1.7" />
<line x1="574.3" y1="565" x2="574.3" y2="563.4" stroke="#a0a0a0" stroke-width="0.8" />
<line x1="599.5" y1="565" x2="599.5" y2="563.4" stroke="#a0a0a0" stroke-width="0.8" />
<text x="0" y="0" font-size="8.1" text-anchor="middle" fill="#444" stroke="#444" stroke-width="0.12" transform="translate(574.3,575.52) scale(0.93,1)">pre</text>
<text x="0" y="0" font-size="8.1" text-anchor="middle" fill="#444" stroke="#444" stroke-width="0.12" transform="translate(599.5,575.52) scale(0.93,1)">post</text>
<text x="0" y="0" font-size="8.1" text-anchor="middle" fill="#111" stroke="#111" stroke-width="0.12" transform="translate(588.4,583.62) scale(0.93,1)">10 Hz</text>
<polygon points="635,544.76 635,544.76 632.89,543.15 630.89,541.54 628.98,539.93 627.2,538.32 625.45,536.71 623.76,535.1 622.24,533.49 620.98,531.88 619.84,530.27 618.74,528.66 617.9,527.05 617.51,525.44 617.66,523.83 618.17,522.23 618.91,520.62 619.77,519.01 620.62,517.4 621.38,515.79 622.16,514.18 622.98,512.57 623.82,510.96 624.69,509.35 625.58,507.74 626.48,506.13 627.4,504.52 628.35,502.91 629.32,501.3 630.32,499.69 631.58,498.08 632.81,496.47 633.43,494.86 633.63,493.25 633.76,491.64 633.8,490.03 633.8,488.42 633.8,486.81 633.8,485.2 633.8,483.59 633.8,481.98 633.8,480.38 633.8,478.77 633.8,477.16 633.8,475.55 633.8,473.94 633.8,472.33 633.8,470.72 633.8,469.11 633.8,467.5 633.8,465.89 633.8,464.28 633.8,462.67 633.8,461.06 633.8,459.45 633.8,457.84 633.8,456.23 633.8,454.62 633.8,453.01 633.8,451.4 633.8,449.79 633.8,448.18 633.8,446.57 633.81,444.96 633.81,443.35 633.81,441.74 633.81,440.13 633.82,438.53 633.82,436.92 633.83,435.31 633.83,433.7 633.84,432.09 633.84,430.48 633.85,428.87 633.86,427.26 633.86,425.65 633.87,424.04 633.88,422.43 633.89,420.82 634.04,419.21 635,417.6 635,417.6" fill="#adcaec" stroke="none" stroke-width="0" />
<polygon points="660.3,542.56 660.3,542.56 662.11,540.97 663.92,539.39 665.78,537.8 667.61,536.21 669.34,534.62 670.93,533.04 672.61,531.45 674.21,529.86 675.49,528.27 676.21,526.69 676.55,525.1 676.83,523.51 677.02,521.92 677.1,520.34 676.95,518.75 676.45,517.16 675.72,515.58 674.88,513.99 674.02,512.4 673.24,510.81 672.42,509.23 671.55,507.64 670.58,506.05 669.5,504.46 668.23,502.88 666.38,501.29 664.51,499.7 663.37,498.11 662.59,496.53 662.05,494.94 661.9,493.35 661.9,491.77 661.9,490.18 661.9,488.59 661.9,487 661.9,485.42 661.9,483.83 661.9,482.24 661.9,480.65 661.9,479.07 661.9,477.48 661.9,475.89 661.9,474.3 661.9,472.72 661.9,471.13 661.9,469.54 661.9,467.95 661.9,466.37 661.9,464.78 661.9,463.19 661.9,461.61 661.9,460.02 661.9,458.43 661.9,456.84 661.9,455.26 661.9,453.67 661.9,452.08 661.9,450.49 661.9,448.91 661.9,447.32 661.9,445.73 661.9,444.14 661.9,442.56 661.9,440.97 661.9,439.38 661.9,437.8 661.9,436.21 661.9,434.62 661.9,433.03 661.9,431.45 661.99,429.86 662.23,428.27 662.48,426.68 662.6,425.1 662.55,423.51 662.39,421.92 662.13,420.33 661.74,418.75 660.3,417.16 660.3,417.16" fill="#5089c8" stroke="none" stroke-width="0" />
<line x1="635" y1="418.04" x2="660.3" y2="419.8" stroke="#c0d7f1" stroke-width="0.45" opacity="0.9"/>
<line x1="635" y1="438.72" x2="660.3" y2="431.24" stroke="#c0d7f1" stroke-width="0.45" opacity="0.9"/>
<line x1="635" y1="502.52" x2="660.3" y2="517.48" stroke="#c0d7f1" stroke-width="0.45" opacity="0.9"/>
<line x1="635" y1="509.12" x2="660.3" y2="509.56" stroke="#c0d7f1" stroke-width="0.45" opacity="0.9"/>
<line x1="635" y1="512.2" x2="660.3" y2="493.72" stroke="#c0d7f1" stroke-width="0.45" opacity="0.9"/>
<line x1="635" y1="515.72" x2="660.3" y2="513.08" stroke="#c0d7f1" stroke-width="0.45" opacity="0.9"/>
<line x1="635" y1="518.54" x2="660.3" y2="519.24" stroke="#c0d7f1" stroke-width="0.45" opacity="0.9"/>
<line x1="635" y1="521" x2="660.3" y2="512.2" stroke="#c0d7f1" stroke-width="0.45" opacity="0.9"/>
<line x1="635" y1="522.76" x2="660.3" y2="527.16" stroke="#c0d7f1" stroke-width="0.45" opacity="0.9"/>
<line x1="635" y1="525.22" x2="660.3" y2="531.12" stroke="#c0d7f1" stroke-width="0.45" opacity="0.9"/>
<line x1="635" y1="528.04" x2="660.3" y2="524.52" stroke="#c0d7f1" stroke-width="0.45" opacity="0.9"/>
<line x1="635" y1="531.12" x2="660.3" y2="528.92" stroke="#c0d7f1" stroke-width="0.45" opacity="0.9"/>
<line x1="635" y1="534.2" x2="660.3" y2="506.92" stroke="#c0d7f1" stroke-width="0.45" opacity="0.9"/>
<line x1="635" y1="536.84" x2="660.3" y2="521.88" stroke="#c0d7f1" stroke-width="0.45" opacity="0.9"/>
<circle cx="635" cy="418.04" r="1.25" fill="#adcaec" stroke="#8ab6e6" stroke-width="0.55" />
<circle cx="635" cy="438.72" r="1.25" fill="#adcaec" stroke="#8ab6e6" stroke-width="0.55" />
<circle cx="635" cy="502.52" r="1.25" fill="#adcaec" stroke="#8ab6e6" stroke-width="0.55" />
<circle cx="635" cy="509.12" r="1.25" fill="#adcaec" stroke="#8ab6e6" stroke-width="0.55" />
<circle cx="635" cy="512.2" r="1.25" fill="#adcaec" stroke="#8ab6e6" stroke-width="0.55" />
<circle cx="635" cy="515.72" r="1.25" fill="#adcaec" stroke="#8ab6e6" stroke-width="0.55" />
<circle cx="635" cy="518.54" r="1.25" fill="#adcaec" stroke="#8ab6e6" stroke-width="0.55" />
<circle cx="635" cy="521" r="1.25" fill="#adcaec" stroke="#8ab6e6" stroke-width="0.55" />
<circle cx="635" cy="525.22" r="1.25" fill="#adcaec" stroke="#8ab6e6" stroke-width="0.55" />
<circle cx="635" cy="528.04" r="1.25" fill="#adcaec" stroke="#8ab6e6" stroke-width="0.55" />
<circle cx="635" cy="531.12" r="1.25" fill="#adcaec" stroke="#8ab6e6" stroke-width="0.55" />
<circle cx="635" cy="534.2" r="1.25" fill="#adcaec" stroke="#8ab6e6" stroke-width="0.55" />
<circle cx="635" cy="536.84" r="1.25" fill="#adcaec" stroke="#8ab6e6" stroke-width="0.55" />
<circle cx="635" cy="522.76" r="1.25" fill="#adcaec" stroke="#8ab6e6" stroke-width="0.55" />
<circle cx="660.3" cy="419.8" r="1.55" fill="#2366b2" stroke="#ffffff" stroke-width="0.45" />
<circle cx="660.3" cy="431.24" r="1.55" fill="#2366b2" stroke="#ffffff" stroke-width="0.45" />
<circle cx="660.3" cy="493.72" r="1.55" fill="#2366b2" stroke="#ffffff" stroke-width="0.45" />
<circle cx="660.3" cy="506.92" r="1.55" fill="#2366b2" stroke="#ffffff" stroke-width="0.45" />
<circle cx="660.3" cy="509.56" r="1.55" fill="#2366b2" stroke="#ffffff" stroke-width="0.45" />
<circle cx="660.3" cy="513.08" r="1.55" fill="#2366b2" stroke="#ffffff" stroke-width="0.45" />
<circle cx="660.3" cy="517.48" r="1.55" fill="#2366b2" stroke="#ffffff" stroke-width="0.45" />
<circle cx="660.3" cy="521.88" r="1.55" fill="#2366b2" stroke="#ffffff" stroke-width="0.45" />
<circle cx="660.3" cy="524.52" r="1.55" fill="#2366b2" stroke="#ffffff" stroke-width="0.45" />
<circle cx="660.3" cy="527.16" r="1.55" fill="#2366b2" stroke="#ffffff" stroke-width="0.45" />
<circle cx="660.3" cy="531.12" r="1.55" fill="#2366b2" stroke="#ffffff" stroke-width="0.45" />
<circle cx="660.3" cy="528.92" r="1.55" fill="#2366b2" stroke="#ffffff" stroke-width="0.45" />
<circle cx="660.3" cy="519.24" r="1.55" fill="#2366b2" stroke="#ffffff" stroke-width="0.45" />
<circle cx="660.3" cy="512.2" r="1.55" fill="#2366b2" stroke="#ffffff" stroke-width="0.45" />
<line x1="622.71" y1="513.08" x2="635" y2="513.08" stroke="#2b2b2b" stroke-width="1.7" />
<line x1="660.3" y1="510.44" x2="673.05" y2="510.44" stroke="#2b2b2b" stroke-width="1.7" />
<line x1="635" y1="565" x2="635" y2="563.4" stroke="#a0a0a0" stroke-width="0.8" />
<line x1="660.3" y1="565" x2="660.3" y2="563.4" stroke="#a0a0a0" stroke-width="0.8" />
<text x="0" y="0" font-size="8.1" text-anchor="middle" fill="#444" stroke="#444" stroke-width="0.12" transform="translate(635,575.52) scale(0.93,1)">pre</text>
<text x="0" y="0" font-size="8.1" text-anchor="middle" fill="#444" stroke="#444" stroke-width="0.12" transform="translate(660.3,575.52) scale(0.93,1)">post</text>
<text x="0" y="0" font-size="8.1" text-anchor="middle" fill="#111" stroke="#111" stroke-width="0.12" transform="translate(649.15,583.62) scale(0.93,1)">1 Hz</text>
<text x="0" y="0" font-size="8.96" text-anchor="middle" fill="#222" stroke="#222" stroke-width="0.12" transform="translate(625.2,596.63) scale(0.93,1)">Group</text>
</svg>
<div class="gr" style="left:372.80px;top:24.40px;width:11.60px;height:11.60px;opacity:0.3;background:repeating-linear-gradient(45deg,#333 0px,#555 0.38px,rgba(80,80,80,0) 0.95px,#555 1.52px,#333 1.90px)"></div>
<div class="gr" style="left:467.10px;top:24.40px;width:11.60px;height:11.60px;opacity:0.95;background:repeating-linear-gradient(45deg,#333 0px,#555 0.38px,rgba(80,80,80,0) 0.95px,#555 1.52px,#333 1.90px)"></div>
<div class="gr" style="left:571.70px;top:24.40px;width:11.60px;height:11.60px;opacity:0.3;background:repeating-linear-gradient(45deg,#333 0px,#555 0.38px,rgba(80,80,80,0) 0.95px,#555 1.52px,#333 1.90px)"></div>
</body></html>
